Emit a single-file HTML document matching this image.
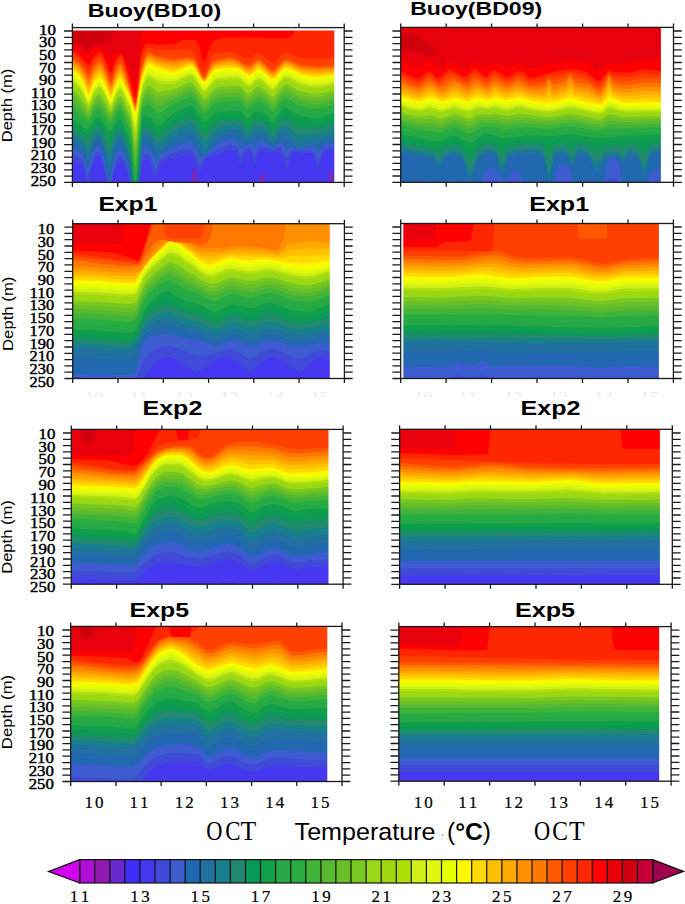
<!DOCTYPE html>
<html><head><meta charset="utf-8"><style>
html,body{margin:0;padding:0;background:#fff;}
body{width:685px;height:904px;overflow:hidden;}
svg{display:block;}
</style></head><body>
<svg width="685" height="904" viewBox="0 0 685 904">
<defs><filter id="soft" x="-5%" y="-5%" width="110%" height="110%"><feGaussianBlur stdDeviation="0.7"/></filter><clipPath id="ghost"><rect x="0" y="388" width="685" height="9"/></clipPath></defs>
<rect width="685" height="904" fill="#fff"/>
<clipPath id="cL1"><rect x="72.4" y="30.4" width="261.9" height="152"/></clipPath><g clip-path="url(#cL1)"><g filter="url(#soft)"><rect x="69.4" y="27.4" width="267.9" height="158" fill="#d00010"/>
<path d="M69.4,43 79.9,44 81.4,45 84.4,49 85.9,50 87.4,49.4 90.4,46.1 91.8,45 100.8,43.9 106.8,42.1 108.3,40.9 111.3,36.8 115.8,32.4 120.3,29.9 123.3,29 337.3,29 L337.3,185.4 L69.4,185.4Z" fill="#e80008"/>
<path d="M69.4,45 72.4,45.2 76.9,47.3 79.9,49.7 84.4,54.4 85.9,55 87.4,54.6 88.9,53.3 93.3,48.6 94.8,48 97.8,48.5 103.8,51.9 105.3,53.5 108.3,58.7 109.8,60 111.3,59 114.3,53.6 115.8,52 118.8,52.8 123.3,56.3 126.3,61.5 130.8,72.2 133.8,83.2 135.3,84.9 136.7,81 138.2,73.4 141.2,38.7 142.7,31.5 144.2,29 337.3,29 L337.3,185.4 L69.4,185.4Z" fill="#ff0000"/>
<path d="M69.4,50.4 72.4,50.7 78.4,54.5 84.4,60.4 87.4,64.6 88.9,65.4 90.4,63.5 93.3,57.6 96.3,54.1 99.3,52.1 100.8,52.3 102.3,54.3 103.8,57.3 106.8,63.8 109.8,71.7 111.3,72.7 112.8,69 114.3,63.8 117.3,57.6 118.8,55.2 120.3,54 121.8,54.9 123.3,58.1 126.3,66.8 133.8,94.7 135.3,97.9 136.7,91.4 139.7,63.4 141.2,54.3 144.2,47.4 145.7,45.3 147.2,44.2 148.7,44 157.7,45 169.7,44.4 175.7,43.5 181.6,40.2 195.1,40 196.6,41.4 199.6,47.6 202.6,59.5 204.1,62 205.6,59.9 208.6,50.6 211.6,44.1 213.1,41.7 214.6,40.2 217.6,39.3 226.5,37.8 237,37 267,38 289.4,38 290.9,37.5 295.4,30.2 337.3,30 L337.3,185.4 L69.4,185.4Z" fill="#ff2800"/>
<path d="M69.4,53 72.4,53.3 78.4,57.5 84.4,64.5 87.4,69.1 88.9,70 90.4,68 93.3,61.6 96.3,57.8 99.3,55.6 100.8,55.9 102.3,57.9 103.8,61.1 109.8,75.8 111.3,76.9 112.8,73.2 114.3,67.8 117.3,61.3 118.8,58.8 120.3,57.5 121.8,58.5 123.3,61.8 126.3,70.8 133.8,98.7 135.3,101.9 136.7,98.1 141.2,62.1 142.7,55.9 144.2,52.3 145.7,49.6 147.2,48.2 150.2,48.3 156.2,50 174.2,50 183.1,49 187.6,49.5 192.1,50.7 193.6,51.4 195.1,53.5 201.1,68.6 202.6,71.1 204.1,72 205.6,70.6 207.1,67.3 211.6,55.4 213.1,54 222.1,52.4 229.5,52 232.5,52.3 235.5,53.4 244.5,58 249,59 250.5,58.6 252,57.5 256.5,53.5 258,53 259.5,53.3 262.5,55.2 270,62 272.9,63 274.4,62.5 275.9,61.4 281.9,54.6 283.4,53.5 284.9,53 287.9,53.5 296.9,57.3 299.9,58 319.3,59 337.3,58 L337.3,185.4 L69.4,185.4Z" fill="#ff4000"/>
<path d="M69.4,57 72.4,57.3 78.4,61.5 81.4,64.6 84.4,68.5 87.4,73.9 88.9,75 90.4,73 93.3,66.5 96.3,62.5 97.8,61 99.3,60.1 100.8,60.3 102.3,62.3 105.3,68.6 109.8,80.7 111.3,81.9 112.8,78.2 114.3,72.9 117.3,66.1 118.8,63.4 120.3,62 121.8,63 126.3,75.8 133.8,101.9 135.3,104.9 136.7,101.4 141.2,69 144.2,58.6 145.7,55 147.2,52.7 148.7,52 150.2,52.3 156.2,55.8 163.7,57.2 174.2,58 184.6,57 190.6,57.6 193.6,58.3 195.1,60.1 196.6,63.1 201.1,73.8 202.6,76.2 204.1,77 205.6,75.8 211.6,62.5 213.1,61 220.6,58.3 226.5,57.2 229.5,57 232.5,57.4 235.5,58.6 244.5,63.9 249,65 250.5,64.6 252,63.5 256.5,59.5 258,59 259.5,59.3 262.5,61.4 270,68.9 271.4,69.7 272.9,70 274.4,69.5 275.9,68.4 283.4,60.1 284.9,59.2 286.4,59 290.9,60.2 299.9,64.5 302.9,65.1 316.3,66 337.3,65 L337.3,185.4 L69.4,185.4Z" fill="#ff5800"/>
<path d="M69.4,59.2 72.4,59.4 76.9,62.4 79.9,65.1 84.4,71.3 87.4,77.2 88.9,78.4 90.4,76.3 93.3,69.4 96.3,65.4 97.8,63.8 99.3,62.9 100.8,63.2 102.3,65.1 105.3,71.4 109.8,83.3 111.3,84.5 112.8,80.8 114.3,75.5 117.3,68.8 118.8,66.1 120.3,64.8 121.8,65.8 123.3,69.2 127.8,82.6 133.8,103.2 135.3,106.3 136.7,102.5 141.2,71.1 144.2,60.9 145.7,57.1 147.2,54.7 148.7,54 151.7,55 156.2,57.6 168.2,60 174.2,60.4 181.6,59.1 186.1,58.8 190.6,59 193.6,59.8 195.1,61.6 196.6,64.5 201.1,74.7 202.6,77.1 204.1,77.9 205.6,76.8 211.6,64.3 213.1,62.7 219.1,60.4 226.5,59 231,58.9 234,59.6 237,60.9 244.5,65.4 249,66.8 250.5,66.4 252,65.3 256.5,61.2 258,60.7 259.5,61 262.5,63.1 270,70.5 271.4,71.3 272.9,71.5 274.4,71.1 275.9,70 283.4,61.6 284.9,60.7 286.4,60.5 290.9,61.7 299.9,66.1 305.9,67.1 316.3,67.8 337.3,66.6 L337.3,185.4 L69.4,185.4Z" fill="#ff7800"/>
<path d="M69.4,61.3 72.4,61.6 76.9,64.5 79.9,67.3 84.4,74.2 87.4,80.5 88.9,81.8 90.4,79.5 93.3,72.4 96.3,68.2 97.8,66.7 99.3,65.8 100.8,66 102.3,67.9 105.3,74.2 109.8,86 111.3,87.1 112.8,83.4 114.3,78.1 117.3,71.4 118.8,68.9 120.3,67.6 121.8,68.5 123.3,71.8 127.8,84.6 133.8,104.5 135.3,107.7 136.7,103.7 141.2,73.2 144.2,63.1 145.7,59.3 147.2,56.8 148.7,56 150.2,56.3 156.2,59.5 157.7,60 165.2,61.7 171.2,62.6 175.7,62.6 186.1,60.4 192.1,60.6 193.6,61.3 195.1,63.1 201.1,75.6 202.6,78 204.1,78.8 205.6,77.7 210.1,68.7 211.6,66.1 213.1,64.4 217.6,62.4 226.5,60.8 231,60.7 235.5,61.7 238.5,63.1 246,67.7 249,68.5 250.5,68.2 252,67.2 256.5,62.9 258,62.4 259.5,62.7 262.5,64.7 270,72 271.4,72.8 272.9,73.1 274.4,72.6 275.9,71.5 283.4,63.1 284.9,62.2 286.4,62 290.9,63.2 299.9,67.7 307.4,69 317.8,69.6 337.3,68.2 L337.3,185.4 L69.4,185.4Z" fill="#ff9000"/>
<path d="M69.4,63.5 72.4,63.7 76.9,66.7 79.9,69.5 84.4,77 87.4,83.8 88.9,85.1 90.4,82.8 93.3,75.3 94.8,73.1 97.8,69.5 99.3,68.6 100.8,68.9 102.3,70.7 105.3,76.9 109.8,88.6 111.3,89.7 112.8,86 114.3,80.7 117.3,74.1 118.8,71.6 120.3,70.4 121.8,71.2 127.8,86.5 130.8,95 133.8,105.8 135.3,109.1 136.7,104.9 141.2,75.2 145.7,61.4 147.2,58.8 148.7,58 150.2,58.2 156.2,61.4 159.2,62.3 165.2,63.9 172.7,65.1 175.7,65 186.1,62.1 189.1,61.7 192.1,62 193.6,62.8 195.1,64.7 201.1,76.5 202.6,78.9 204.1,79.8 205.6,78.7 210.1,70.3 213.1,66.2 216.1,64.5 226.5,62.6 232.5,62.6 237,63.7 246,69.3 249,70.3 250.5,70.1 252,69 256.5,64.6 258,64.1 259.5,64.4 262.5,66.4 270,73.6 271.4,74.4 272.9,74.6 274.4,74.1 275.9,73 283.4,64.6 284.9,63.7 286.4,63.5 290.9,64.7 299.9,69.3 308.9,70.9 317.8,71.4 337.3,69.8 L337.3,185.4 L69.4,185.4Z" fill="#ffa800"/>
<path d="M69.4,65.6 72.4,65.9 76.9,68.8 79.9,71.7 84.4,79.8 87.4,87 88.9,88.5 90.4,86 93.3,78.2 94.8,76 97.8,72.4 99.3,71.5 100.8,71.7 102.3,73.6 105.3,79.7 109.8,91.2 111.3,92.3 112.8,88.7 114.3,83.3 117.3,76.8 118.8,74.4 120.3,73.1 121.8,74 130.8,96.3 133.8,107.1 135.3,110.5 136.7,106.1 138.2,94.7 141.2,77.3 145.7,63.5 147.2,60.8 148.7,59.9 151.7,60.8 156.2,63.3 162.2,65.3 172.7,67.5 175.7,67.3 187.6,63.4 190.6,63.1 192.1,63.4 193.6,64.3 195.1,66.2 201.1,77.4 202.6,79.8 204.1,80.7 205.6,79.7 211.6,69.6 214.6,66.7 219.1,65.4 226.5,64.4 232.5,64.4 237,65.2 240,66.7 246,70.9 249,72.1 250.5,71.9 252,70.9 256.5,66.3 258,65.8 259.5,66.1 262.5,68 270,75.1 272.9,76.1 274.4,75.7 275.9,74.6 283.4,66.1 284.9,65.2 286.4,65 290.9,66.2 299.9,70.8 310.4,72.9 317.8,73.2 332.8,71.6 337.3,71.5 L337.3,185.4 L69.4,185.4Z" fill="#ffc000"/>
<path d="M69.4,67.8 72.4,68 76.9,70.9 79.9,73.9 84.4,82.6 87.4,90.3 88.9,91.9 90.4,89.3 91.8,84.4 93.3,81.1 96.3,76.8 97.8,75.2 99.3,74.3 100.8,74.5 102.3,76.4 106.8,85.7 109.8,93.9 111.3,94.9 112.8,91.3 114.3,85.9 117.3,79.5 118.8,77.1 120.3,75.9 121.8,76.7 130.8,97.5 133.8,108.4 135.3,111.8 136.7,107.2 138.2,95.6 141.2,79.4 145.7,65.7 147.2,62.9 148.7,61.9 151.7,62.8 156.2,65.1 163.7,67.9 172.7,69.8 175.7,69.7 187.6,64.9 190.6,64.5 192.1,64.8 193.6,65.8 195.1,67.7 202.6,80.7 204.1,81.6 205.6,80.7 211.6,71.4 214.6,68.3 217.6,67.3 226.5,66.2 232.5,66.1 237,66.6 240,68 246,72.5 249,73.8 250.5,73.8 252,72.8 256.5,68 258,67.5 259.5,67.7 262.5,69.7 270,76.7 272.9,77.7 274.4,77.2 275.9,76.1 283.4,67.6 284.9,66.7 286.4,66.5 290.9,67.7 299.9,72.4 310.4,74.7 317.8,75 332.8,73.2 337.3,73.1 L337.3,185.4 L69.4,185.4Z" fill="#ffd800"/>
<path d="M69.4,69.9 72.4,70.2 76.9,73 79.9,76.1 84.4,85.4 87.4,93.6 88.9,95.3 90.4,92.5 91.8,87.5 93.3,84 96.3,79.6 97.8,78.1 99.3,77.2 100.8,77.4 102.3,79.2 106.8,88.5 109.8,96.5 111.3,97.6 112.8,93.9 114.3,88.5 117.3,82.2 118.8,79.8 120.3,78.7 121.8,79.5 130.8,98.8 133.8,109.7 135.3,113.2 136.7,108.4 138.2,96.5 141.2,81.5 145.7,67.8 147.2,64.9 148.7,63.9 151.7,64.7 156.2,67 163.7,70 169.7,71.7 174.2,72.3 175.7,72.1 187.6,66.4 190.6,65.8 192.1,66.1 193.6,67.3 198.1,73.6 202.6,81.6 204.1,82.5 205.6,81.6 210.1,75.1 214.6,69.9 216.1,69.2 226.5,68.1 235.5,67.9 238.5,68.5 246,74.1 249,75.6 250.5,75.6 252,74.6 256.5,69.8 258,69.2 259.5,69.4 262.5,71.4 270,78.3 272.9,79.2 274.4,78.8 275.9,77.6 283.4,69.1 284.9,68.2 286.4,68 290.9,69.2 298.4,73.3 301.4,74.5 311.9,76.6 319.3,76.7 332.8,74.8 337.3,74.7 L337.3,185.4 L69.4,185.4Z" fill="#fff800"/>
<path d="M69.4,72.4 72.4,72.6 76.9,75.5 79.9,78.6 84.4,88 87.4,96.2 88.9,97.9 90.4,95.1 91.8,90 93.3,86.5 96.3,82.1 97.8,80.6 99.3,79.7 100.8,80 102.3,81.8 106.8,91 109.8,98.8 111.3,99.8 112.8,96.1 114.3,90.8 117.3,84.6 118.8,82.3 120.3,81.2 121.8,82 130.8,100.7 133.8,112.3 135.3,116 136.7,110.9 138.2,98.7 141.2,83.8 145.7,70.2 147.2,67.4 148.7,66.4 151.7,67.2 156.2,69.6 163.7,72.5 169.7,74.1 174.2,74.6 175.7,74.4 187.6,68.3 190.6,67.7 192.1,68 193.6,69.2 198.1,75.3 202.6,83.2 204.1,84.1 205.6,83.3 210.1,77.1 214.6,71.9 216.1,71.2 226.5,70.2 237,69.9 238.5,70.3 241.5,72.3 246,76.2 249,77.7 250.5,77.7 252,76.7 256.5,71.8 258,71.2 259.5,71.5 262.5,73.3 270,80.2 272.9,81.2 274.4,80.7 275.9,79.5 283.4,70.9 284.9,70 286.4,69.8 290.9,71.1 298.4,75.3 301.4,76.5 311.9,78.7 319.3,78.8 332.8,76.8 337.3,76.6 L337.3,185.4 L69.4,185.4Z" fill="#e8ff00"/>
<path d="M69.4,75.1 72.4,75.3 76.9,78.2 79.9,81.3 84.4,90.4 87.4,98.2 88.9,99.7 90.4,97 91.8,92 93.3,88.6 96.3,84.2 97.8,82.7 99.3,82 100.8,82.3 102.3,84.2 106.8,93.2 109.8,100.7 111.3,101.5 112.8,98 114.3,92.8 117.3,86.7 118.8,84.4 120.3,83.4 121.8,84.3 130.8,103.3 133.8,116.2 135.3,120.1 136.7,114.8 138.2,102.3 141.2,86.3 142.7,81 145.7,72.9 147.2,70.2 148.7,69.4 151.7,70.3 156.2,72.9 162.2,75.1 172.7,76.9 175.7,76.6 187.6,70.6 190.6,70 192.1,70.3 193.6,71.5 198.1,77.6 202.6,85.4 204.1,86.3 205.6,85.5 210.1,79.5 214.6,74.4 216.1,73.7 226.5,72.7 235.5,72.3 238.5,72.7 241.5,74.6 246,78.7 249,80.1 250.5,80 252,78.9 256.5,74.2 258,73.6 259.5,73.8 262.5,75.6 270,82.5 271.4,83.3 272.9,83.6 274.4,83.1 275.9,81.9 283.4,73.2 284.9,72.3 286.4,72.1 290.9,73.5 298.4,77.6 301.4,78.8 311.9,81 319.3,81.1 332.8,78.9 337.3,78.8 L337.3,185.4 L69.4,185.4Z" fill="#e0f810"/>
<path d="M69.4,77.8 72.4,78 76.9,81 79.9,84 84.4,92.8 87.4,100.1 88.9,101.5 90.4,98.9 93.3,90.7 96.3,86.3 97.8,84.9 99.3,84.2 100.8,84.6 102.3,86.5 106.8,95.4 109.8,102.6 111.3,103.3 112.8,99.9 114.3,94.9 117.3,88.8 118.8,86.6 120.3,85.6 121.8,86.6 130.8,105.9 133.8,120.1 135.3,124.2 136.7,118.6 138.2,105.9 141.2,88.9 142.7,83.3 145.7,75.6 147.2,73.1 148.7,72.3 151.7,73.3 156.2,76.2 160.7,77.7 165.2,78.7 172.7,79.3 175.7,78.9 187.6,72.9 190.6,72.3 192.1,72.6 193.6,73.8 198.1,79.9 202.6,87.6 204.1,88.6 205.6,87.8 214.6,76.9 216.1,76.2 226.5,75.1 235.5,74.8 238.5,75.1 241.5,77 246,81.2 249,82.4 250.5,82.3 252,81.2 256.5,76.5 258,76 259.5,76.2 262.5,77.9 270,84.8 271.4,85.7 272.9,86 274.4,85.4 275.9,84.2 283.4,75.4 284.9,74.5 286.4,74.4 290.9,75.8 299.9,80.6 311.9,83.4 319.3,83.4 332.8,81.1 337.3,80.9 L337.3,185.4 L69.4,185.4Z" fill="#d0f018"/>
<path d="M69.4,80.5 72.4,80.7 76.9,83.8 79.9,86.7 84.4,95.1 87.4,102.1 88.9,103.4 90.4,100.7 93.3,92.7 96.3,88.4 97.8,87 99.3,86.4 100.8,86.9 102.3,88.8 106.8,97.6 109.8,104.5 111.3,105.1 112.8,101.7 114.3,96.9 117.3,90.9 118.8,88.7 120.3,87.9 121.8,88.9 130.8,108.5 133.8,123.9 135.3,128.4 136.7,122.5 139.7,99.7 142.7,85.5 145.7,78.3 147.2,76 148.7,75.3 151.7,76.4 156.2,79.6 159.2,80.5 163.7,81.4 171.2,81.6 175.7,81.1 187.6,75.2 190.6,74.5 192.1,74.9 193.6,76.1 198.1,82.2 202.6,89.8 204.1,90.8 205.6,90.1 214.6,79.3 217.6,78.4 228,77.5 237,77.2 238.5,77.5 241.5,79.3 246,83.7 247.5,84.6 249,84.8 250.5,84.5 252,83.4 256.5,78.9 258,78.3 259.5,78.6 262.5,80.2 270,87.1 271.4,88.1 272.9,88.4 274.4,87.8 275.9,86.5 280.4,80.8 283.4,77.6 284.9,76.8 286.4,76.7 290.9,78.1 299.9,83 311.9,85.7 319.3,85.8 332.8,83.3 337.3,83.1 L337.3,185.4 L69.4,185.4Z" fill="#b0e008"/>
<path d="M69.4,83.2 72.4,83.4 76.9,86.5 79.9,89.5 84.4,97.5 87.4,104 88.9,105.2 90.4,102.6 93.3,94.8 96.3,90.5 97.8,89.2 99.3,88.7 100.8,89.2 102.3,91.2 109.8,106.4 111.3,106.9 114.3,98.9 117.3,92.9 118.8,90.9 120.3,90.1 121.8,91.2 130.8,111.1 133.8,127.8 135.3,132.5 136.7,126.3 139.7,102.9 141.2,94 142.7,87.7 145.7,81 147.2,78.9 148.7,78.3 151.7,79.4 156.2,82.9 160.7,84.1 165.2,84.4 172.7,83.9 175.7,83.4 187.6,77.5 190.6,76.8 192.1,77.2 195.1,80.2 202.6,92.1 204.1,93 205.6,92.4 214.6,81.8 217.6,80.9 228,79.9 237,79.6 238.5,79.9 241.5,81.6 246,86.2 247.5,87 249,87.2 250.5,86.8 256.5,81.2 258,80.7 259.5,80.9 261,81.6 264,83.7 270,89.4 271.4,90.4 272.9,90.8 274.4,90.2 275.9,88.8 281.9,81.3 284.9,79 286.4,78.9 289.4,79.8 296.9,84 301.4,85.8 311.9,88 319.3,88.1 332.8,85.5 337.3,85.3 L337.3,185.4 L69.4,185.4Z" fill="#a0d810"/>
<path d="M69.4,85.9 72.4,86.2 78.4,90.5 81.4,94.6 87.4,106 88.9,107 90.4,104.5 93.3,96.9 94.8,94.6 97.8,91.3 99.3,90.9 100.8,91.6 102.3,93.5 109.8,108.3 111.3,108.7 115.8,97.7 118.8,93 120.3,92.4 121.8,93.6 123.3,96.5 130.8,113.7 133.8,131.7 135.3,136.7 136.7,130.2 139.7,106.1 141.2,96.5 142.7,89.9 145.7,83.7 147.2,81.8 148.7,81.3 151.7,82.5 156.2,86.2 159.2,87 163.7,87.3 174.2,86.1 175.7,85.6 187.6,79.7 190.6,79.1 192.1,79.4 195.1,82.5 202.6,94.3 204.1,95.2 205.6,94.7 214.6,84.2 217.6,83.4 228,82.4 237,82 238.5,82.3 241.5,84 246,88.7 247.5,89.5 249,89.6 250.5,89.1 256.5,83.6 258,83.1 259.5,83.3 264,86 271.4,92.8 272.9,93.2 274.4,92.6 275.9,91.1 281.9,83.5 284.9,81.3 286.4,81.2 289.4,82.1 299.9,87.6 311.9,90.4 319.3,90.4 332.8,87.7 337.3,87.5 L337.3,185.4 L69.4,185.4Z" fill="#98d818"/>
<path d="M69.4,89.8 72.4,90.1 78.4,94.6 81.4,98.4 87.4,108.8 88.9,109.7 90.4,107.3 93.3,100 94.8,97.6 97.8,94.5 99.3,94.2 100.8,95 102.3,96.9 109.8,111 111.3,111.3 114.3,103.9 117.3,98.1 118.8,96.2 120.3,95.6 121.8,96.9 123.3,99.9 129.3,113.3 130.8,117.5 132.3,125.7 133.8,137.4 135.3,142.7 136.7,135.8 139.7,110.8 141.2,100.3 142.7,93.2 145.7,87.7 147.2,86 148.7,85.6 150.2,86 151.7,87 156.2,91 159.2,91.7 162.2,91.8 174.2,89.4 187.6,83.1 190.6,82.5 192.1,82.8 195.1,85.9 202.6,97.6 204.1,98.5 205.6,98 207.1,96.5 214.6,87.9 217.6,87 228,86 237,85.6 240,86.3 241.5,87.4 246,92.4 247.5,93.1 249,93.1 250.5,92.5 255,88 256.5,87 258,86.6 259.5,86.8 264,89.3 267,91.8 270,95.1 271.4,96.3 272.9,96.7 274.4,96 275.9,94.5 281.9,86.8 284.9,84.6 286.4,84.5 289.4,85.5 296.9,89.8 299.9,91.1 311.9,93.8 319.3,93.8 332.8,90.9 337.3,90.7 L337.3,185.4 L69.4,185.4Z" fill="#78c820"/>
<path d="M69.4,93.8 72.4,94.1 78.4,98.6 81.4,102.3 87.4,111.7 88.9,112.3 90.4,110 91.8,106.1 94.8,100.7 96.3,98.8 97.8,97.7 99.3,97.5 100.8,98.4 102.3,100.4 109.8,113.8 111.3,114 114.3,106.9 117.3,101.2 118.8,99.4 120.3,98.9 121.8,100.3 123.3,103.3 129.3,116.9 130.8,121.3 132.3,130.2 133.8,143.1 135.3,148.8 136.7,141.5 141.2,104 142.7,96.4 145.7,91.6 147.2,90.3 148.7,90 150.2,90.4 156.2,95.9 157.7,96.4 160.7,96.5 163.7,96 175.7,92.3 187.6,86.4 190.6,85.9 192.1,86.2 195.1,89.2 202.6,100.8 204.1,101.8 205.6,101.3 207.1,100 214.6,91.5 219.1,90.4 231,89.4 237,89.1 240,89.8 241.5,90.8 246,96.1 247.5,96.8 249,96.6 250.5,95.8 255,91.4 256.5,90.5 258,90.1 259.5,90.3 264,92.6 267,95.1 271.4,99.8 272.9,100.2 274.4,99.5 275.9,97.9 281.9,90 284.9,87.9 286.4,87.9 289.4,88.9 296.9,93.3 299.9,94.5 311.9,97.2 319.3,97.2 332.8,94.1 337.3,93.9 L337.3,185.4 L69.4,185.4Z" fill="#68c028"/>
<path d="M69.4,97.8 72.4,98.1 78.4,102.7 81.4,106.2 87.4,114.6 88.9,115 90.4,112.8 93.3,106.1 94.8,103.7 96.3,101.9 97.8,100.8 99.3,100.8 100.8,101.8 102.3,103.8 108.3,114.6 109.8,116.6 111.3,116.6 114.3,109.8 117.3,104.2 118.8,102.5 120.3,102.2 121.8,103.7 123.3,106.7 129.3,120.5 130.8,125.1 132.3,134.7 133.8,148.8 135.3,154.9 136.7,147.1 141.2,107.8 142.7,99.6 145.7,95.6 147.2,94.5 148.7,94.3 150.2,94.8 156.2,100.8 157.7,101.2 160.7,101.1 163.7,100.3 175.7,95.6 186.1,90.3 190.6,89.2 192.1,89.5 193.6,90.7 198.1,97 201.1,102 202.6,104.1 204.1,105 205.6,104.7 207.1,103.4 214.6,95.1 216.1,94.5 220.6,93.8 232.5,92.9 237,92.7 240,93.2 241.5,94.3 246,99.8 247.5,100.4 249,100.1 250.5,99.2 255,94.7 258,93.6 259.5,93.7 262.5,95 265.5,97 271.4,103.3 272.9,103.8 274.4,103 275.9,101.2 278.9,96.8 281.9,93.3 283.4,91.9 284.9,91.2 286.4,91.2 289.4,92.3 296.9,96.7 299.9,97.9 311.9,100.6 319.3,100.6 332.8,97.3 337.3,97 L337.3,185.4 L69.4,185.4Z" fill="#58b830"/>
<path d="M69.4,101.8 72.4,102 76.9,105.4 79.9,108.2 87.4,117.4 88.9,117.7 90.4,115.5 93.3,109.1 94.8,106.8 96.3,104.9 97.8,104 99.3,104.1 100.8,105.1 102.3,107.2 108.3,117.7 109.8,119.4 111.3,119.2 117.3,107.3 118.8,105.7 120.3,105.5 121.8,107.1 123.3,110.1 129.3,124.1 130.8,128.9 132.3,139.2 133.8,154.5 135.3,160.9 136.7,152.8 141.2,111.5 142.7,102.9 145.7,99.6 147.2,98.7 148.7,98.7 150.2,99.2 156.2,105.6 159.2,106 163.7,104.6 184.6,94.3 187.6,93.1 190.6,92.6 192.1,92.9 193.6,94.1 196.6,98.1 201.1,105.3 202.6,107.3 204.1,108.3 205.6,108 207.1,106.8 214.6,98.7 216.1,98.1 220.6,97.5 234,96.4 237,96.2 240,96.7 241.5,97.7 246,103.4 247.5,104.1 249,103.6 250.5,102.6 255,98.1 258,97.1 259.5,97.2 262.5,98.4 265.5,100.3 267,101.5 271.4,106.7 272.9,107.3 274.4,106.5 278.9,100 281.9,96.5 283.4,95.2 284.9,94.5 286.4,94.6 289.4,95.6 298.4,100.8 305.9,102.9 311.9,104 316.3,104.3 319.3,104 332.8,100.5 337.3,100.2 L337.3,185.4 L69.4,185.4Z" fill="#40b438"/>
<path d="M69.4,107.1 72.4,107.4 75.4,109.7 79.9,113.7 87.4,121.3 88.9,121.3 90.4,119.3 93.3,113.3 96.3,109.1 97.8,108.3 99.3,108.5 100.8,109.8 108.3,121.8 109.8,123.2 111.3,122.8 117.3,111.5 118.8,110 120.3,110 121.8,111.7 123.3,114.8 129.3,129 130.8,134 132.3,145.4 133.8,162.3 135.3,169.2 136.7,160.5 141.2,116.6 142.7,107.3 145.7,104.9 147.2,104.5 150.2,105.2 156.2,112.2 159.2,112.4 162.2,111.4 171.2,105.5 183.1,99.4 187.6,97.7 190.6,97.2 192.1,97.5 193.6,98.6 196.6,102.7 201.1,109.8 202.6,111.7 204.1,112.7 205.6,112.6 207.1,111.5 213.1,104.8 214.6,103.6 220.6,102.4 235.5,101.1 240,101.3 241.5,102.4 246,108.4 247.5,109 249,108.4 253.5,103.7 255,102.6 258,101.9 261,102.3 264,103.8 267,105.9 271.4,111.5 272.9,112 274.4,111.2 280.4,102.6 283.4,99.7 284.9,99 286.4,99.1 289.4,100.3 295.4,104.1 298.4,105.5 305.9,107.6 311.9,108.7 316.3,108.9 319.3,108.6 332.8,104.9 337.3,104.6 L337.3,185.4 L69.4,185.4Z" fill="#28ac40"/>
<path d="M69.4,112.5 72.4,112.8 76.9,116.4 82.9,122 87.4,125.2 88.9,124.9 90.4,123 93.3,117.4 96.3,113.3 97.8,112.6 99.3,113 100.8,114.4 102.3,116.5 106.8,124 108.3,125.9 109.8,126.9 111.3,126.3 117.3,115.6 118.8,114.2 120.3,114.4 121.8,116.3 127.8,129.9 130.8,139.2 132.3,151.5 133.8,170 135.3,177.4 136.7,168.1 141.2,121.7 142.7,111.7 144.2,110.7 147.2,110.2 150.2,111.2 151.7,112.7 154.7,117.2 156.2,118.8 157.7,119.1 159.2,118.9 163.7,116.4 172.7,109.3 184.6,103.2 187.6,102.2 190.6,101.7 192.1,102 193.6,103.2 201.1,114.3 202.6,116.2 204.1,117.2 205.6,117.1 207.1,116.2 213.1,109.7 214.6,108.5 220.6,107.3 235.5,106 240,106 241.5,107 246,113.4 247.5,113.9 249,113.2 253.5,108.2 255,107.2 258,106.6 261,107 264,108.3 267,110.2 271.4,116.2 272.9,116.8 274.4,115.9 280.4,107 283.4,104.1 284.9,103.5 287.9,104.1 295.4,108.8 298.4,110.2 305.9,112.2 311.9,113.3 316.3,113.5 319.3,113.3 332.8,109.2 337.3,108.9 L337.3,185.4 L69.4,185.4Z" fill="#28a848"/>
<path d="M69.4,117.9 72.4,118.2 82.9,127 85.9,128.7 87.4,129.1 88.9,128.5 90.4,126.7 94.8,119.2 96.3,117.5 97.8,116.9 99.3,117.5 100.8,119 106.8,128.4 108.3,130 109.8,130.7 111.3,129.9 112.8,127.7 117.3,119.8 118.8,118.5 120.3,118.9 121.8,120.9 123.3,124.1 127.8,134.7 130.8,144.3 132.3,157.6 133.8,177.7 135.3,185.4 136.7,175.8 141.2,126.8 142.7,116.1 144.2,115.6 145.7,115.7 150.2,117.1 151.7,118.8 154.7,123.7 156.2,125.4 157.7,125.7 159.2,125.3 162.2,123.5 172.7,114 184.6,107.7 187.6,106.7 190.6,106.3 192.1,106.6 193.6,107.7 201.1,118.8 202.6,120.6 204.1,121.6 205.6,121.7 207.1,120.9 213.1,114.5 214.6,113.4 222.1,112 237,110.7 240,110.7 241.5,111.7 246,118.4 247.5,118.9 249,117.9 253.5,112.6 255,111.7 258,111.4 261,111.6 264,112.8 267,114.6 271.4,120.9 272.9,121.6 274.4,120.6 278.9,113.2 280.4,111.4 283.4,108.5 284.9,108 287.9,108.7 296.9,114.3 304.4,116.5 311.9,117.9 316.3,118.2 319.3,117.9 323.8,116.7 332.8,113.6 337.3,113.2 L337.3,185.4 L69.4,185.4Z" fill="#10a048"/>
<path d="M69.4,123 72.4,123.2 81.4,130.5 85.9,133.7 87.4,134.4 88.9,133.4 94.8,123.6 96.3,121.9 97.8,121.4 99.3,122.1 100.8,123.7 108.3,136.4 109.8,136.9 111.3,135.2 117.3,124.3 118.8,123 120.3,123.5 121.8,125.5 123.3,128.6 127.8,139.3 130.8,149.6 132.3,163.8 133.8,185.2 135.3,185.4 136.7,183.1 141.2,131.9 142.7,120.8 144.2,120.6 145.7,120.9 150.2,122.6 151.7,124.3 154.7,129.6 156.2,131.3 157.7,131.6 159.2,131.2 162.2,129.3 171.2,120.5 174.2,118.4 184.6,113 187.6,112 190.6,111.6 192.1,111.9 193.6,113.1 202.6,126.2 204.1,127.2 205.6,127.4 207.1,126.6 208.6,125.2 213.1,119.9 214.6,118.7 222.1,116.8 232.5,115.7 240,115.5 241.5,116.5 246,123.4 247.5,123.8 249,122.7 253.5,117.3 255,116.5 261,116.5 264,117.5 267,119.3 271.4,125.8 272.9,126.6 274.4,125.5 278.9,118 280.4,116.4 283.4,113.7 284.9,113.2 287.9,114 296.9,120.3 302.9,121.8 310.4,122.9 316.3,123 319.3,122.7 332.8,118.5 337.3,118.2 L337.3,185.4 L69.4,185.4Z" fill="#089858"/>
<path d="M69.4,127.7 72.4,128 75.4,130.1 84.4,137.2 85.9,139.6 87.4,141.1 88.9,139.6 94.8,128.4 96.3,126.6 97.8,126.1 99.3,126.8 100.8,128.6 105.3,136.9 108.3,145.1 109.8,145.4 114.3,134.9 117.3,129.1 118.8,127.8 120.3,128.2 121.8,130.1 123.3,133 127.8,143.8 129.3,148.6 130.8,155 133.8,185.4 136.7,185.4 141.2,137.1 142.7,125.8 144.2,125.6 145.7,125.9 150.2,127.6 151.7,129.4 154.7,134.8 156.2,136.6 157.7,136.8 159.2,136.4 162.2,134.7 171.2,126.4 174.2,124.4 184.6,119 187.6,118 190.6,117.6 192.1,117.9 193.6,119.1 202.6,133 204.1,134.1 205.6,134.2 207.1,133.4 208.6,131.8 213.1,125.9 214.6,124.4 222.1,121.6 229.5,120.2 235.5,120.1 240,120.5 241.5,121.6 246,128.3 247.5,128.7 249,127.6 253.5,122.3 255,121.5 261,121.6 265.5,123.2 267,124.3 271.4,130.9 272.9,131.7 274.4,130.7 278.9,123.4 281.9,120.7 283.4,119.6 284.9,119.2 287.9,120.2 293.9,125.6 296.9,127.7 301.4,128.5 308.9,128.7 317.8,128 322.3,127.1 332.8,124.1 337.3,123.8 L337.3,185.4 L69.4,185.4Z" fill="#208870"/>
<path d="M69.4,132.4 72.4,132.7 81.4,138.9 84.4,141.8 85.9,145.4 87.4,147.9 88.9,145.8 90.4,141.8 94.8,133.2 96.3,131.4 97.8,130.8 99.3,131.5 102.3,136 105.3,142.6 108.3,153.8 109.8,153.9 112.8,144 115.8,136.8 117.3,133.9 118.8,132.5 120.3,132.8 121.8,134.6 124.8,140.8 127.8,148.2 129.3,153.4 130.8,160.4 132.3,176.1 133.8,185.4 136.7,185.4 138.2,177.9 141.2,142.2 142.7,130.8 144.2,130.6 145.7,130.9 150.2,132.6 151.7,134.4 154.7,139.9 156.2,141.8 157.7,142.1 159.2,141.7 162.2,140.1 171.2,132.4 174.2,130.4 184.6,125 187.6,124 190.6,123.6 192.1,123.9 193.6,125.2 201.1,137.9 202.6,139.8 204.1,141 205.6,141.1 207.1,140.2 208.6,138.4 214.6,130.1 222.1,126.3 226.5,125 229.5,124.5 234,124.6 240,125.5 241.5,126.7 246,133.2 247.5,133.6 249,132.6 253.5,127.2 255,126.5 259.5,126.5 262.5,127.1 265.5,128.3 267,129.3 271.4,136.1 272.9,136.8 274.4,135.8 278.9,128.8 281.9,126.4 284.9,125.2 286.4,125.5 287.9,126.4 295.4,134.1 296.9,135 298.4,135.3 302.9,135.3 307.4,134.8 320.8,132.5 332.8,129.6 337.3,129.3 L337.3,185.4 L69.4,185.4Z" fill="#18808c"/>
<path d="M69.4,137.1 72.4,137.4 79.9,141.9 82.9,144.5 84.4,146.4 85.9,151.3 87.4,154.6 88.9,152 90.4,147.1 91.8,143.7 94.8,138 96.3,136.1 97.8,135.5 99.3,136.3 102.3,141 105.3,148.2 108.3,162.5 109.8,162.4 112.8,149.7 115.8,141.8 117.3,138.8 118.8,137.2 120.3,137.5 121.8,139.2 123.3,141.9 127.8,152.7 130.8,165.9 132.3,182.3 133.8,185.4 136.7,185.4 138.2,184 141.2,147.4 142.7,135.8 144.2,135.6 145.7,135.9 150.2,137.6 151.7,139.5 154.7,145.1 156.2,147.1 157.7,147.3 159.2,147 162.2,145.5 171.2,138.3 174.2,136.4 184.6,131 187.6,130 190.6,129.6 192.1,129.9 193.6,131.3 201.1,144.6 202.6,146.6 204.1,147.8 205.6,148 207.1,146.9 208.6,145.1 214.6,135.8 219.1,132.8 223.6,130.4 226.5,129.3 229.5,128.9 234,129.1 240,130.5 241.5,131.8 246,138.1 247.5,138.5 249,137.5 253.5,132.2 255,131.5 259.5,131.7 262.5,132.2 265.5,133.3 267,134.3 271.4,141.2 272.9,141.9 274.4,141 278.9,134.2 281.9,132.1 284.9,131.2 286.4,131.6 287.9,132.6 295.4,141.3 296.9,142.3 298.4,142.6 304.4,141.8 316.3,138.4 332.8,135.1 337.3,134.9 L337.3,185.4 L69.4,185.4Z" fill="#2070a0"/>
<path d="M69.4,142.4 72.4,142.7 79.9,146.8 82.9,149.4 84.4,151.9 85.9,157.9 87.4,161.9 88.9,158.9 90.4,153.3 91.8,149.4 94.8,143.2 96.3,141.1 97.8,140.4 99.3,141.3 102.3,146.6 105.3,154.8 108.3,171.4 109.8,171.2 112.8,156.5 115.8,147.8 117.3,144.5 118.8,142.8 120.3,143.1 121.8,144.6 123.3,147.1 126.3,153.5 127.8,157.9 130.8,172.1 132.3,185.4 138.2,185.4 139.7,173.1 141.2,153.4 142.7,141.5 144.2,141.2 145.7,141.5 150.2,143.4 151.7,145.6 154.7,152 156.2,153.6 157.7,153.3 159.2,152.3 172.7,142.8 184.6,137.1 187.6,136.2 190.6,135.8 192.1,136.2 193.6,137.9 198.1,146.4 201.1,151 202.6,152.4 204.1,152.9 205.6,152.6 207.1,151.4 213.1,142.9 216.1,140 223.6,135.5 226.5,134.3 229.5,133.7 234,134.2 237,135.2 244.5,141.2 246,142.2 247.5,142.4 252,139.2 255,138.5 258,136.8 259.5,136.6 262.5,137.2 267,138.9 271.4,144.9 272.9,145.6 274.4,144.7 278.9,139.1 280.4,138.1 283.4,138.1 290.9,141.8 295.4,146 296.9,146.9 298.4,147.1 302.9,146.5 311.9,143.8 313.4,143.6 317.8,144.5 323.8,141.3 334.3,139.5 337.3,139.5 L337.3,185.4 L69.4,185.4Z" fill="#2068b0"/>
<path d="M69.4,148.3 72.4,148.5 79.9,152.4 82.9,154.9 84.4,158.3 85.9,165.3 87.4,169.6 88.9,166.6 91.8,155.7 94.8,148.8 96.3,146.4 97.8,145.6 99.3,146.6 100.8,149.1 103.8,156.6 105.3,162.4 108.3,180.5 109.8,180.3 112.8,164.3 115.8,154.6 117.3,151.1 118.8,149.2 120.3,149.5 121.8,150.9 123.3,153.2 126.3,159.2 127.8,163.8 132.3,185.4 138.2,185.4 139.7,180.5 141.2,160.1 142.7,147.8 144.2,147.5 145.7,147.9 150.2,150 154.7,160.6 156.2,161.3 157.7,159.9 160.7,155.4 162.2,154.1 168.2,150.3 172.7,148 181.6,144.3 189.1,142.3 190.6,142.2 192.1,142.8 193.6,145 198.1,154.8 199.6,156.6 201.1,157.3 202.6,157 204.1,156.2 208.6,152.3 214.6,146.2 223.6,141 226.5,139.7 229.5,139.2 232.5,139.4 235.5,140.3 237,141.4 240,146.6 241.5,147.7 243,147.1 244.5,145.9 247.5,145.4 250.5,143.9 252,145 253.5,147 255,147.6 258,142.3 259.5,141.4 267,143.3 271.4,147.3 272.9,147.7 274.4,147.2 278.9,143.4 280.4,142.8 281.9,143.6 286.4,148.8 287.9,149.1 290.9,146.7 292.4,146.2 295.4,148 298.4,148.9 304.4,148.4 311.9,146.9 313.4,147.4 316.3,151.3 317.8,152.3 319.3,151.3 322.3,146.4 323.8,144.9 334.3,143 337.3,143 L337.3,185.4 L69.4,185.4Z" fill="#3c5cd0"/>
<path d="M69.4,154.1 72.4,154.4 78.4,157.1 82.9,160.4 84.4,164.7 85.9,172.7 87.4,177.3 88.9,174.2 91.8,162.1 94.8,154.5 96.3,151.7 97.8,150.8 99.3,152 100.8,154.7 103.8,163 105.3,170 106.8,180.9 108.3,185.4 109.8,185.4 111.3,181.6 112.8,172.2 114.3,166 117.3,157.7 118.8,155.7 120.3,155.9 121.8,157.1 123.3,159.2 126.3,164.9 127.8,169.7 130.8,185.4 139.7,185.4 141.2,166.9 142.7,154.1 144.2,153.8 145.7,154.2 150.2,156.6 154.7,169.3 156.2,169.1 160.7,159.7 162.2,158 166.7,155.5 171.2,153.7 181.6,150.3 187.6,148.9 190.6,148.6 192.1,149.4 193.6,152.2 198.1,163.1 199.6,164.2 201.1,163.5 205.6,157.2 207.1,155.8 213.1,152 223.6,146.5 226.5,145.2 229.5,144.6 232.5,144.9 235.5,146 237,147.7 240,155.6 241.5,156.7 244.5,150.6 246,148.7 250.5,147.7 253.5,155.3 255,156.7 258,147.7 259.5,146.2 267,147.6 271.4,149.6 272.9,149.9 274.4,149.6 278.9,147.7 280.4,147.5 281.9,149.3 284.9,155.9 286.4,158.2 287.9,158.1 290.9,151.6 292.4,149.3 296.9,150.4 301.4,150.8 311.9,149.9 313.4,151.2 316.3,158.3 317.8,160.2 319.3,158.7 322.3,150.9 323.8,148.5 332.8,146.7 337.3,146.5 L337.3,185.4 L69.4,185.4Z" fill="#4048d8"/>
<path d="M69.4,160 72.4,160.2 78.4,162.6 81.4,164.5 82.9,165.9 84.4,171.1 85.9,180 87.4,185 88.9,181.8 91.8,168.4 93.3,164.2 96.3,157.1 97.8,156 99.3,157.3 100.8,160.3 103.8,169.4 106.8,185.4 111.3,185.4 115.8,168.2 117.3,164.2 118.8,162.1 120.3,162.3 121.8,163.4 123.3,165.3 126.3,170.6 127.8,175.6 129.3,183.3 130.8,185.4 139.7,185.4 142.7,160.4 144.2,160.1 147.2,161.2 150.2,163.2 153.2,173.9 154.7,177.9 156.2,176.8 160.7,164 162.2,161.9 168.2,159.4 186.1,155.4 190.6,155 192.1,155.9 193.6,159.3 196.6,168.4 198.1,171.4 199.6,171.8 201.1,169.8 205.6,159.5 207.1,158 216.1,155.8 225.1,151.3 229.5,150 232.5,150.4 235.5,151.7 237,153.9 240,164.7 241.5,165.6 244.5,155.3 246,152 247.5,151.4 249,151.1 250.5,151.5 253.5,163.5 255,165.8 258,153.1 259.5,151 265.5,152 280.4,152.2 281.9,155 284.9,164.6 286.4,167.7 287.9,167 292.4,152.4 293.9,152 302.9,152.9 311.9,153 313.4,154.9 316.3,165.2 317.8,168 319.3,166.1 322.3,155.4 323.8,152.1 328.3,150.9 334.3,150 337.3,150 L337.3,185.4 L69.4,185.4Z" fill="#4438f0"/>
<path d="M69.4,185.4 180.2,185.4 190.6,185 193.6,185.4 214.6,185.4 229.5,183.3 235.5,183.9 238.5,185.4 243,185.4 244.5,185.1 246,184 249,183.7 250.5,183.8 252,185.4 256.5,185.4 259.5,183.7 280.4,184.1 283.4,185.4 290.9,185.4 292.4,184.1 293.9,184 311.9,184.3 314.9,185.4 320.8,185.4 322.3,185.1 323.8,184 325.3,183.8 337.3,183.3 L337.3,185.4 L69.4,185.4Z" fill="#412dfa"/>
<ellipse cx="194" cy="177" rx="2.8" ry="8" fill="#7a2ab8"/>
<ellipse cx="262" cy="179" rx="2.4" ry="6" fill="#7a2ab8"/>
<ellipse cx="331" cy="178" rx="2.6" ry="7" fill="#7a2ab8"/></g></g>
<rect x="72.4" y="27.6" width="271.8" height="154.8" fill="none" stroke="#1a1a1a" stroke-width="1.3"/>
<path d="M72.4,27.6V23.6M72.4,182.4V186.9M117.7,27.6V23.6M117.7,182.4V186.9M163,27.6V23.6M163,182.4V186.9M208.3,27.6V23.6M208.3,182.4V186.9M253.6,27.6V23.6M253.6,182.4V186.9M298.9,27.6V23.6M298.9,182.4V186.9M344.2,27.6V23.6M344.2,182.4V186.9M72.4,31H64.1M344.2,31H352.5M72.4,37.3H64.1M344.2,37.3H352.5M72.4,43.6H64.1M344.2,43.6H352.5M72.4,49.9H64.1M344.2,49.9H352.5M72.4,56.2H64.1M344.2,56.2H352.5M72.4,62.5H64.1M344.2,62.5H352.5M72.4,68.8H64.1M344.2,68.8H352.5M72.4,75.2H64.1M344.2,75.2H352.5M72.4,81.5H64.1M344.2,81.5H352.5M72.4,87.8H64.1M344.2,87.8H352.5M72.4,94.1H64.1M344.2,94.1H352.5M72.4,100.4H64.1M344.2,100.4H352.5M72.4,106.7H64.1M344.2,106.7H352.5M72.4,113H64.1M344.2,113H352.5M72.4,119.3H64.1M344.2,119.3H352.5M72.4,125.6H64.1M344.2,125.6H352.5M72.4,131.9H64.1M344.2,131.9H352.5M72.4,138.2H64.1M344.2,138.2H352.5M72.4,144.6H64.1M344.2,144.6H352.5M72.4,150.9H64.1M344.2,150.9H352.5M72.4,157.2H64.1M344.2,157.2H352.5M72.4,163.5H64.1M344.2,163.5H352.5M72.4,169.8H64.1M344.2,169.8H352.5M72.4,176.1H64.1M344.2,176.1H352.5M72.4,182.4H64.1M344.2,182.4H352.5" stroke="#1a1a1a" stroke-width="1.3" fill="none"/>
<text x="87.7" y="16.8" font-family="Liberation Sans" font-size="18.6" font-weight="bold" text-anchor="start" fill="#000" textLength="133.6" lengthAdjust="spacingAndGlyphs" >Buoy(BD10)</text>
<text x="55.9" y="34.8" font-family="Liberation Serif" font-size="14.5" font-weight="normal" text-anchor="end" fill="#000" textLength="16.8" lengthAdjust="spacingAndGlyphs" stroke="#000" stroke-width="0.45">10</text>
<text x="55.9" y="47.4" font-family="Liberation Serif" font-size="14.5" font-weight="normal" text-anchor="end" fill="#000" textLength="16.8" lengthAdjust="spacingAndGlyphs" stroke="#000" stroke-width="0.45">30</text>
<text x="55.9" y="59.9" font-family="Liberation Serif" font-size="14.5" font-weight="normal" text-anchor="end" fill="#000" textLength="16.8" lengthAdjust="spacingAndGlyphs" stroke="#000" stroke-width="0.45">50</text>
<text x="55.9" y="72.5" font-family="Liberation Serif" font-size="14.5" font-weight="normal" text-anchor="end" fill="#000" textLength="16.8" lengthAdjust="spacingAndGlyphs" stroke="#000" stroke-width="0.45">70</text>
<text x="55.9" y="85.1" font-family="Liberation Serif" font-size="14.5" font-weight="normal" text-anchor="end" fill="#000" textLength="16.8" lengthAdjust="spacingAndGlyphs" stroke="#000" stroke-width="0.45">90</text>
<text x="55.9" y="97.6" font-family="Liberation Serif" font-size="14.5" font-weight="normal" text-anchor="end" fill="#000" textLength="25.2" lengthAdjust="spacingAndGlyphs" stroke="#000" stroke-width="0.45">110</text>
<text x="55.9" y="110.2" font-family="Liberation Serif" font-size="14.5" font-weight="normal" text-anchor="end" fill="#000" textLength="25.2" lengthAdjust="spacingAndGlyphs" stroke="#000" stroke-width="0.45">130</text>
<text x="55.9" y="122.8" font-family="Liberation Serif" font-size="14.5" font-weight="normal" text-anchor="end" fill="#000" textLength="25.2" lengthAdjust="spacingAndGlyphs" stroke="#000" stroke-width="0.45">150</text>
<text x="55.9" y="135.3" font-family="Liberation Serif" font-size="14.5" font-weight="normal" text-anchor="end" fill="#000" textLength="25.2" lengthAdjust="spacingAndGlyphs" stroke="#000" stroke-width="0.45">170</text>
<text x="55.9" y="147.9" font-family="Liberation Serif" font-size="14.5" font-weight="normal" text-anchor="end" fill="#000" textLength="25.2" lengthAdjust="spacingAndGlyphs" stroke="#000" stroke-width="0.45">190</text>
<text x="55.9" y="160.4" font-family="Liberation Serif" font-size="14.5" font-weight="normal" text-anchor="end" fill="#000" textLength="25.2" lengthAdjust="spacingAndGlyphs" stroke="#000" stroke-width="0.45">210</text>
<text x="55.9" y="173" font-family="Liberation Serif" font-size="14.5" font-weight="normal" text-anchor="end" fill="#000" textLength="25.2" lengthAdjust="spacingAndGlyphs" stroke="#000" stroke-width="0.45">230</text>
<text x="55.9" y="185.6" font-family="Liberation Serif" font-size="14.5" font-weight="normal" text-anchor="end" fill="#000" textLength="25.2" lengthAdjust="spacingAndGlyphs" stroke="#000" stroke-width="0.45">250</text>
<text transform="translate(12,105.5) rotate(-90)" font-family="Liberation Sans" font-size="15.5" text-anchor="middle" textLength="73.7" lengthAdjust="spacingAndGlyphs">Depth (m)</text>
<clipPath id="cR1"><rect x="400.7" y="27.4" width="260.2" height="154.9"/></clipPath><g clip-path="url(#cR1)"><g filter="url(#soft)"><rect x="397.7" y="24.4" width="266.2" height="160.9" fill="#c80038"/>
<path d="M397.7,26 663.9,26 L663.9,185.3 L397.7,185.3Z" fill="#d00010"/>
<path d="M397.7,26.2 663.9,26.2 L663.9,185.3 L397.7,185.3Z" fill="#e80008"/>
<path d="M397.7,57.6 400.7,57.6 412.7,65.3 417.1,67 420.1,67 426.1,62.5 427.6,61.7 429.1,61.5 430.6,62.3 436.6,68.5 438.1,69 441.1,67.7 447.1,62.5 448.5,61.7 450,61.5 453,62.4 462,68.3 465,69 466.5,68.5 472.5,62.4 474,61.6 475.5,61.6 477,62.1 482.9,66.2 485.9,67.2 487.4,66.7 491.9,62.3 493.4,61.5 496.4,62.1 503.9,66.4 506.9,67.2 509.9,66.5 517.3,62.3 520.3,61.5 521.8,61.8 523.3,62.7 527.8,66.6 530.8,68 535.3,67.5 547.3,63.8 557.7,62.3 566.7,61.6 583.1,61.6 586.1,62.1 589.1,64.2 595.1,69.6 598.1,71.1 599.6,71.1 601.1,70.3 607.1,64.2 608.6,63.5 631,63.3 660.9,59.6 663.9,59.6 L663.9,185.3 L397.7,185.3Z" fill="#ff0000"/>
<path d="M397.7,71 400.7,71 412.7,77.2 415.6,78.2 418.6,78.7 420.1,78.4 421.6,77.3 426.1,72.3 427.6,71.3 429.1,71 430.6,71.8 436.6,78.2 438.1,78.7 439.6,78.2 441.1,77 447.1,70.3 448.5,69.3 450,69 453,69.9 462,76 465,76.8 466.5,76.3 472.5,70 474,69.1 475.5,69.1 477,69.9 482.9,75.4 484.4,76.4 485.9,76.8 487.4,76.2 491.9,70.9 493.4,70 496.4,70.7 503.9,75.9 506.9,76.8 509.9,76.1 518.8,71.2 520.3,71 521.8,71.3 523.3,72.2 527.8,76.5 529.3,77.5 530.8,78 536.8,77.1 547.3,73.6 560.7,70.2 566.7,69.4 571.2,69.4 577.2,70 584.6,71.4 587.6,73 595.1,79.4 598.1,80.7 599.6,80.7 601.1,79.7 605.6,73.8 607.1,72.1 608.6,71.3 626.5,73.1 631,72.5 641.5,69.7 646,69.3 660.9,71.2 663.9,71.2 L663.9,185.3 L397.7,185.3Z" fill="#ff2800"/>
<path d="M397.7,74.5 400.7,74.5 412.7,80.3 415.6,81.3 418.6,81.8 420.1,81.5 421.6,80.5 426.1,75.9 427.6,74.9 429.1,74.6 430.6,75.1 436.6,80.8 438.1,81.4 439.6,81.3 441.1,80.5 447.1,74.9 448.5,73.8 450,73.3 451.5,73.3 454.5,74.1 462,78.9 465,79.9 466.5,79.7 468,78.8 472.5,74.1 474,73.1 475.5,72.9 478.5,74.4 482.9,78.3 485.9,79.8 487.4,79.4 491.9,74.7 493.4,73.7 494.9,73.6 497.9,74.9 503.9,78.9 506.9,79.8 509.9,79.2 517.3,75.1 520.3,74.6 523.3,75.9 527.8,79.7 530.8,81 536.8,80.3 544.3,78.2 545.8,77.6 548.7,75.1 553.2,76.3 565.2,73.3 569.7,71.6 571.2,71.6 574.2,73.5 586.1,75.9 589.1,77.8 595.1,82.6 598.1,84 599.6,84 601.1,83 608.6,72.8 610.1,73.1 613.1,75.4 625,77.1 629.5,76.8 640,74.4 644.5,73.8 663.9,75.2 L663.9,185.3 L397.7,185.3Z" fill="#ff4000"/>
<path d="M397.7,78 400.7,78 412.7,83.5 415.6,84.4 418.6,84.8 420.1,84.6 421.6,83.7 426.1,79.5 427.6,78.5 429.1,78.1 430.6,78.4 432.1,79.4 436.6,83.3 438.1,84.1 439.6,84.3 442.6,83.2 448.5,78.4 450,77.6 453,77.2 456,78 463.5,82.5 466.5,83 468,82.5 469.5,81.4 474,77 475.5,76.6 478.5,77.8 482.9,81.3 485.9,82.7 487.4,82.6 488.9,81.7 491.9,78.5 493.4,77.3 494.9,77.1 497.9,78.2 505.4,82.6 508.4,82.7 517.3,78.4 520.3,78.2 523.3,79.5 529.3,83.6 532.3,84 536.8,83.5 544.3,81.8 545.8,81.1 548.7,77.1 550.2,77.8 551.7,79.8 553.2,80.5 557.7,79.6 565.2,77.2 569.7,73.8 571.2,73.9 574.2,77.4 575.7,78 584.6,79.4 587.6,80.5 595.1,85.9 598.1,87.3 599.6,87.3 601.1,86.4 602.6,84.7 605.6,80.3 608.6,74.3 610.1,74.9 611.6,77.6 613.1,79.2 622,80.8 629.5,80.8 644.5,78.2 663.9,79.1 L663.9,185.3 L397.7,185.3Z" fill="#ff5800"/>
<path d="M397.7,81.5 400.7,81.5 412.7,86.6 418.6,87.9 420.1,87.7 421.6,86.9 426.1,83.1 429.1,81.6 430.6,81.7 432.1,82.4 438.1,86.8 441.1,87.4 444.1,86.3 450,82 453,80.8 454.5,80.7 457.5,81.7 465,86.1 468,86.3 469.5,85.4 474,81 475.5,80.3 478.5,81.2 482.9,84.2 485.9,85.7 487.4,85.8 488.9,85.2 493.4,81 494.9,80.5 497.9,81.5 505.4,85.7 508.4,85.8 515.8,82.2 518.8,81.6 521.8,82.4 529.3,86.7 532.3,87 538.3,86.5 544.3,85.5 545.8,84.6 548.7,79.1 550.2,80.3 551.7,83.4 553.2,84.8 557.7,83.9 565.2,81 569.7,76.1 571.2,76.2 574.2,81.2 575.7,82.1 584.6,83.4 587.6,84.2 590.6,85.8 595.1,89.2 598.1,90.6 599.6,90.6 601.1,89.7 604.1,86 605.6,83.5 608.6,75.8 610.1,76.8 611.6,80.7 613.1,83.1 620.5,84.7 628,85 644.5,82.6 663.9,83 L663.9,185.3 L397.7,185.3Z" fill="#ff7800"/>
<path d="M397.7,85 400.7,85 412.7,89.8 418.6,91 421.6,90.1 427.6,85.7 429.1,85.1 430.6,85 433.6,86.3 439.6,90.4 442.6,91 445.6,89.7 451.5,85.2 454.5,84 457.5,84.6 465,89.2 468,90 469.5,89.5 474,85 475.5,84.1 478.5,84.5 484.4,87.9 487.4,89 488.9,88.8 493.4,84.7 494.9,84 497.9,84.7 503.9,88.2 506.9,89 509.9,88.3 515.8,85.4 518.8,85.1 521.8,86 529.3,89.8 535.3,89.9 544.3,89.1 545.8,88.2 548.7,81.1 550.2,82.8 551.7,87.1 553.2,89 556.2,88.6 559.2,87.8 565.2,84.9 569.7,78.4 571.2,78.5 574.2,85.1 575.7,86.2 587.6,87.9 590.6,89.2 596.6,93.4 598.1,93.9 599.6,93.9 601.1,93 602.6,91.4 605.6,86.7 608.6,77.3 610.1,78.7 611.6,83.8 613.1,87 619,88.5 626.5,89 644.5,87 663.9,87 L663.9,185.3 L397.7,185.3Z" fill="#ff9000"/>
<path d="M397.7,87.8 400.7,87.8 412.7,92.4 418.6,93.6 421.6,92.8 427.6,88.8 430.6,88.1 433.6,89.2 439.6,93 442.6,93.5 445.6,92.5 451.5,88.6 454.5,87.5 457.5,88 465,92 468,92.8 469.5,92.4 474,88.3 475.5,87.4 477,87.4 480,88.4 484.4,90.8 487.4,91.8 488.9,91.6 493.4,87.9 494.9,87.3 497.9,87.9 503.9,91 506.9,91.8 509.9,91.2 515.8,88.5 518.8,88.1 521.8,89 529.3,92.4 539.8,92.8 544.3,92.5 545.8,91.8 548.7,86.3 550.2,87.6 551.7,90.9 553.2,92.3 557.7,91.5 565.2,88.4 569.7,83.2 571.2,83.3 574.2,88.5 575.7,89.4 589.1,91.9 596.6,96.1 599.6,96.6 601.1,95.9 604.1,92.6 605.6,90.1 608.6,82.1 610.1,83.2 611.6,87.3 613.1,89.9 622,92.2 628,92.4 644.5,90.9 663.9,90.8 L663.9,185.3 L397.7,185.3Z" fill="#ffa800"/>
<path d="M397.7,90.7 400.7,90.7 412.7,95.1 418.6,96.2 421.6,95.5 427.6,91.8 430.6,91.2 433.6,92.1 438.1,94.9 441.1,96.1 444.1,95.8 451.5,91.9 454.5,91 457.5,91.4 465,94.9 468,95.6 469.5,95.3 475.5,90.7 477,90.6 480,91.6 484.4,93.7 487.4,94.6 488.9,94.4 493.4,91.2 494.9,90.6 497.9,91.1 503.9,93.9 506.9,94.6 509.9,94 515.8,91.5 518.8,91.2 521.8,91.9 529.3,95 542.8,95.9 545.8,95.4 548.7,91.5 550.2,92.4 551.7,94.8 553.2,95.7 557.7,94.8 565.2,91.9 569.7,88 571.2,88 574.2,91.9 575.7,92.6 589.1,95.4 596.6,98.8 599.6,99.3 601.1,98.8 604.1,95.7 605.6,93.4 608.6,87 610.1,87.7 611.6,90.7 613.1,92.7 619,94.7 623.5,95.7 629.5,95.8 644.5,94.8 663.9,94.6 L663.9,185.3 L397.7,185.3Z" fill="#ffc000"/>
<path d="M397.7,93.5 400.7,93.5 412.7,97.7 418.6,98.7 421.6,98.1 427.6,94.9 430.6,94.2 433.6,95.1 439.6,98.2 442.6,98.7 445.6,98 451.5,95.3 454.5,94.5 457.5,94.8 465,97.8 468,98.4 469.5,98.2 475.5,94 478.5,94.2 484.4,96.6 487.4,97.4 488.9,97.2 494.9,93.9 497.9,94.3 503.9,96.8 506.9,97.4 509.9,96.9 515.8,94.6 518.8,94.2 521.8,94.8 530.8,98 544.3,99.2 545.8,99 548.7,96.7 550.2,97.2 551.7,98.6 553.2,99 556.2,98.4 565.2,95.4 569.7,92.8 571.2,92.8 574.2,95.3 575.7,95.8 589.1,98.9 596.6,101.6 599.6,101.9 601.1,101.7 602.6,100.7 605.6,96.7 608.6,91.8 610.1,92.3 613.1,95.5 620.5,98.3 625,99.3 663.9,98.3 L663.9,185.3 L397.7,185.3Z" fill="#ffd800"/>
<path d="M397.7,96.4 400.7,96.4 412.7,100.3 418.6,101.3 421.6,100.8 427.6,97.9 430.6,97.3 433.6,98 439.6,100.8 442.6,101.3 454.5,98 457.5,98.2 465,100.6 468,101.2 469.5,101.1 475.5,97.3 477,97.2 487.4,100.2 488.9,100.1 494.9,97.2 497.9,97.5 503.9,99.6 506.9,100.2 509.9,99.7 515.8,97.6 518.8,97.3 521.8,97.8 530.8,100.6 539.8,102.1 545.8,102.6 548.7,101.9 553.2,102.4 568.2,97.9 571.2,97.6 584.6,101.5 595.1,104 599.6,104.6 601.1,104.6 602.6,103.7 607.1,98 608.6,96.6 610.1,96.8 620.5,101.6 625,102.7 663.9,102.1 L663.9,185.3 L397.7,185.3Z" fill="#fff800"/>
<path d="M397.7,98.8 400.7,98.8 412.7,102.7 418.6,103.6 421.6,103.2 427.6,100.6 430.6,100 433.6,100.7 438.1,102.7 441.1,103.6 444.1,103.5 453,101 456,100.8 468,103.7 469.5,103.7 475.5,100.2 477,100 487.4,102.5 488.9,102.4 494.9,99.9 496.4,99.9 503.9,102.1 506.9,102.6 509.9,102.2 515.8,100.3 518.8,99.9 521.8,100.3 529.3,102.6 536.8,104 542.8,105 548.7,105.4 554.7,104.6 566.7,101.3 572.7,101.1 587.6,104.9 596.6,106.6 601.1,106.9 602.6,106.2 607.1,101.1 608.6,100.2 610.1,100.2 613.1,100.9 622,104.7 625,105.3 647.4,105.4 663.9,104.9 L663.9,185.3 L397.7,185.3Z" fill="#e8ff00"/>
<path d="M397.7,100.9 400.7,100.9 412.7,104.7 418.6,105.7 421.6,105.3 427.6,102.9 430.6,102.4 433.6,103.1 438.1,105 441.1,105.9 444.1,105.6 451.5,103.4 454.5,102.9 457.5,103.1 468,106 469.5,106 471,105.4 475.5,102.5 477,102.3 480,102.6 487.4,104.4 488.9,104.3 494.9,102.1 496.4,102.1 503.9,104.3 506.9,104.7 509.9,104.3 515.8,102.4 518.8,102 521.8,102.4 529.3,104.5 536.8,105.9 542.8,106.8 548.7,107.2 554.7,106.5 566.7,103.3 572.7,103.1 587.6,106.8 596.6,108.4 601.1,108.8 602.6,108.1 607.1,103.3 608.6,102.4 610.1,102.4 613.1,103 622,106.5 625,107.1 647.4,107.1 663.9,106.6 L663.9,185.3 L397.7,185.3Z" fill="#e0f810"/>
<path d="M397.7,103 400.7,103 412.7,106.7 418.6,107.7 421.6,107.4 427.6,105.3 430.6,104.8 433.6,105.5 438.1,107.3 441.1,108.1 444.1,107.8 451.5,105.4 454.5,105 457.5,105.3 468,108.3 469.5,108.3 471,107.7 475.5,104.9 477,104.6 480,104.7 487.4,106.3 488.9,106.2 494.9,104.2 496.4,104.2 503.9,106.4 506.9,106.8 509.9,106.4 515.8,104.6 518.8,104.2 521.8,104.5 529.3,106.4 538.3,108 548.7,109.1 554.7,108.3 566.7,105.3 572.7,105 587.6,108.6 599.6,110.6 601.1,110.6 602.6,110 607.1,105.4 608.6,104.6 613.1,105.1 620.5,107.9 625,108.9 663.9,108.4 L663.9,185.3 L397.7,185.3Z" fill="#d0f018"/>
<path d="M397.7,105.1 400.7,105.1 412.7,108.7 417.1,109.6 421.6,109.5 427.6,107.6 430.6,107.2 441.1,110.3 444.1,109.9 451.5,107.5 454.5,107.1 457.5,107.4 466.5,110.4 469.5,110.6 471,110.1 475.5,107.3 477,106.9 480,106.8 485.9,108 488.9,108.1 494.9,106.3 497.9,106.7 503.9,108.5 506.9,108.9 509.9,108.5 517.3,106.5 520.3,106.4 538.3,109.9 548.7,110.9 554.7,110.2 566.7,107.2 571.2,106.9 575.7,107.5 587.6,110.5 599.6,112.5 601.1,112.5 602.6,111.9 607.1,107.6 608.6,106.8 613.1,107.3 620.5,109.8 625,110.7 663.9,110.1 L663.9,185.3 L397.7,185.3Z" fill="#b0e008"/>
<path d="M397.7,107.2 400.7,107.2 412.7,110.7 417.1,111.6 421.6,111.6 427.6,109.9 430.6,109.7 441.1,112.5 444.1,112.1 451.5,109.6 454.5,109.2 457.5,109.5 466.5,112.6 469.5,112.9 471,112.4 475.5,109.6 477,109.2 480,109 488.9,110 494.9,108.4 497.9,108.8 503.9,110.6 506.9,111 509.9,110.6 517.3,108.6 520.3,108.5 539.8,111.9 548.7,112.7 554.7,112.1 566.7,109.2 571.2,108.9 575.7,109.4 592.1,113.3 599.6,114.3 601.1,114.3 602.6,113.8 607.1,109.7 608.6,109 613.1,109.4 620.5,111.7 625,112.5 663.9,111.9 L663.9,185.3 L397.7,185.3Z" fill="#a0d810"/>
<path d="M397.7,109.3 400.7,109.3 412.7,112.7 418.6,113.8 421.6,113.7 427.6,112.3 430.6,112.1 438.1,114.3 441.1,114.8 444.1,114.2 451.5,111.6 454.5,111.3 457.5,111.7 466.5,114.9 469.5,115.3 477,111.5 481.4,111.1 488.9,111.9 494.9,110.6 506.9,113.1 509.9,112.8 517.3,110.8 520.3,110.7 539.8,113.8 548.7,114.5 554.7,113.9 566.7,111.1 571.2,110.8 575.7,111.4 592.1,115.2 599.6,116.2 601.1,116.2 602.6,115.7 607.1,111.9 608.6,111.2 613.1,111.5 620.5,113.6 625,114.3 663.9,113.6 L663.9,185.3 L397.7,185.3Z" fill="#98d818"/>
<path d="M397.7,112.3 400.7,112.3 412.7,115.7 417.1,116.6 421.6,116.7 427.6,115.7 430.6,115.6 439.6,118 442.6,117.8 451.5,114.7 454.5,114.3 457.5,114.8 466.5,118.3 469.5,118.7 471,118.2 475.5,115.4 478.5,114.5 482.9,114.1 488.9,114.7 494.9,113.7 505.4,116.1 508.4,116.1 517.3,114 520.3,113.8 541.3,116.7 548.7,117.2 554.7,116.6 566.7,114 571.2,113.7 575.7,114.2 592.1,117.9 599.6,118.9 602.6,118.5 607.1,115.1 608.6,114.4 613.1,114.7 622,116.7 625,117 663.9,116.2 L663.9,185.3 L397.7,185.3Z" fill="#78c820"/>
<path d="M397.7,115.4 400.7,115.4 417.1,119.6 421.6,119.8 430.6,119.1 439.6,121.3 442.6,121 450,118.1 454.5,117.4 457.5,118 466.5,121.6 469.5,122 471,121.7 477,118.2 480,117.3 482.9,117 488.9,117.5 494.9,116.8 505.4,119.2 508.4,119.2 517.3,117.2 520.3,116.9 542.8,119.5 548.7,119.9 554.7,119.4 566.7,116.8 571.2,116.6 577.2,117.4 592.1,120.7 599.6,121.6 602.6,121.2 607.1,118.2 608.6,117.7 610.1,117.6 625,119.6 663.9,118.7 L663.9,185.3 L397.7,185.3Z" fill="#68c028"/>
<path d="M397.7,118.4 400.7,118.4 417.1,122.5 421.6,122.9 430.6,122.7 439.6,124.7 442.6,124.2 451.5,120.7 454.5,120.5 457.5,121.1 466.5,125 469.5,125.4 471,125.1 478.5,121 482.9,119.9 488.9,120.3 494.9,119.9 503.9,122 506.9,122.3 509.9,122 517.3,120.3 521.8,120.1 548.7,122.6 554.7,122.1 566.7,119.7 571.2,119.5 577.2,120.2 593.6,123.7 601.1,124.4 602.6,124 607.1,121.4 610.1,120.8 625,122.2 663.9,121.3 L663.9,185.3 L397.7,185.3Z" fill="#58b830"/>
<path d="M397.7,121.5 400.7,121.5 418.6,125.7 430.6,126.2 439.6,128 442.6,127.4 451.5,123.8 454.5,123.6 457.5,124.3 466.5,128.3 469.5,128.8 472.5,127.8 477,125 480,123.6 484.4,122.7 488.9,123.1 494.9,123 505.4,125.3 508.4,125.3 517.3,123.5 521.8,123.2 548.7,125.3 554.7,124.8 566.7,122.6 571.2,122.3 577.2,123.1 593.6,126.5 601.1,127.1 602.6,126.8 607.1,124.6 610.1,124 625,124.9 663.9,123.8 L663.9,185.3 L397.7,185.3Z" fill="#40b438"/>
<path d="M397.7,125.6 400.7,125.6 418.6,129.8 429.1,130.8 438.1,132.5 439.6,132.5 442.6,131.8 451.5,127.9 454.5,127.7 457.5,128.5 466.5,132.9 469.5,133.5 472.5,132.5 480,127.8 484.4,126.5 494.9,127.3 502.4,129.1 506.9,129.6 518.8,127.6 523.3,127.3 532.3,127.6 545.8,128.8 551.7,128.8 565.2,126.6 571.2,126.2 577.2,126.9 593.6,130.2 599.6,130.8 602.6,130.5 607.1,128.9 610.1,128.4 623.5,128.5 663.9,127.3 L663.9,185.3 L397.7,185.3Z" fill="#28ac40"/>
<path d="M397.7,129.8 400.7,129.8 417.1,133.6 438.1,137.1 439.6,137 442.6,136.1 450,132.4 453,131.8 454.5,131.9 457.5,132.8 466.5,137.4 469.5,138.1 472.5,137.3 480,132 482.9,130.6 484.4,130.3 493.4,131.2 502.4,133.3 506.9,133.7 524.8,131.3 532.3,131.4 550.2,132.5 566.7,130.3 571.2,130.2 577.2,130.8 593.6,133.9 599.6,134.5 602.6,134.3 608.6,132.9 613.1,132.6 634,131.6 663.9,130.8 L663.9,185.3 L397.7,185.3Z" fill="#28a848"/>
<path d="M397.7,133.9 400.7,133.9 432.1,140.9 438.1,141.7 442.6,140.5 450,136.6 453,135.9 454.5,136.1 457.5,137.1 466.5,142 469.5,142.7 472.5,142 481.4,135.2 484.4,134.1 490.4,134.7 502.4,137.6 506.9,137.9 526.3,135.2 532.3,135.1 550.2,136.2 566.7,134.2 571.2,134.1 577.2,134.6 593.6,137.7 599.6,138.2 629.5,135.3 663.9,134.3 L663.9,185.3 L397.7,185.3Z" fill="#10a048"/>
<path d="M397.7,138.2 400.7,138.2 420.1,142.4 432.1,145.3 438.1,147.1 439.6,147 441.1,146.4 445.6,143.2 450,141 453,140.4 454.5,140.5 457.5,141.5 460.5,143.3 466.5,148.2 469.5,150 471,149.8 472.5,148.9 478.5,142.6 481.4,140.1 484.4,138.6 485.9,138.4 490.4,139 494.9,140.3 500.9,144.1 502.4,144.5 503.9,144.3 508.4,142.2 527.8,139.3 535.3,139.4 542.8,140.3 547.3,143.8 548.7,144.4 550.2,144 554.7,140.2 565.2,138.8 572.7,140.4 578.7,139.1 587.6,141.2 595.1,144 598.1,144.3 605.6,142.2 616,141 623.5,141.2 628,139.8 631,139.4 637,139.8 643,142.3 644.5,142.3 650.4,139.2 663.9,138.2 L663.9,185.3 L397.7,185.3Z" fill="#089858"/>
<path d="M397.7,142.6 400.7,142.6 432.1,149.2 438.1,153.4 439.6,153.4 441.1,152.4 444.1,149.1 445.6,147.7 447.1,147 451.5,145.5 456,145.5 459,146.9 462,149.1 463.5,150.9 468,158.6 469.5,159.9 471,159.7 472.5,158 477,150.3 478.5,148.6 482.9,144.5 485.9,143.3 490.4,143.7 494.9,145.1 496.4,146.4 500.9,153.6 502.4,154.2 503.9,153 508.4,146.8 509.9,146.4 520.3,144.4 527.8,143.6 533.8,143.8 541.3,144.9 542.8,145.6 547.3,155.4 548.7,157.2 550.2,155.9 553.2,147.8 554.7,145.2 559.2,144.4 565.2,143.9 566.7,144.7 571.2,149 572.7,149.1 574.2,147.9 577.2,144.5 578.7,143.6 581.6,144 589.1,147.3 593.6,151.4 596.6,153.1 598.1,152.9 599.6,152.1 604.1,148 605.6,147.2 616,146 617.5,146.3 622,148.5 623.5,148.6 628,145.1 629.5,144.3 631,144.2 637,145.9 638.5,147.2 643,153.8 644.5,154.1 646,152.5 648.9,146.9 650.4,144.9 654.9,143.5 660.9,142.6 663.9,142.6 L663.9,185.3 L397.7,185.3Z" fill="#208870"/>
<path d="M397.7,147 400.7,147 417.1,150.7 432.1,153 433.6,154.2 438.1,159.7 439.6,159.9 441.1,158.5 444.1,153.9 445.6,152.2 451.5,150.3 456,150.1 459,151.6 462,154 463.5,156.4 468,167.8 469.5,169.8 471,169.5 472.5,167.2 477,156.6 478.5,154.5 482.9,149.9 485.9,148.1 490.4,148.4 494.9,150 496.4,151.9 500.9,163.1 502.4,163.9 503.9,161.8 506.9,154.2 508.4,151.5 509.9,150.7 515.8,149.3 523.3,148.3 530.8,148 535.3,148.4 541.3,149.8 542.8,150.9 544.3,155.3 547.3,167 548.7,169.9 550.2,167.8 553.2,154.4 554.7,150.2 556.2,149.8 565.2,149 566.7,150.3 569.7,155.7 571.2,157.7 572.7,157.7 574.2,155.7 577.2,149.7 578.7,148.1 581.6,148.5 584.6,149.9 589.1,153 593.6,159.3 595.1,161.1 596.6,162 598.1,161.6 599.6,160.1 604.1,153.4 605.6,152.1 610.1,151.4 616,151 617.5,151.6 622,155.7 623.5,155.9 625,154.6 628,150.4 629.5,149.1 631,149.1 634,150.1 637,152 638.5,154.3 643,165.3 644.5,165.8 646,163.2 648.9,153.9 650.4,150.6 651.9,149.5 654.9,148.5 660.9,147 663.9,147 L663.9,185.3 L397.7,185.3Z" fill="#18808c"/>
<path d="M397.7,150 400.7,150 417.1,153.7 432.1,156 433.6,157.3 438.1,163.7 439.6,163.8 441.1,162.3 444.1,157.1 445.6,155.3 451.5,153.3 456,153.1 459,154.5 462,157 463.5,159.7 468,173.3 469.5,175.8 471,175.4 472.5,172.5 477,159.7 478.5,157.5 482.9,152.8 485.9,151.1 490.4,151.4 494.9,153 496.4,155.1 500.9,168 502.4,168.9 503.9,166.4 506.9,157.6 508.4,154.5 509.9,153.7 515.8,152.3 523.3,151.3 530.8,151 536.8,151.6 541.3,152.8 542.8,154 544.3,159 547.3,172.5 548.7,175.9 550.2,173.5 553.2,158 554.7,153.2 556.2,152.8 565.2,152 566.7,153.5 569.7,159.4 571.2,161.6 572.7,161.7 574.2,159.5 577.2,152.9 578.7,151.1 581.6,151.5 586.1,153.8 589.1,156.1 593.6,163.7 595.1,165.8 596.6,166.9 598.1,166.5 599.6,164.7 604.1,156.6 605.6,155.2 610.1,154.4 616,154 617.5,154.7 622,159.2 623.5,159.4 625,158 628,153.5 629.5,152.1 631,152.1 634,153.1 637,155 638.5,157.5 643,170.1 644.5,170.8 646,167.8 648.9,157.3 650.4,153.6 651.9,152.5 654.9,151.4 660.9,150 663.9,150 L663.9,185.3 L397.7,185.3Z" fill="#2070a0"/>
<path d="M397.7,153 400.7,153 417.1,156.7 432.1,159 433.6,160.5 438.1,167.6 439.6,167.8 441.1,166.1 444.1,160.3 445.6,158.3 448.5,157.1 453,156.1 456,156.1 457.5,156.6 462,160 463.5,163 468,178.9 469.5,181.8 471,181.3 472.5,177.9 477,162.9 478.5,160.4 481.4,157.1 484.4,154.7 485.9,154.1 490.4,154.4 494.9,156 496.4,158.3 500.9,172.9 502.4,173.9 503.9,171.1 506.9,161.1 508.4,157.6 509.9,156.7 512.9,155.9 521.8,154.4 530.8,154 536.8,154.6 541.3,155.8 542.8,157.1 544.3,162.7 547.3,178.1 548.7,181.9 550.2,179.2 553.2,161.6 554.7,156.2 556.2,155.8 565.2,155 566.7,156.6 569.7,163.2 571.2,165.6 572.7,165.7 574.2,163.3 577.2,156.1 578.7,154.1 580.2,154.1 583.1,155.1 587.6,157.7 589.1,159.2 593.6,168.1 595.1,170.6 596.6,171.9 598.1,171.4 599.6,169.3 604.1,159.9 605.6,158.2 610.1,157.4 616,157 617.5,157.7 622,162.7 623.5,162.9 625,161.4 628,156.6 629.5,155.1 631,155.1 634,156.1 637,158 638.5,160.7 643,175 644.5,175.8 646,172.4 648.9,160.7 650.4,156.6 651.9,155.5 654.9,154.4 660.9,153 663.9,153 L663.9,185.3 L397.7,185.3Z" fill="#2068b0"/>
<path d="M397.7,185.3 426.1,185.3 427.6,183.6 429.1,179 430.6,178.5 432.1,182.6 433.6,185.3 445.6,185.3 447.1,183.8 448.5,178.4 450,180 451.5,185.3 480,185.3 481.4,182 484.4,172.8 485.9,171.1 488.9,168.9 491.9,168 493.4,168.5 494.9,170 497.9,173.8 503.9,179.7 505.4,179.9 506.9,178.8 511.4,172.5 514.3,170.7 517.3,170.1 518.8,171.7 520.3,174.6 524.8,184.9 526.3,185.3 553.2,185.3 556.2,170.1 557.7,167.2 559.2,165.7 562.2,164.1 563.7,164 566.7,165.2 569.7,167.7 571.2,171.8 572.7,180.8 574.2,185.3 604.1,185.3 607.1,163.4 608.6,159.4 611.6,157.3 613.1,157.1 614.5,157.4 616,158.4 619,162.1 620.5,169.4 622,181.1 623.5,185.3 647.4,185.3 650.4,172.9 651.9,171.4 654.9,170.1 656.4,170 660.9,171 663.9,171 L663.9,185.3 L397.7,185.3Z" fill="#3c5cd0"/>
<path d="M397.7,185.3 485.9,185.3 491.9,184 496.4,185.3 517.3,185 518.8,185.3 554.7,185.3 556.2,185 557.7,183.6 559.2,182.9 562.2,182 563.7,182 568.2,183.1 569.7,183.8 571.2,185.3 605.6,185.3 607.1,181.7 608.6,179.7 611.6,178.6 613.1,178.5 616,179.2 619,181 620.5,184.7 622,185.3 653.4,185.3 656.4,185 663.9,185.3 L663.9,185.3 L397.7,185.3Z" fill="#4048d8"/>
<path d="M400.7,33 C410,32 418,35 422,40 C428,44 434,45 436,50 C436,56 428,57 422,53 C414,50 406,52 400.7,50Z" fill="#d00010"/></g></g>
<rect x="400.7" y="27.4" width="272.8" height="154.9" fill="none" stroke="#1a1a1a" stroke-width="1.3"/>
<path d="M400.7,27.4V23.4M400.7,182.3V186.8M446.2,27.4V23.4M446.2,182.3V186.8M491.6,27.4V23.4M491.6,182.3V186.8M537.1,27.4V23.4M537.1,182.3V186.8M582.6,27.4V23.4M582.6,182.3V186.8M628,27.4V23.4M628,182.3V186.8M673.5,27.4V23.4M673.5,182.3V186.8M400.7,31H392.4M673.5,31H681.8M400.7,37.3H392.4M673.5,37.3H681.8M400.7,43.6H392.4M673.5,43.6H681.8M400.7,49.9H392.4M673.5,49.9H681.8M400.7,56.2H392.4M673.5,56.2H681.8M400.7,62.5H392.4M673.5,62.5H681.8M400.7,68.8H392.4M673.5,68.8H681.8M400.7,75.1H392.4M673.5,75.1H681.8M400.7,81.4H392.4M673.5,81.4H681.8M400.7,87.7H392.4M673.5,87.7H681.8M400.7,94H392.4M673.5,94H681.8M400.7,100.3H392.4M673.5,100.3H681.8M400.7,106.7H392.4M673.5,106.7H681.8M400.7,113H392.4M673.5,113H681.8M400.7,119.3H392.4M673.5,119.3H681.8M400.7,125.6H392.4M673.5,125.6H681.8M400.7,131.9H392.4M673.5,131.9H681.8M400.7,138.2H392.4M673.5,138.2H681.8M400.7,144.5H392.4M673.5,144.5H681.8M400.7,150.8H392.4M673.5,150.8H681.8M400.7,157.1H392.4M673.5,157.1H681.8M400.7,163.4H392.4M673.5,163.4H681.8M400.7,169.7H392.4M673.5,169.7H681.8M400.7,176H392.4M673.5,176H681.8M400.7,182.3H392.4M673.5,182.3H681.8" stroke="#1a1a1a" stroke-width="1.3" fill="none"/>
<text x="410.2" y="14.9" font-family="Liberation Sans" font-size="18.6" font-weight="bold" text-anchor="start" fill="#000" textLength="132" lengthAdjust="spacingAndGlyphs" >Buoy(BD09)</text>
<clipPath id="cL2"><rect x="72.7" y="223.7" width="257.1" height="154.8"/></clipPath><g clip-path="url(#cL2)"><g filter="url(#soft)"><rect x="69.7" y="220.7" width="263.1" height="160.8" fill="#d00010"/>
<path d="M69.7,222 332.8,222 L332.8,381.5 L69.7,381.5Z" fill="#e80008"/>
<path d="M69.7,243 101.1,243 120.5,244 122,240.4 123.5,228.8 125,222 332.8,222 L332.8,381.5 L69.7,381.5Z" fill="#ff0000"/>
<path d="M69.7,250.5 96.6,251.5 111.6,252.6 117.5,254 135.5,259.7 138.5,259.9 140,257.7 144.4,246.1 147.4,236.8 150.4,225.3 151.9,222 332.8,222 L332.8,381.5 L69.7,381.5Z" fill="#ff2800"/>
<path d="M69.7,254 72.7,254 135.5,261.8 138.5,261.9 140,259.7 144.4,248.2 151.9,222 332.8,222 L332.8,381.5 L69.7,381.5Z" fill="#ff4000"/>
<path d="M69.7,257 72.7,257 114.5,260.9 129.5,262.9 135.5,264.6 138.5,264.8 140,262.3 142.9,254.4 145.9,245.2 150.4,233.6 151.9,227.9 153.4,224.4 154.9,222.5 156.4,222 162.4,222 163.9,224.8 165.4,234.2 166.9,236.4 172.8,238.4 180.3,239 190.8,238.8 199.8,238 201.2,236.2 205.7,223.6 207.2,222 332.8,222 L332.8,381.5 L69.7,381.5Z" fill="#ff5800"/>
<path d="M69.7,260 75.7,260.3 105.6,264.3 119,265.6 131,266 138.5,264.8 141.5,262.6 145.9,254.1 150.4,246.8 154.9,242.4 157.9,240.5 159.4,240 162.4,240.1 174.3,241.9 190.8,243.1 201.2,244.9 204.2,244.7 207.2,242.1 210.2,237.5 213.2,223.4 214.7,222 332.8,222 L332.8,381.5 L69.7,381.5Z" fill="#ff7800"/>
<path d="M69.7,265.6 119,269.1 131,269.4 135.5,268.6 140,267 141.5,266 153.4,250.2 162.4,240.1 174.3,241.9 189.3,242.9 190.8,243.4 196.8,247.1 199.8,248 220.7,248 234.1,246.2 241.6,246 259.6,247.2 273,249.7 277.5,249.9 279,248.5 280.5,245.9 283.5,238.4 286.5,222.7 288,222 332.8,222 L332.8,381.5 L69.7,381.5Z" fill="#ff9000"/>
<path d="M69.7,269 119,272.7 131,273 137,272 140,271 141.5,270.1 154.9,253.4 160.9,246.7 163.9,243.8 168.4,241 174.3,241.9 181.8,242.5 196.8,251.1 199.8,252 220.7,251.9 234.1,249.3 240.1,249 259.6,250.2 271.5,252.5 276,253 277.5,253 280.5,251.6 286.5,246.1 289.4,244.2 298.4,242.1 305.9,241.2 311.9,241 329.8,243 332.8,243 L332.8,381.5 L69.7,381.5Z" fill="#ffa800"/>
<path d="M69.7,272.7 120.5,276.1 131,276.3 135.5,275.7 140,272.4 141.5,270.8 147.4,262.7 156.4,252.3 163.9,244.9 168.4,241.5 175.8,242.3 181.8,243.6 198.3,254.3 201.2,255.2 208.7,256.1 216.2,255.6 229.7,252.9 235.6,252.4 261,253.4 277.5,255.6 280.5,254.8 288,250.6 290.9,249.9 310.4,248.4 332.8,248.6 L332.8,381.5 L69.7,381.5Z" fill="#ffc000"/>
<path d="M69.7,276.3 96.6,277.6 122,279.5 131,279.6 135.5,279.1 140,273.8 147.4,262.7 151.9,257.5 166.9,243.1 168.4,242.1 169.9,241.8 174.3,242.3 180.3,244 192.3,252.1 199.8,257.9 204.2,259.4 208.7,260.1 214.7,259.5 226.7,256 231.1,255.5 235.6,255.6 247.6,256.8 265.5,256.6 279,258.2 289.4,256 307.4,256 328.3,254.2 332.8,254.1 L332.8,381.5 L69.7,381.5Z" fill="#ffd800"/>
<path d="M69.7,280 101.1,281.1 122,282.9 134,282.9 135.5,282.4 138.5,277.8 144.4,266.8 148.9,260.9 153.4,256.3 160.9,250 166.9,243.8 168.4,242.6 169.9,242 172.8,242.1 178.8,243.9 181.8,246 186.3,249.9 193.8,255.1 199.8,260.9 204.2,263 208.7,264.2 213.2,263.7 225.2,259 229.7,258.3 234.1,258.6 247.6,260.6 262.5,259.4 268.5,259.3 280.5,261.3 304.4,263.6 311.9,263.1 328.3,259.9 332.8,259.7 L332.8,381.5 L69.7,381.5Z" fill="#fff800"/>
<path d="M69.7,283.2 101.1,284.1 122,285.9 134,285.9 135.5,285.4 138.5,280.2 142.9,270.6 147.4,263.9 153.4,257.7 160.9,251.8 166.9,245.5 169.9,243.6 172.8,243.7 178.8,245.7 186.3,252.2 195.3,258.7 199.8,263.5 204.2,266.1 208.7,267.5 213.2,267 223.7,262.2 228.2,261 232.6,261.2 243.1,263.3 247.6,263.8 253.6,263.4 264,261.9 270,261.8 293.9,267.1 304.4,268.5 311.9,268.1 328.3,264 332.8,263.7 L332.8,381.5 L69.7,381.5Z" fill="#e8ff00"/>
<path d="M69.7,285.9 101.1,286.9 123.5,288.8 134,288.6 135.5,288.1 138.5,282.9 142.9,273.1 147.4,266.4 153.4,260.2 160.9,254.3 166.9,248.2 169.9,246.4 172.8,246.7 178.8,248.8 186.3,255.1 195.3,261.3 199.8,266 204.2,268.5 208.7,270 213.2,269.7 225.2,264.3 229.7,263.5 234.1,263.9 243.1,265.9 247.6,266.4 253.6,266.1 265.5,264.2 270,264.3 295.4,269.9 305.9,271.2 311.9,270.6 328.3,266.4 332.8,266.1 L332.8,381.5 L69.7,381.5Z" fill="#e0f810"/>
<path d="M69.7,288.6 101.1,289.6 123.5,291.5 132.5,291.5 135.5,290.8 138.5,285.6 142.9,275.6 147.4,268.9 153.4,262.7 160.9,256.8 166.9,251 169.9,249.3 172.8,249.7 178.8,251.8 186.3,258 195.3,263.9 199.8,268.4 205.7,271.6 208.7,272.5 211.7,272.6 214.7,271.9 225.2,267.1 229.7,266.1 234.1,266.5 244.6,268.7 249.1,269 253.6,268.7 265.5,266.7 270,266.7 274.5,267.5 285,270.3 293.9,272.2 299.9,273.3 305.9,273.7 313.4,272.9 328.3,268.8 332.8,268.5 L332.8,381.5 L69.7,381.5Z" fill="#d0f018"/>
<path d="M69.7,291.4 101.1,292.4 123.5,294.3 134,294 135.5,293.4 137,291.2 142.9,278.1 145.9,273.4 148.9,269.6 153.4,265.1 160.9,259.3 166.9,253.7 169.9,252.2 172.8,252.7 178.8,254.9 186.3,260.8 195.3,266.6 199.8,270.8 205.7,274 210.2,275.2 214.7,274.6 225.2,269.8 229.7,268.7 234.1,269 244.6,271.2 249.1,271.6 253.6,271.3 265.5,269.2 270,269.1 274.5,269.9 285,272.8 292.4,274.5 299.9,275.8 305.9,276.3 313.4,275.5 328.3,271.2 332.8,271 L332.8,381.5 L69.7,381.5Z" fill="#b0e008"/>
<path d="M69.7,294.1 101.1,295.2 123.5,297.1 129.5,297.2 134,296.7 135.5,296.1 137,293.9 142.9,280.6 145.9,275.9 148.9,272.1 153.4,267.6 160.9,261.8 166.9,256.4 169.9,255.1 172.8,255.7 178.8,258 186.3,263.7 195.3,269.2 199.8,273.2 205.7,276.4 210.2,277.7 214.7,277.3 225.2,272.5 229.7,271.4 234.1,271.6 244.6,273.8 249.1,274.2 255.1,273.7 265.5,271.6 270,271.5 274.5,272.3 285,275.4 292.4,277.1 299.9,278.4 305.9,278.9 313.4,278.1 328.3,273.7 332.8,273.4 L332.8,381.5 L69.7,381.5Z" fill="#a0d810"/>
<path d="M69.7,296.9 101.1,297.9 123.5,299.9 129.5,300 134,299.4 135.5,298.7 137,296.6 142.9,283.1 145.9,278.4 148.9,274.6 153.4,270.1 165.4,260.3 168.4,258.3 169.9,258 172.8,258.6 178.8,261 186.3,266.6 195.3,271.8 199.8,275.7 205.7,278.8 210.2,280.2 214.7,279.9 226.7,274.6 231.1,273.9 235.6,274.4 244.6,276.4 249.1,276.8 255.1,276.4 265.5,274.1 270,273.9 274.5,274.7 290.9,279.3 299.9,280.9 305.9,281.4 313.4,280.7 328.3,276.1 332.8,275.8 L332.8,381.5 L69.7,381.5Z" fill="#98d818"/>
<path d="M69.7,300.9 101.1,302 125,304 129.5,304.1 134,303.4 135.5,302.6 137,300.6 142.9,286.8 145.9,282 148.9,278.2 153.4,273.8 165.4,264.2 168.4,262.4 169.9,262.2 172.8,263 178.8,265.5 186.3,270.9 193.8,274.8 199.8,279.2 204.2,281.6 208.7,283.6 211.7,284.1 216.2,283.5 226.7,278.5 231.1,277.7 235.6,278.1 246.1,280.4 250.6,280.7 255.1,280.2 265.5,277.7 270,277.5 274.5,278.2 290.9,283.1 299.9,284.7 305.9,285.2 313.4,284.4 328.3,279.7 332.8,279.3 L332.8,381.5 L69.7,381.5Z" fill="#78c820"/>
<path d="M69.7,304.9 101.1,306.1 125,308.1 129.5,308.2 134,307.3 135.5,306.5 137,304.6 142.9,290.5 145.9,285.7 148.9,281.9 156.4,274.9 165.4,268 168.4,266.5 171.4,266.8 178.8,270 186.3,275.1 195.3,279.6 199.8,282.8 207.2,286.7 211.7,287.9 216.2,287.5 226.7,282.5 231.1,281.5 235.6,281.9 246.1,284.2 250.6,284.5 255.1,284.1 265.5,281.3 270,281 276,282.2 290.9,286.9 299.9,288.5 305.9,289 308.9,288.9 313.4,288.2 328.3,283.2 332.8,282.9 L332.8,381.5 L69.7,381.5Z" fill="#68c028"/>
<path d="M69.7,308.9 102.6,310.2 125,312.2 129.5,312.3 134,311.3 135.5,310.5 137,308.6 142.9,294.1 145.9,289.3 148.9,285.5 151.9,282.4 157.9,277.4 165.4,271.9 168.4,270.6 171.4,271.1 177.3,273.8 186.3,279.3 195.3,283.4 199.8,286.3 207.2,290.3 211.7,291.7 216.2,291.5 219.2,290.3 226.7,286.4 231.1,285.2 235.6,285.6 246.1,288 250.6,288.4 255.1,287.9 265.5,284.9 270,284.5 276,285.8 290.9,290.6 299.9,292.2 305.9,292.8 308.9,292.7 313.4,292 328.3,286.8 332.8,286.4 L332.8,381.5 L69.7,381.5Z" fill="#58b830"/>
<path d="M69.7,312.9 102.6,314.3 126.5,316.4 131,316.2 134,315.2 135.5,314.4 137,312.5 142.9,297.8 145.9,293 148.9,289.1 153.4,284.7 159.4,279.9 165.4,275.8 168.4,274.7 171.4,275.4 177.3,278.2 186.3,283.6 195.3,287.3 208.7,294.6 213.2,295.7 217.7,295 226.7,290.3 231.1,289 235.6,289.3 247.6,292 252.1,292.2 256.6,291.4 265.5,288.5 270,288.1 276,289.3 290.9,294.4 299.9,296 307.4,296.5 310.4,296.3 314.9,295.3 328.3,290.3 332.8,290 L332.8,381.5 L69.7,381.5Z" fill="#40b438"/>
<path d="M69.7,318.4 102.6,319.8 126.5,321.9 129.5,322 132.5,321.3 135.5,319.6 137,317.9 141.5,305.8 142.9,302.8 145.9,298 148.9,294.1 153.4,289.7 159.4,284.8 165.4,281 168.4,280.3 171.4,281.3 186.3,289.3 195.3,292.5 201.2,295.3 208.7,299.5 213.2,301 214.7,301.1 217.7,300.5 228.2,295 232.6,294.1 237.1,294.7 247.6,297.2 252.1,297.5 256.6,296.6 265.5,293.4 270,292.9 276,294.1 290.9,299.5 299.9,301.1 307.4,301.7 310.4,301.5 314.9,300.4 328.3,295.2 329.8,294.8 332.8,294.8 L332.8,381.5 L69.7,381.5Z" fill="#28ac40"/>
<path d="M69.7,323.8 104.1,325.4 126.5,327.5 129.5,327.5 132.5,326.7 135.5,324.9 137,323.3 141.5,310.8 144.4,305.2 148.9,299 153.4,294.6 159.4,289.7 163.9,286.9 166.9,285.9 169.9,286.4 184.8,294.4 199.8,299.5 210.2,305.3 214.7,306.4 219.2,305.3 228.2,300.3 232.6,299.2 237.1,299.7 247.6,302.3 252.1,302.7 256.6,301.8 265.5,298.3 268.5,297.7 271.5,297.8 276,299 290.9,304.6 299.9,306.2 307.4,306.8 313.4,306 328.3,300 329.8,299.6 332.8,299.6 L332.8,381.5 L69.7,381.5Z" fill="#28a848"/>
<path d="M69.7,329.3 105.6,331 126.5,333 131,332.8 134,331.3 137,328.7 141.5,315.7 144.4,310.2 148.9,304 153.4,299.6 159.4,294.6 163.9,292 166.9,291.3 169.9,292.1 174.3,294.9 184.8,300.3 201.2,304.9 210.2,310.3 214.7,311.8 216.2,311.7 219.2,310.8 228.2,305.5 232.6,304.3 237.1,304.8 247.6,307.5 252.1,308 256.6,307 267,302.8 271.5,302.7 276,303.8 286.5,308.2 290.9,309.7 299.9,311.3 307.4,311.9 313.4,311.1 328.3,304.8 329.8,304.4 332.8,304.4 L332.8,381.5 L69.7,381.5Z" fill="#10a048"/>
<path d="M69.7,334.1 107.1,336.1 126.5,338 131,337.7 134,335.9 137,333.1 141.5,320.7 145.9,312.8 148.9,309.1 153.4,305 159.4,300.4 163.9,298.1 166.9,297.6 169.9,298.4 174.3,301.2 184.8,306.2 201.2,310.4 210.2,315.8 214.7,317.4 216.2,317.3 219.2,316.5 228.2,311.2 232.6,309.9 237.1,310.4 247.6,313.4 252.1,314 256.6,313 267,308.6 271.5,308.4 276,309.5 290.9,315.4 299.9,316.8 307.4,317.3 310.4,317.1 314.9,316 328.3,310.6 329.8,310.2 332.8,310.2 L332.8,381.5 L69.7,381.5Z" fill="#089858"/>
<path d="M69.7,338.4 101.1,340.2 125,342.2 129.5,342.3 131,341.8 134,339.8 137,336.6 141.5,325.7 144.4,320.1 147.4,315.8 150.4,313.1 157.9,307.9 162.4,305.6 165.4,304.8 168.4,304.9 169.9,305.4 184.8,312.4 201.2,316.6 210.2,321.7 214.7,323.1 216.2,323.1 219.2,322.3 228.2,317.4 232.6,316.2 237.1,316.8 247.6,320.1 252.1,320.7 256.6,319.7 267,315.3 271.5,315.1 276,316.1 290.9,321.6 296.9,322.5 304.4,322.9 311.9,322.4 316.4,321.3 328.3,317.3 332.8,316.9 L332.8,381.5 L69.7,381.5Z" fill="#208870"/>
<path d="M69.7,342.6 122,346.3 129.5,346.6 132.5,345 137,340.1 142.9,327.8 145.9,322.7 147.4,320.8 151.9,317.6 157.9,314.3 162.4,312.6 165.4,312 169.9,312.4 184.8,318.5 199.8,322.3 202.7,323.6 210.2,327.6 214.7,328.9 219.2,328.1 228.2,323.6 232.6,322.4 237.1,323.1 247.6,326.8 252.1,327.5 256.6,326.5 267,322 271.5,321.8 277.5,323.2 290.9,327.8 295.4,328.4 301.4,328.7 311.9,328 328.3,323.9 332.8,323.7 L332.8,381.5 L69.7,381.5Z" fill="#18808c"/>
<path d="M69.7,346.9 114.5,350.3 129.5,350.8 131,350.2 132.5,349 137,343.5 140,338.8 144.4,330 147.4,325.9 151.9,323.3 156.4,321.3 160.9,319.8 165.4,319.1 168.4,319.1 171.4,319.7 184.8,324.6 199.8,328.6 210.2,333.5 214.7,334.7 219.2,334 228.2,329.7 232.6,328.7 237.1,329.4 247.6,333.5 252.1,334.2 256.6,333.2 264,329.7 268.5,328.5 274.5,329 289.4,333.6 295.4,334.5 308.9,333.9 328.3,330.6 332.8,330.4 L332.8,381.5 L69.7,381.5Z" fill="#2070a0"/>
<path d="M69.7,357.3 116,360 128,360.3 131,359.8 134,357.4 135.5,355.7 137,353.1 140,344.1 142.9,338.1 145.9,333.2 147.4,331.7 153.4,329 159.4,327.3 163.9,326.5 168.4,326.5 171.4,326.9 184.8,331 199.8,334.5 210.2,339.2 214.7,340.4 219.2,339.7 228.2,335.6 232.6,334.5 237.1,335.3 247.6,339.6 252.1,340.4 256.6,339.4 264,335.9 268.5,334.6 274.5,335.1 289.4,339.5 295.4,340.4 305.9,339.8 328.3,336.7 332.8,336.5 L332.8,381.5 L69.7,381.5Z" fill="#2068b0"/>
<path d="M69.7,374 123.5,375 129.5,375 132.5,374.5 135.5,372.5 137,368.7 140,350.1 142.9,343.6 144.4,341.2 145.9,339.5 148.9,337.6 156.4,335.3 162.4,334.2 166.9,334 171.4,334.4 184.8,337.8 199.8,339.9 202.7,340.9 210.2,344.8 214.7,346 219.2,345.2 228.2,341.1 232.6,340 237.1,340.7 247.6,345.2 252.1,346 256.6,345 265.5,340.9 270,340 276,340.8 289.4,345 295.4,346 305.9,345.4 328.3,342.1 332.8,342 L332.8,381.5 L69.7,381.5Z" fill="#3c5cd0"/>
<path d="M69.7,381.5 135.5,381.5 137,379.5 140,367.6 142.9,361.9 145.9,357.2 148.9,354.2 154.9,349.9 159.4,347.5 165.4,345.6 168.4,345.6 172.8,346.6 181.8,350 190.8,354.1 196.8,355.7 199.8,355.6 214.7,353.4 226.7,349.4 231.1,349 235.6,350.5 240.1,353 247.6,358.2 250.6,358.9 253.6,358.1 261,352.8 265.5,350.4 268.5,349.1 271.5,348.6 276,349.2 293.9,357.8 296.9,358.6 299.9,358.9 302.9,358.3 310.4,354 319.3,350.5 323.8,350 329.8,351 332.8,351 L332.8,381.5 L69.7,381.5Z" fill="#4048d8"/>
<path d="M69.7,381.5 141.5,381.5 142.9,380.1 147.4,372.7 154.9,364.1 157.9,361.4 160.9,359.5 163.9,357.8 166.9,357 169.9,357.4 174.3,359.2 181.8,363 192.3,370.6 195.3,371.8 196.8,372 198.3,371.8 201.2,370.4 208.7,364.1 211.7,362.1 220.7,358.3 226.7,357 229.7,357.3 232.6,358.7 241.6,365.3 247.6,371.1 249.1,371.9 250.6,371.9 253.6,370.3 261,362.7 267,359 271.5,357.1 274.5,357.2 277.5,358.4 295.4,370.6 298.4,371.8 299.9,372 301.4,371.7 302.9,370.9 310.4,363.3 316.4,359.1 319.3,357.5 322.3,357 323.8,357.3 329.8,360 332.8,360 L332.8,381.5 L69.7,381.5Z" fill="#4438f0"/>
<path d="M69.7,381.5 154.9,381.5 156.4,381.3 163.9,378.9 166.9,378.5 171.4,378.9 181.8,381.5 210.2,381.5 220.7,379.2 226.7,378.5 231.1,379 238.6,381.5 259.6,381.5 268.5,379.1 273,378.5 277.5,379.2 285,381.5 310.4,381.5 317.9,379.1 322.3,378.5 329.8,380 332.8,380 L332.8,381.5 L69.7,381.5Z" fill="#412dfa"/></g></g>
<rect x="72.7" y="223.7" width="271.7" height="154.8" fill="none" stroke="#1a1a1a" stroke-width="1.3"/>
<path d="M72.7,223.7V219.7M72.7,378.5V383M118,223.7V219.7M118,378.5V383M163.3,223.7V219.7M163.3,378.5V383M208.6,223.7V219.7M208.6,378.5V383M253.8,223.7V219.7M253.8,378.5V383M299.1,223.7V219.7M299.1,378.5V383M344.4,223.7V219.7M344.4,378.5V383M72.7,227.1H64.4M344.4,227.1H352.7M72.7,233.4H64.4M344.4,233.4H352.7M72.7,239.7H64.4M344.4,239.7H352.7M72.7,246H64.4M344.4,246H352.7M72.7,252.3H64.4M344.4,252.3H352.7M72.7,258.6H64.4M344.4,258.6H352.7M72.7,264.9H64.4M344.4,264.9H352.7M72.7,271.3H64.4M344.4,271.3H352.7M72.7,277.6H64.4M344.4,277.6H352.7M72.7,283.9H64.4M344.4,283.9H352.7M72.7,290.2H64.4M344.4,290.2H352.7M72.7,296.5H64.4M344.4,296.5H352.7M72.7,302.8H64.4M344.4,302.8H352.7M72.7,309.1H64.4M344.4,309.1H352.7M72.7,315.4H64.4M344.4,315.4H352.7M72.7,321.7H64.4M344.4,321.7H352.7M72.7,328H64.4M344.4,328H352.7M72.7,334.3H64.4M344.4,334.3H352.7M72.7,340.6H64.4M344.4,340.6H352.7M72.7,347H64.4M344.4,347H352.7M72.7,353.3H64.4M344.4,353.3H352.7M72.7,359.6H64.4M344.4,359.6H352.7M72.7,365.9H64.4M344.4,365.9H352.7M72.7,372.2H64.4M344.4,372.2H352.7M72.7,378.5H64.4M344.4,378.5H352.7" stroke="#1a1a1a" stroke-width="1.3" fill="none"/>
<text x="98.4" y="210.7" font-family="Liberation Sans" font-size="21" font-weight="bold" text-anchor="start" fill="#000" textLength="59" lengthAdjust="spacingAndGlyphs" >Exp1</text>
<text x="54.2" y="234.2" font-family="Liberation Serif" font-size="14.5" font-weight="normal" text-anchor="end" fill="#000" textLength="16.4" lengthAdjust="spacingAndGlyphs" stroke="#000" stroke-width="0.45">10</text>
<text x="54.2" y="246.9" font-family="Liberation Serif" font-size="14.5" font-weight="normal" text-anchor="end" fill="#000" textLength="16.4" lengthAdjust="spacingAndGlyphs" stroke="#000" stroke-width="0.45">30</text>
<text x="54.2" y="259.6" font-family="Liberation Serif" font-size="14.5" font-weight="normal" text-anchor="end" fill="#000" textLength="16.4" lengthAdjust="spacingAndGlyphs" stroke="#000" stroke-width="0.45">50</text>
<text x="54.2" y="272.3" font-family="Liberation Serif" font-size="14.5" font-weight="normal" text-anchor="end" fill="#000" textLength="16.4" lengthAdjust="spacingAndGlyphs" stroke="#000" stroke-width="0.45">70</text>
<text x="54.2" y="285" font-family="Liberation Serif" font-size="14.5" font-weight="normal" text-anchor="end" fill="#000" textLength="16.4" lengthAdjust="spacingAndGlyphs" stroke="#000" stroke-width="0.45">90</text>
<text x="54.2" y="297.7" font-family="Liberation Serif" font-size="14.5" font-weight="normal" text-anchor="end" fill="#000" textLength="24.6" lengthAdjust="spacingAndGlyphs" stroke="#000" stroke-width="0.45">110</text>
<text x="54.2" y="310.4" font-family="Liberation Serif" font-size="14.5" font-weight="normal" text-anchor="end" fill="#000" textLength="24.6" lengthAdjust="spacingAndGlyphs" stroke="#000" stroke-width="0.45">130</text>
<text x="54.2" y="323.1" font-family="Liberation Serif" font-size="14.5" font-weight="normal" text-anchor="end" fill="#000" textLength="24.6" lengthAdjust="spacingAndGlyphs" stroke="#000" stroke-width="0.45">150</text>
<text x="54.2" y="335.8" font-family="Liberation Serif" font-size="14.5" font-weight="normal" text-anchor="end" fill="#000" textLength="24.6" lengthAdjust="spacingAndGlyphs" stroke="#000" stroke-width="0.45">170</text>
<text x="54.2" y="348.5" font-family="Liberation Serif" font-size="14.5" font-weight="normal" text-anchor="end" fill="#000" textLength="24.6" lengthAdjust="spacingAndGlyphs" stroke="#000" stroke-width="0.45">190</text>
<text x="54.2" y="361.2" font-family="Liberation Serif" font-size="14.5" font-weight="normal" text-anchor="end" fill="#000" textLength="24.6" lengthAdjust="spacingAndGlyphs" stroke="#000" stroke-width="0.45">210</text>
<text x="54.2" y="373.9" font-family="Liberation Serif" font-size="14.5" font-weight="normal" text-anchor="end" fill="#000" textLength="24.6" lengthAdjust="spacingAndGlyphs" stroke="#000" stroke-width="0.45">230</text>
<text x="54.2" y="386.6" font-family="Liberation Serif" font-size="14.5" font-weight="normal" text-anchor="end" fill="#000" textLength="24.6" lengthAdjust="spacingAndGlyphs" stroke="#000" stroke-width="0.45">250</text>
<text transform="translate(13,313.8) rotate(-90)" font-family="Liberation Sans" font-size="15.5" text-anchor="middle" textLength="74.4" lengthAdjust="spacingAndGlyphs">Depth (m)</text>
<clipPath id="cR2"><rect x="403.3" y="223.5" width="255.6" height="155"/></clipPath><g clip-path="url(#cR2)"><g filter="url(#soft)"><rect x="400.3" y="220.5" width="261.6" height="161" fill="#d00010"/>
<path d="M400.3,222 661.9,222 L661.9,381.5 L400.3,381.5Z" fill="#e80008"/>
<path d="M400.3,239 433.2,239 434.7,236.8 436.2,225.1 437.7,222 661.9,222 L661.9,381.5 L400.3,381.5Z" fill="#ff0000"/>
<path d="M400.3,247 436.2,247 437.7,246.6 443.7,242.4 445.1,242 470.6,241 472.1,235.6 473.5,223.2 475,222 661.9,222 L661.9,381.5 L400.3,381.5Z" fill="#ff2800"/>
<path d="M400.3,251 491.5,251 493,243.7 494.5,224.3 496,222 661.9,222 L661.9,381.5 L400.3,381.5Z" fill="#ff4000"/>
<path d="M400.3,255.7 460.1,256.6 469.1,255.5 487,251.8 496,251 502,252 513.9,256.2 524.4,258 533.3,258.1 569.2,257.3 575.2,258.1 585.7,260.1 597.6,263.1 602.1,263.5 608.1,263 626,259.5 661.9,257.2 L661.9,381.5 L400.3,381.5Z" fill="#ff5800"/>
<path d="M400.3,259.1 440.7,260 460.1,259.9 467.6,259.1 485.5,255.8 496,255.1 502,256.1 513.9,259.9 521.4,261 528.9,261.4 569.2,260.4 578.2,261.8 596.1,265.8 602.1,266.4 608.1,265.9 626,262.5 661.9,260.5 L661.9,381.5 L400.3,381.5Z" fill="#ff7800"/>
<path d="M400.3,262.5 439.2,263.4 458.6,263.2 466.1,262.6 485.5,259.5 496,259.3 502,260.2 513.9,263.5 522.9,264.4 561.7,263.6 570.7,263.7 578.2,264.9 596.1,268.8 602.1,269.4 608.1,268.8 624.5,265.6 661.9,263.8 L661.9,381.5 L400.3,381.5Z" fill="#ff9000"/>
<path d="M400.3,265.9 439.2,266.8 458.6,266.5 466.1,265.8 482.5,263.4 490,263.1 499,263.7 512.4,266.8 519.9,267.6 528.9,267.7 561.7,266.7 570.7,266.9 578.2,268.1 594.6,271.6 600.6,272.3 606.6,271.9 624.5,268.5 661.9,267.2 L661.9,381.5 L400.3,381.5Z" fill="#ffa800"/>
<path d="M400.3,269.4 434.7,270.2 448.1,270.1 461.6,269.5 481,267.2 487,266.9 499,267.9 510.9,270.3 516.9,271 569.2,269.9 576.7,270.9 594.6,274.7 600.6,275.3 606.6,274.8 624.5,271.5 661.9,270.5 L661.9,381.5 L400.3,381.5Z" fill="#ffc000"/>
<path d="M400.3,272.8 443.7,273.6 460.1,272.9 478,270.9 485.5,270.6 516.9,274.5 551.3,273.3 569.2,273.1 576.7,274.1 593.1,277.5 600.6,278.3 606.6,277.7 618.5,275.2 624.5,274.4 661.9,273.8 L661.9,381.5 L400.3,381.5Z" fill="#ffd800"/>
<path d="M400.3,276.2 442.2,277.1 460.1,276.1 476.5,274.5 484,274.2 507.9,277.4 515.4,278 540.8,276.7 567.7,276.2 575.2,277 593.1,280.6 600.6,281.2 606.6,280.6 618.5,278.1 624.5,277.4 661.9,277.1 L661.9,381.5 L400.3,381.5Z" fill="#fff800"/>
<path d="M400.3,279.3 442.2,280.1 460.1,279.1 476.5,277.7 484,277.4 504.9,280.4 515.4,281.1 536.3,279.8 567.7,279.2 573.7,279.7 591.6,283.2 599.1,284 605.1,283.6 618.5,281 624.5,280.2 661.9,280.2 L661.9,381.5 L400.3,381.5Z" fill="#e8ff00"/>
<path d="M400.3,282 442.2,282.8 482.5,280.3 487,280.6 504.9,283 515.4,283.8 536.3,282.6 567.7,282.1 573.7,282.6 591.6,285.9 599.1,286.6 605.1,286.2 618.5,283.7 624.5,283 661.9,282.9 L661.9,381.5 L400.3,381.5Z" fill="#e0f810"/>
<path d="M400.3,284.7 442.2,285.5 482.5,283.1 504.9,285.7 513.9,286.4 537.8,285.3 567.7,284.9 575.2,285.6 593.1,288.7 599.1,289.2 605.1,288.9 618.5,286.5 624.5,285.8 661.9,285.6 L661.9,381.5 L400.3,381.5Z" fill="#d0f018"/>
<path d="M400.3,287.5 442.2,288.2 482.5,285.9 504.9,288.4 513.9,289 537.8,288 567.7,287.7 575.2,288.4 593.1,291.4 599.1,291.8 605.1,291.5 618.5,289.2 624.5,288.6 661.9,288.3 L661.9,381.5 L400.3,381.5Z" fill="#b0e008"/>
<path d="M400.3,290.2 442.2,290.8 484,288.8 496,290.2 513.9,291.6 539.3,290.7 569.2,290.6 576.7,291.4 591.6,293.8 599.1,294.4 605.1,294.1 624.5,291.4 661.9,291 L661.9,381.5 L400.3,381.5Z" fill="#a0d810"/>
<path d="M400.3,292.9 442.2,293.5 484,291.6 513.9,294.3 539.3,293.5 569.2,293.5 576.7,294.2 591.6,296.5 599.1,297 605.1,296.8 624.5,294.2 661.9,293.7 L661.9,381.5 L400.3,381.5Z" fill="#98d818"/>
<path d="M400.3,296.9 442.2,297.5 484,295.8 513.9,298.1 539.3,297.5 569.2,297.7 591.6,300.4 599.1,300.9 606.6,300.5 624.5,298.3 661.9,297.7 L661.9,381.5 L400.3,381.5Z" fill="#78c820"/>
<path d="M400.3,300.9 442.2,301.4 484,299.9 513.9,302 537.8,301.6 569.2,301.8 591.6,304.2 599.1,304.7 606.6,304.3 624.5,302.4 661.9,301.7 L661.9,381.5 L400.3,381.5Z" fill="#68c028"/>
<path d="M400.3,305 442.2,305.3 484,304.1 513.9,305.9 537.8,305.6 569.2,306 599.1,308.5 606.6,308.2 624.5,306.5 661.9,305.7 L661.9,381.5 L400.3,381.5Z" fill="#58b830"/>
<path d="M400.3,309 442.2,309.3 484,308.2 513.9,309.8 536.3,309.6 569.2,310.1 599.1,312.3 606.6,312.1 624.5,310.5 661.9,309.7 L661.9,381.5 L400.3,381.5Z" fill="#40b438"/>
<path d="M400.3,314.4 442.2,314.6 484,313.9 513.9,315 567.7,315.8 599.1,317.5 624.5,316.1 661.9,315.1 L661.9,381.5 L400.3,381.5Z" fill="#28ac40"/>
<path d="M400.3,319.8 442.2,320 485.5,319.6 552.8,321 599.1,322.7 661.9,320.5 L661.9,381.5 L400.3,381.5Z" fill="#28a848"/>
<path d="M400.3,325.3 504.9,325.4 599.1,327.9 661.9,325.9 L661.9,381.5 L400.3,381.5Z" fill="#10a048"/>
<path d="M400.3,330 509.4,330.1 599.1,332.3 618.5,332 661.9,330.5 L661.9,381.5 L400.3,381.5Z" fill="#089858"/>
<path d="M400.3,334 509.4,334.2 599.1,335.9 618.5,335.6 661.9,334.2 L661.9,381.5 L400.3,381.5Z" fill="#208870"/>
<path d="M400.3,338 507.9,338.4 600.6,339.6 661.9,337.9 L661.9,381.5 L400.3,381.5Z" fill="#18808c"/>
<path d="M400.3,342 600.6,343.2 661.9,341.6 L661.9,381.5 L400.3,381.5Z" fill="#2070a0"/>
<path d="M400.3,351.7 443.7,351.7 452.6,351.1 457.1,349.9 458.6,349.9 464.6,351.1 470.6,351.2 476.5,350.9 482.5,349.6 485.5,350 491.5,351.6 561.7,351.6 597.6,352.7 630.5,351.6 661.9,351.3 L661.9,381.5 L400.3,381.5Z" fill="#2068b0"/>
<path d="M400.3,367 443.7,366.8 452.6,364.7 457.1,361.2 458.6,361.1 464.6,364.7 466.1,365 470.6,364.8 476.5,363.9 482.5,360 484,360.2 485.5,361.1 490,365.2 491.5,365.9 524.4,366 561.7,365 570.7,365.5 590.1,367.5 599.1,368 606.6,367.8 629,366 661.9,367 L661.9,381.5 L400.3,381.5Z" fill="#3c5cd0"/>
<path d="M400.3,378.5 443.7,378.4 452.6,377.4 457.1,375.6 458.6,375.5 464.6,377.3 470.6,377.4 476.5,376.9 482.5,375 485.5,375.6 491.5,378 561.7,377.5 599.1,379 629,378 661.9,378.5 L661.9,381.5 L400.3,381.5Z" fill="#4048d8"/>
<rect x="578" y="224" width="29" height="14.6" fill="#ff5800"/></g></g>
<rect x="400.7" y="223.5" width="272.7" height="155" fill="none" stroke="#1a1a1a" stroke-width="1.3"/>
<path d="M400.7,223.5V219.5M400.7,378.5V383M446.1,223.5V219.5M446.1,378.5V383M491.6,223.5V219.5M491.6,378.5V383M537,223.5V219.5M537,378.5V383M582.5,223.5V219.5M582.5,378.5V383M628,223.5V219.5M628,378.5V383M673.4,223.5V219.5M673.4,378.5V383M400.7,227H392.4M673.4,227H681.7M400.7,233.3H392.4M673.4,233.3H681.7M400.7,239.6H392.4M673.4,239.6H681.7M400.7,245.9H392.4M673.4,245.9H681.7M400.7,252.2H392.4M673.4,252.2H681.7M400.7,258.6H392.4M673.4,258.6H681.7M400.7,264.9H392.4M673.4,264.9H681.7M400.7,271.2H392.4M673.4,271.2H681.7M400.7,277.5H392.4M673.4,277.5H681.7M400.7,283.8H392.4M673.4,283.8H681.7M400.7,290.1H392.4M673.4,290.1H681.7M400.7,296.4H392.4M673.4,296.4H681.7M400.7,302.8H392.4M673.4,302.8H681.7M400.7,309.1H392.4M673.4,309.1H681.7M400.7,315.4H392.4M673.4,315.4H681.7M400.7,321.7H392.4M673.4,321.7H681.7M400.7,328H392.4M673.4,328H681.7M400.7,334.3H392.4M673.4,334.3H681.7M400.7,340.6H392.4M673.4,340.6H681.7M400.7,346.9H392.4M673.4,346.9H681.7M400.7,353.2H392.4M673.4,353.2H681.7M400.7,359.6H392.4M673.4,359.6H681.7M400.7,365.9H392.4M673.4,365.9H681.7M400.7,372.2H392.4M673.4,372.2H681.7M400.7,378.5H392.4M673.4,378.5H681.7" stroke="#1a1a1a" stroke-width="1.3" fill="none"/>
<text x="529.2" y="210.7" font-family="Liberation Sans" font-size="21" font-weight="bold" text-anchor="start" fill="#000" textLength="59.9" lengthAdjust="spacingAndGlyphs" >Exp1</text>
<clipPath id="cL3"><rect x="71.3" y="429.4" width="257.2" height="154.8"/></clipPath><g clip-path="url(#cL3)"><g filter="url(#soft)"><rect x="68.3" y="426.4" width="263.2" height="160.8" fill="#d00010"/>
<path d="M68.3,428 331.5,428 L331.5,587.2 L68.3,587.2Z" fill="#e80008"/>
<path d="M68.3,454.6 110.2,455 126.6,456 131.1,455.4 132.6,452 134.1,433.7 135.6,428 331.5,428 L331.5,587.2 L68.3,587.2Z" fill="#ff0000"/>
<path d="M68.3,459.3 108.7,460.3 114.7,461.5 128.1,465.5 132.6,466 135.6,465.5 140.1,462.9 143.1,459.7 153.5,442.7 159.5,430.4 161,429.4 164,428.1 176,428 177.5,437.9 179,440 187.9,440 189.4,430.4 190.9,428 331.5,428 L331.5,587.2 L68.3,587.2Z" fill="#ff2800"/>
<path d="M68.3,463 75.8,463.5 114.7,468.9 126.6,469.9 134.1,469.8 137.1,468.2 141.6,464.7 155,449.1 158,446.1 159.5,445.2 167,443.2 187.9,440.3 196.9,438.5 198.4,437.6 201.4,428.6 202.9,428 331.5,428 L331.5,587.2 L68.3,587.2Z" fill="#ff4000"/>
<path d="M68.3,466 75.8,466.5 114.7,471.1 126.6,471.9 134.1,471.8 137.1,470.1 144.6,462.4 156.5,451.9 159.5,450.2 165.5,447.9 173,446.1 190.9,446.2 192.4,447.2 196.9,452.2 198.4,453.2 204.4,456.4 207.4,457 210.4,456.5 213.4,455.1 223.8,446.9 228.3,444.2 232.8,443.1 243.3,441.8 250.7,441.5 258.2,442.1 276.2,445.5 288.1,448.5 292.6,449.2 303.1,449 331.5,447.3 L331.5,587.2 L68.3,587.2Z" fill="#ff5800"/>
<path d="M68.3,469.2 75.8,469.6 114.7,473.7 134.1,474.6 135.6,474 138.6,471.5 149.1,460.3 156.5,453.4 159.5,451.5 165.5,449.1 173,447.5 182,447.5 190.9,448.7 192.4,449.8 196.9,454.7 198.4,455.7 204.4,458.9 207.4,459.5 210.4,459.1 213.4,457.7 223.8,450.2 228.3,447.6 231.3,446.9 237.3,446.3 250.7,446.1 261.2,446.9 274.7,449 286.6,452.3 292.6,453.2 304.6,452.9 331.5,451.1 L331.5,587.2 L68.3,587.2Z" fill="#ff7800"/>
<path d="M68.3,472.4 75.8,472.8 114.7,476.3 134.1,477.3 135.6,476.8 138.6,474.3 149.1,462.2 156.5,454.8 159.5,452.9 165.5,450.3 173,449 182,449 190.9,451.2 196.9,457.1 198.4,458.2 204.4,461.4 207.4,462 210.4,461.6 213.4,460.4 226.8,451.7 229.8,450.7 234.3,450.2 256.7,450.9 268.7,451.9 276.2,453.2 288.1,456.7 292.6,457.2 304.6,456.9 331.5,455 L331.5,587.2 L68.3,587.2Z" fill="#ff9000"/>
<path d="M68.3,475.6 134.1,480.1 135.6,479.6 138.6,477.2 143.1,472 149.1,464.1 156.5,456.3 159.5,454.2 164,452 167,451.1 173,450.4 182,450.6 189.4,453 192.4,454.9 196.9,459.6 198.4,460.6 204.4,463.9 207.4,464.5 210.4,464.1 213.4,463 226.8,455.1 229.8,454.2 232.8,453.9 249.2,455.2 271.7,456.1 276.2,457 286.6,460.4 291.1,461.1 306.1,460.7 331.5,458.8 L331.5,587.2 L68.3,587.2Z" fill="#ffa800"/>
<path d="M68.3,478.8 134.1,482.8 135.6,482.4 138.6,480 143.1,474.7 149.1,465.9 156.5,457.7 159.5,455.6 164,453.2 167,452.4 171.5,452 180.5,451.9 184.9,453.2 190.9,456.2 196.9,462.1 198.4,463.1 204.4,466.4 207.4,467 210.4,466.7 213.4,465.6 225.3,459.1 228.3,458 231.3,457.6 237.3,457.9 250.7,459.9 271.7,459.9 276.2,460.8 286.6,464.5 291.1,465.1 307.6,464.6 327,462.8 331.5,462.7 L331.5,587.2 L68.3,587.2Z" fill="#ffc000"/>
<path d="M68.3,482 120.6,484.4 132.6,485.5 135.6,485.2 138.6,482.8 141.6,479.3 149.1,467.8 156.5,459.2 159.5,456.9 164,454.4 168.5,453.5 180.5,453.3 183.4,454.2 190.9,458.7 196.9,464.5 198.4,465.6 204.4,468.9 207.4,469.5 211.9,468.8 225.3,462.5 228.3,461.5 231.3,461.2 235.8,461.5 246.3,463.8 250.7,464.5 271.7,463.7 276.2,464.7 285.1,468.1 289.6,469.1 307.6,468.6 316.5,468 327,466.6 331.5,466.5 L331.5,587.2 L68.3,587.2Z" fill="#ffd800"/>
<path d="M68.3,485.2 114.7,486.7 126.6,487.4 134.1,488.3 135.6,488.1 138.6,485.7 143.1,480.2 149.1,469.7 155,462.2 158,459.3 162.5,456.4 165.5,455.1 167,454.9 180.5,454.8 182,455.1 184.9,456.7 190.9,461.1 195.4,465.7 198.4,468 204.4,471.4 207.4,472 210.4,471.8 213.4,470.9 226.8,465.3 231.3,464.7 235.8,465.3 246.3,468.3 250.7,469.1 255.2,469 268.7,467.5 273.2,467.7 277.7,469 285.1,472.1 289.6,473.1 310.6,472.4 327,470.5 331.5,470.4 L331.5,587.2 L68.3,587.2Z" fill="#fff800"/>
<path d="M68.3,488 114.7,489.3 126.6,489.9 134.1,491 135.6,490.7 138.6,488.3 143.1,482.7 149.1,471.8 155,464 158,461.1 162.5,458.1 165.5,456.8 167,456.7 180.5,456.7 182,457.1 184.9,458.9 189.4,462.4 196.9,469.4 202.9,472.9 207.4,474.2 213.4,473.2 225.3,468.4 228.3,467.7 231.3,467.5 235.8,468.2 246.3,471.6 250.7,472.5 255.2,472.4 268.7,470.5 273.2,470.6 277.7,471.9 285.1,475.1 289.6,476.1 298.6,476.1 313.6,475.2 327,473.5 331.5,473.3 L331.5,587.2 L68.3,587.2Z" fill="#e8ff00"/>
<path d="M68.3,490.4 114.7,491.7 126.6,492.4 134.1,493.5 135.6,493.3 138.6,490.8 143.1,484.9 149.1,474.1 155,466.2 158,463.4 162.5,460.4 165.5,459.2 167,459 180.5,459.2 182,459.6 184.9,461.3 189.4,464.8 196.9,471.6 202.9,475 205.9,475.9 208.9,475.9 211.9,475.4 225.3,470.4 228.3,469.7 231.3,469.5 237.3,470.7 246.3,473.9 250.7,474.9 255.2,474.7 268.7,472.5 273.2,472.6 277.7,473.9 285.1,477 289.6,478.1 303.1,477.9 316.5,476.9 327,475.5 331.5,475.4 L331.5,587.2 L68.3,587.2Z" fill="#e0f810"/>
<path d="M68.3,492.8 114.7,494.2 126.6,494.9 134.1,496 135.6,495.8 138.6,493.2 141.6,489.3 149.1,476.3 155,468.4 158,465.7 162.5,462.8 165.5,461.5 167,461.3 179,461.5 182,462 184.9,463.8 189.4,467.3 196.9,473.9 201.4,476.4 205.9,477.8 208.9,477.8 211.9,477.2 223.8,472.8 229.8,471.6 235.8,472.3 247.8,476.6 250.7,477.3 255.2,477.1 267.2,474.7 273.2,474.5 277.7,475.8 286.6,479.4 291.1,480.2 301.6,480 316.5,478.9 327,477.6 331.5,477.5 L331.5,587.2 L68.3,587.2Z" fill="#d0f018"/>
<path d="M68.3,495.1 114.7,496.6 126.6,497.4 134.1,498.6 135.6,498.3 138.6,495.7 141.6,491.6 149.1,478.6 155,470.7 158,467.9 162.5,465.1 165.5,463.8 167,463.7 179,463.9 182,464.5 186.4,467.4 196.9,476.1 201.4,478.5 205.9,479.7 211.9,479 223.8,474.8 229.8,473.6 232.8,473.7 237.3,474.8 247.8,478.9 250.7,479.6 253.7,479.6 265.7,477 271.7,476.4 276.2,477.2 286.6,481.3 292.6,482.3 301.6,482.1 316.5,481 327,479.7 331.5,479.6 L331.5,587.2 L68.3,587.2Z" fill="#b0e008"/>
<path d="M68.3,497.5 114.7,499.1 126.6,499.9 134.1,501.1 135.6,500.9 137.1,499.8 140.1,496.1 143.1,491.6 149.1,480.9 155,472.9 158,470.2 162.5,467.4 165.5,466.2 167,466 179,466.4 182,466.9 184.9,468.7 196.9,478.4 201.4,480.6 205.9,481.6 211.9,480.8 223.8,476.7 229.8,475.6 232.8,475.8 237.3,476.8 241.8,478.4 247.8,481.2 252.2,482.1 255.2,481.7 265.7,479 271.7,478.3 276.2,479.2 288.1,483.6 294.1,484.4 300.1,484.2 327,481.8 331.5,481.7 L331.5,587.2 L68.3,587.2Z" fill="#a0d810"/>
<path d="M68.3,499.9 114.7,501.5 126.6,502.3 134.1,503.6 135.6,503.4 137.1,502.3 140.1,498.5 143.1,493.9 149.1,483.1 155,475.1 158,472.5 162.5,469.7 165.5,468.5 167,468.3 177.5,468.7 182,469.3 184.9,471.1 196.9,480.6 201.4,482.7 204.4,483.4 207.4,483.4 211.9,482.6 223.8,478.7 229.8,477.6 232.8,477.8 237.3,478.9 241.8,480.4 249.2,484 252.2,484.5 255.2,484 265.7,481.1 271.7,480.3 276.2,481.1 288.1,485.6 294.1,486.4 300.1,486.3 327,483.8 331.5,483.7 L331.5,587.2 L68.3,587.2Z" fill="#98d818"/>
<path d="M68.3,503.4 114.7,505.1 126.6,506 134.1,507.4 135.6,507.1 137.1,506 140.1,502 149.1,486.5 155,478.4 158,475.8 161,473.9 164,472.4 167,471.8 176,472.1 182,472.9 184.9,474.7 196.9,483.9 201.4,485.8 204.4,486.3 211.9,485.2 223.8,481.5 229.8,480.6 234.3,481.1 238.8,482.3 241.8,483.5 249.2,487.4 252.2,488 255.2,487.4 264.2,484.5 271.7,483.2 276.2,484 288.1,488.4 294.1,489.5 298.6,489.4 327,486.9 331.5,486.8 L331.5,587.2 L68.3,587.2Z" fill="#78c820"/>
<path d="M68.3,506.9 114.7,508.7 126.6,509.6 134.1,511.1 135.6,510.8 138.6,507.8 149.1,489.8 155,481.6 158,479.1 161,477.3 164,475.9 167,475.2 174.5,475.4 180.5,476 182,476.5 184.9,478.3 196.9,487.2 199.9,488.5 202.9,489.1 207.4,488.8 223.8,484.4 229.8,483.5 234.3,484.1 240.3,485.8 249.2,490.9 252.2,491.5 255.2,490.8 262.7,487.9 268.7,486.5 271.7,486.1 276.2,486.8 288.1,491.2 294.1,492.5 298.6,492.4 309.1,491.3 331.5,489.8 L331.5,587.2 L68.3,587.2Z" fill="#68c028"/>
<path d="M68.3,510.4 114.7,512.3 126.6,513.3 134.1,514.8 135.6,514.5 138.6,511.4 149.1,493.1 155,484.9 158,482.4 161,480.7 164,479.3 167,478.6 174.5,478.9 182,480.1 195.4,489.6 198.4,491.2 201.4,492 205.9,491.8 223.8,487.2 229.8,486.5 234.3,487.1 240.3,488.8 249.2,494.3 252.2,494.9 255.2,494.2 262.7,491 268.7,489.4 271.7,489.1 276.2,489.7 289.6,494.5 295.6,495.6 309.1,494.2 331.5,492.9 L331.5,587.2 L68.3,587.2Z" fill="#58b830"/>
<path d="M68.3,513.9 113.2,515.8 126.6,516.9 134.1,518.5 135.6,518.2 137.1,517 138.6,515 149.1,496.4 155,488.1 156.5,486.7 161,484 164,482.7 167,482 174.5,482.3 182,483.7 195.4,493 198.4,494.4 201.4,495.1 205.9,494.6 223.8,490.1 229.8,489.4 234.3,490.1 240.3,491.8 249.2,497.7 252.2,498.4 255.2,497.6 262.7,494.1 268.7,492.4 271.7,492 276.2,492.5 289.6,497.4 295.6,498.6 309.1,497.2 331.5,495.9 L331.5,587.2 L68.3,587.2Z" fill="#40b438"/>
<path d="M68.3,518.6 113.2,520.7 126.6,521.9 134.1,523.6 135.6,523.3 137.1,522 138.6,519.9 149.1,501 155,492.5 156.5,491.2 161,488.6 164,487.3 167,486.7 174.5,487 182,488.6 192.4,495.8 196.9,498.3 199.9,499.2 202.9,499.2 208.9,497.4 222.3,494.2 229.8,493.5 234.3,494.1 240.3,495.9 243.3,497.7 249.2,502.3 252.2,503.2 255.2,502.3 261.2,498.8 267.2,496.8 271.7,495.9 276.2,496.4 291.1,501.8 295.6,502.7 309.1,501.1 331.5,500.1 L331.5,587.2 L68.3,587.2Z" fill="#28ac40"/>
<path d="M68.3,523.4 113.2,525.6 126.6,526.8 134.1,528.6 135.6,528.3 137.1,526.9 138.6,524.8 144.6,513 153.5,498.7 155,496.9 158,494.7 162.5,492.5 167,491.3 173,491.5 180.5,492.9 183.4,494.3 192.4,500.6 196.9,502.7 199.9,503.5 202.9,503.2 208.9,500.9 222.3,498 228.3,497.4 232.8,497.9 240.3,500 243.3,501.9 249.2,507 252.2,507.9 255.2,506.9 261.2,503 267.2,500.8 271.7,499.9 274.7,500 277.7,500.7 291.1,505.8 295.6,506.8 309.1,505.1 331.5,504.2 L331.5,587.2 L68.3,587.2Z" fill="#28a848"/>
<path d="M68.3,528.1 113.2,530.5 126.6,531.8 134.1,533.7 135.6,533.3 137.1,531.9 138.6,529.7 144.6,517.5 153.5,503.1 155,501.3 158,499.2 162.5,497.1 167,496 173,496.2 180.5,497.7 183.4,499.2 192.4,505.4 196.9,507.2 199.9,507.8 202.9,507.3 208.9,504.5 219.3,502.3 226.8,501.4 232.8,501.9 240.3,504.1 243.3,506.1 249.2,511.6 250.7,512.4 252.2,512.6 255.2,511.5 261.2,507.3 267.2,504.9 271.7,503.8 274.7,503.9 277.7,504.5 286.6,507.7 292.6,510.3 295.6,510.9 300.1,510.6 309.1,509.1 331.5,508.3 L331.5,587.2 L68.3,587.2Z" fill="#10a048"/>
<path d="M68.3,532.9 111.7,535.2 126.6,536.6 134.1,538.3 135.6,537.9 138.6,534.1 146.1,519.9 152,510.7 155,507 156.5,505.8 162.5,503.1 168.5,501.8 174.5,502.4 180.5,504 183.4,505.5 192.4,511.3 196.9,512.9 199.9,513.4 202.9,512.7 208.9,509.9 217.8,507.8 226.8,506.7 232.8,507.3 240.3,509.6 243.3,511.7 249.2,517.5 250.7,518.3 252.2,518.5 255.2,517.3 261.2,513 267.2,510.5 271.7,509.3 274.7,509.4 277.7,510 286.6,513.2 292.6,516 295.6,516.6 300.1,516.3 309.1,514.7 331.5,513.9 L331.5,587.2 L68.3,587.2Z" fill="#089858"/>
<path d="M68.3,537.6 116.2,540.5 126.6,541.3 134.1,542.5 135.6,541.8 137.1,540.3 144.6,527.7 152,517.2 155,514 156.5,512.9 162.5,510.4 168.5,509.1 173,509.2 177.5,510.5 182,512.5 192.4,518.3 196.9,519.7 199.9,520.1 202.9,519.6 210.4,516.5 219.3,514.4 226.8,513.4 231.3,513.7 240.3,516.6 243.3,518.8 249.2,524.5 250.7,525.3 252.2,525.5 255.2,524.4 261.2,520.2 267.2,517.6 271.7,516.4 274.7,516.4 277.7,517.1 286.6,520.5 292.6,523.2 295.6,523.9 300.1,523.5 310.6,521.8 331.5,520.8 L331.5,587.2 L68.3,587.2Z" fill="#208870"/>
<path d="M68.3,542.3 134.1,546.6 135.6,545.8 137.1,544.2 146.1,531.1 152,523.8 155,521 156.5,520 162.5,517.7 167,516.6 170,516.3 173,516.4 176,517.2 190.9,524.8 198.4,526.8 202.9,526.4 211.9,523.1 222.3,520.6 226.8,520.1 231.3,520.4 240.3,523.6 243.3,525.9 249.2,531.5 250.7,532.3 252.2,532.5 255.2,531.5 261.2,527.5 268.7,524.2 271.7,523.5 274.7,523.5 277.7,524.3 292.6,530.5 295.6,531.1 300.1,530.8 310.6,529.1 331.5,527.6 L331.5,587.2 L68.3,587.2Z" fill="#18808c"/>
<path d="M68.3,547 116.2,550.3 132.6,551 134.1,550.8 137.1,548.1 141.6,541.9 146.1,536.7 153.5,529.1 156.5,527.1 161,525.5 165.5,524.2 170,523.5 174.5,523.9 184.9,529.7 192.4,532.4 198.4,533.6 202.9,533.3 213.4,529.7 223.8,527.1 228.3,526.7 231.3,527.1 240.3,530.6 243.3,532.9 249.2,538.5 250.7,539.3 252.2,539.5 255.2,538.5 261.2,534.7 267.2,532 270.2,530.9 273.2,530.5 277.7,531.4 292.6,537.7 295.6,538.4 300.1,538.1 313.6,536 327,534.6 331.5,534.5 L331.5,587.2 L68.3,587.2Z" fill="#2070a0"/>
<path d="M68.3,553.6 116.2,556.7 129.6,557.1 134.1,556.9 137.1,554 141.6,548.2 149.1,540.9 153.5,537.2 156.5,535.5 162.5,533.4 167,532.2 171.5,531.7 173,531.7 176,532.8 184.9,538.3 192.4,540.5 198.4,541.6 201.4,541.6 204.4,541 211.9,538.3 222.3,535.4 226.8,534.7 229.8,534.8 234.3,536.1 240.3,538.8 249.2,546.7 250.7,547.4 252.2,547.7 255.2,546.7 261.2,543 267.2,540.2 270.2,539.1 273.2,538.7 277.7,539.6 292.6,546 295.6,546.7 300.1,546.4 316.5,543.9 327,542.8 331.5,542.7 L331.5,587.2 L68.3,587.2Z" fill="#2068b0"/>
<path d="M68.3,562 116.2,564.6 131.1,565 134.1,564.7 137.1,562 141.6,556.4 149.1,550 153.5,546.8 156.5,545.2 164,542.4 168.5,541.3 171.5,541 173,541.1 176,542.1 184.9,547.6 192.4,549.9 198.4,550.9 201.4,550.9 204.4,550.3 211.9,547.6 222.3,544.7 226.8,544 229.8,544.1 234.3,545.4 240.3,548.1 249.2,556 250.7,556.8 252.2,557 255.2,556.1 261.2,552.4 267.2,549.6 270.2,548.4 273.2,548 277.7,549 292.6,555.3 295.6,556 300.1,555.7 316.5,553.2 327,552.1 331.5,552 L331.5,587.2 L68.3,587.2Z" fill="#3c5cd0"/>
<path d="M68.3,570 116.2,572.6 131.1,573 134.1,572.8 135.6,571.8 140.1,567 146.1,561.7 152,557.3 156.5,554.8 161,553 164,552.2 168.5,551.7 174.5,552.2 184.9,556.2 193.9,558.3 199.9,559 204.4,558.3 222.3,552.5 226.8,551.7 229.8,551.8 234.3,553.1 240.3,555.6 249.2,563.1 252.2,564 255.2,563.1 261.2,559.4 267.2,556.5 270.2,555.3 273.2,554.9 277.7,555.7 286.6,559.1 292.6,561.8 295.6,562.5 300.1,562.2 312.1,560.3 331.5,559 L331.5,587.2 L68.3,587.2Z" fill="#4048d8"/>
<path d="M68.3,578 116.2,580.6 134.1,580.8 135.6,579.9 149.1,568.6 158,563.7 161,562.6 164,562 171.5,562.5 193.9,566.4 199.9,567 204.4,566.3 223.8,559.9 226.8,559.4 229.8,559.5 234.3,560.7 240.3,563.1 249.2,570.1 252.2,571 255.2,570.1 261.2,566.4 268.7,562.8 273.2,561.8 279.2,563 286.6,565.6 292.6,568.3 295.6,569 300.1,568.7 310.6,567 331.5,566 L331.5,587.2 L68.3,587.2Z" fill="#4438f0"/>
<path d="M68.3,587.2 147.6,587.2 158,584.4 165.5,583.5 195.4,585.8 201.4,586 222.3,582.7 228.3,582.2 232.8,582.6 240.3,584.1 247.8,587.1 249.2,587.2 256.7,587.1 267.2,584.2 273.2,583.4 279.2,584 295.6,587 310.6,586 331.5,585.5 L331.5,587.2 L68.3,587.2Z" fill="#412dfa"/>
<path d="M81,430 H95 V436 C95,441 92,442 88,442 C84,442 81,441 81,436Z" fill="#d00010"/></g></g>
<rect x="71.3" y="429.4" width="271.8" height="154.8" fill="none" stroke="#1a1a1a" stroke-width="1.3"/>
<path d="M71.3,429.4V425.4M71.3,584.2V588.7M116.6,429.4V425.4M116.6,584.2V588.7M161.9,429.4V425.4M161.9,584.2V588.7M207.2,429.4V425.4M207.2,584.2V588.7M252.5,429.4V425.4M252.5,584.2V588.7M297.8,429.4V425.4M297.8,584.2V588.7M343.1,429.4V425.4M343.1,584.2V588.7M71.3,433H63M343.1,433H351.4M71.3,439.3H63M343.1,439.3H351.4M71.3,445.6H63M343.1,445.6H351.4M71.3,451.9H63M343.1,451.9H351.4M71.3,458.2H63M343.1,458.2H351.4M71.3,464.5H63M343.1,464.5H351.4M71.3,470.8H63M343.1,470.8H351.4M71.3,477.1H63M343.1,477.1H351.4M71.3,483.4H63M343.1,483.4H351.4M71.3,489.7H63M343.1,489.7H351.4M71.3,496H63M343.1,496H351.4M71.3,502.3H63M343.1,502.3H351.4M71.3,508.6H63M343.1,508.6H351.4M71.3,514.9H63M343.1,514.9H351.4M71.3,521.2H63M343.1,521.2H351.4M71.3,527.5H63M343.1,527.5H351.4M71.3,533.8H63M343.1,533.8H351.4M71.3,540.1H63M343.1,540.1H351.4M71.3,546.4H63M343.1,546.4H351.4M71.3,552.7H63M343.1,552.7H351.4M71.3,559H63M343.1,559H351.4M71.3,565.3H63M343.1,565.3H351.4M71.3,571.6H63M343.1,571.6H351.4M71.3,577.9H63M343.1,577.9H351.4M71.3,584.2H63M343.1,584.2H351.4" stroke="#1a1a1a" stroke-width="1.3" fill="none"/>
<text x="142.5" y="414.9" font-family="Liberation Sans" font-size="21" font-weight="bold" text-anchor="start" fill="#000" textLength="59.8" lengthAdjust="spacingAndGlyphs" >Exp2</text>
<text x="55.3" y="438.9" font-family="Liberation Serif" font-size="14.5" font-weight="normal" text-anchor="end" fill="#000" textLength="16.8" lengthAdjust="spacingAndGlyphs" stroke="#000" stroke-width="0.45">10</text>
<text x="55.3" y="451.7" font-family="Liberation Serif" font-size="14.5" font-weight="normal" text-anchor="end" fill="#000" textLength="16.8" lengthAdjust="spacingAndGlyphs" stroke="#000" stroke-width="0.45">30</text>
<text x="55.3" y="464.4" font-family="Liberation Serif" font-size="14.5" font-weight="normal" text-anchor="end" fill="#000" textLength="16.8" lengthAdjust="spacingAndGlyphs" stroke="#000" stroke-width="0.45">50</text>
<text x="55.3" y="477.2" font-family="Liberation Serif" font-size="14.5" font-weight="normal" text-anchor="end" fill="#000" textLength="16.8" lengthAdjust="spacingAndGlyphs" stroke="#000" stroke-width="0.45">70</text>
<text x="55.3" y="490" font-family="Liberation Serif" font-size="14.5" font-weight="normal" text-anchor="end" fill="#000" textLength="16.8" lengthAdjust="spacingAndGlyphs" stroke="#000" stroke-width="0.45">90</text>
<text x="55.3" y="502.7" font-family="Liberation Serif" font-size="14.5" font-weight="normal" text-anchor="end" fill="#000" textLength="25.2" lengthAdjust="spacingAndGlyphs" stroke="#000" stroke-width="0.45">110</text>
<text x="55.3" y="515.5" font-family="Liberation Serif" font-size="14.5" font-weight="normal" text-anchor="end" fill="#000" textLength="25.2" lengthAdjust="spacingAndGlyphs" stroke="#000" stroke-width="0.45">130</text>
<text x="55.3" y="528.2" font-family="Liberation Serif" font-size="14.5" font-weight="normal" text-anchor="end" fill="#000" textLength="25.2" lengthAdjust="spacingAndGlyphs" stroke="#000" stroke-width="0.45">150</text>
<text x="55.3" y="541" font-family="Liberation Serif" font-size="14.5" font-weight="normal" text-anchor="end" fill="#000" textLength="25.2" lengthAdjust="spacingAndGlyphs" stroke="#000" stroke-width="0.45">170</text>
<text x="55.3" y="553.8" font-family="Liberation Serif" font-size="14.5" font-weight="normal" text-anchor="end" fill="#000" textLength="25.2" lengthAdjust="spacingAndGlyphs" stroke="#000" stroke-width="0.45">190</text>
<text x="55.3" y="566.5" font-family="Liberation Serif" font-size="14.5" font-weight="normal" text-anchor="end" fill="#000" textLength="25.2" lengthAdjust="spacingAndGlyphs" stroke="#000" stroke-width="0.45">210</text>
<text x="55.3" y="579.3" font-family="Liberation Serif" font-size="14.5" font-weight="normal" text-anchor="end" fill="#000" textLength="25.2" lengthAdjust="spacingAndGlyphs" stroke="#000" stroke-width="0.45">230</text>
<text x="55.3" y="592" font-family="Liberation Serif" font-size="14.5" font-weight="normal" text-anchor="end" fill="#000" textLength="25.2" lengthAdjust="spacingAndGlyphs" stroke="#000" stroke-width="0.45">250</text>
<text transform="translate(11.8,537) rotate(-90)" font-family="Liberation Sans" font-size="15.5" text-anchor="middle" textLength="73.6" lengthAdjust="spacingAndGlyphs">Depth (m)</text>
<clipPath id="cR3"><rect x="399.6" y="429.3" width="260.3" height="155"/></clipPath><g clip-path="url(#cR3)"><g filter="url(#soft)"><rect x="396.6" y="426.3" width="266.3" height="161" fill="#d00010"/>
<path d="M396.6,428 662.9,428 L662.9,587.3 L396.6,587.3Z" fill="#e80008"/>
<path d="M396.6,449 453.5,449 454.9,444 456.4,429.9 457.9,428 662.9,428 L662.9,587.3 L396.6,587.3Z" fill="#ff0000"/>
<path d="M396.6,453 450.5,455 471.4,454.8 487.9,454 490.9,428.2 492.3,428 619.5,428 621,433.5 622.5,447.5 624,449 662.9,449 L662.9,587.3 L396.6,587.3Z" fill="#ff2800"/>
<path d="M396.6,458 526.8,463 585.1,463.9 662.9,464 L662.9,587.3 L396.6,587.3Z" fill="#ff4000"/>
<path d="M396.6,462.7 437,465.8 452,466.5 462.4,466.1 484.9,463.2 493.8,462.7 502.8,463.2 526.8,466.3 559.7,467.5 604.6,468 662.9,467 L662.9,587.3 L396.6,587.3Z" fill="#ff5800"/>
<path d="M396.6,465.8 435.5,468.5 450.5,469.2 460.9,468.9 483.4,466.3 493.8,465.7 502.8,466.2 525.3,468.8 537.2,469.2 603.1,470.6 662.9,469.6 L662.9,587.3 L396.6,587.3Z" fill="#ff7800"/>
<path d="M396.6,468.9 435.5,471.3 450.5,471.9 459.4,471.6 481.9,469.3 493.8,468.7 502.8,469.1 528.3,471.5 568.6,471.8 600.1,473.1 662.9,472.2 L662.9,587.3 L396.6,587.3Z" fill="#ff9000"/>
<path d="M396.6,472.1 450.5,474.5 459.4,474.2 480.4,472.2 492.3,471.7 501.3,472 528.3,474.1 568.6,473.8 603.1,475.7 662.9,474.8 L662.9,587.3 L396.6,587.3Z" fill="#ffa800"/>
<path d="M396.6,475.2 450.5,477.2 457.9,477 474.4,475.3 490.9,474.7 529.8,476.6 570.1,475.9 604.6,478.3 662.9,477.5 L662.9,587.3 L396.6,587.3Z" fill="#ffc000"/>
<path d="M396.6,478.3 450.5,479.9 457.9,479.6 472.9,478.1 483.4,477.8 496.8,477.8 531.2,479.2 567.2,477.9 576.1,478.3 603.1,480.8 662.9,480.1 L662.9,587.3 L396.6,587.3Z" fill="#ffd800"/>
<path d="M396.6,481.4 450.5,482.6 474.4,480.7 492.3,480.7 531.2,481.7 567.2,480 576.1,480.5 594.1,482.7 603.1,483.4 662.9,482.7 L662.9,587.3 L396.6,587.3Z" fill="#fff800"/>
<path d="M396.6,484.2 450.5,485.1 472.9,483.2 531.2,484.2 567.2,482.2 576.1,482.7 595.6,485.2 603.1,485.7 662.9,485.1 L662.9,587.3 L396.6,587.3Z" fill="#e8ff00"/>
<path d="M396.6,486.5 450.5,487.4 472.9,485.6 531.2,486.5 567.2,484.6 576.1,485.1 595.6,487.4 603.1,488 662.9,487.4 L662.9,587.3 L396.6,587.3Z" fill="#e0f810"/>
<path d="M396.6,488.9 450.5,489.7 472.9,488 531.2,488.8 567.2,487 576.1,487.5 603.1,490.2 662.9,489.6 L662.9,587.3 L396.6,587.3Z" fill="#d0f018"/>
<path d="M396.6,491.2 450.5,492 472.9,490.4 531.2,491.1 567.2,489.5 576.1,489.9 603.1,492.4 662.9,491.8 L662.9,587.3 L396.6,587.3Z" fill="#b0e008"/>
<path d="M396.6,493.6 450.5,494.3 472.9,492.8 531.2,493.4 567.2,491.9 576.1,492.3 603.1,494.6 662.9,494.1 L662.9,587.3 L396.6,587.3Z" fill="#a0d810"/>
<path d="M396.6,495.9 450.5,496.5 472.9,495.1 531.2,495.7 567.2,494.3 576.1,494.7 603.1,496.8 662.9,496.3 L662.9,587.3 L396.6,587.3Z" fill="#98d818"/>
<path d="M396.6,499.3 450.5,499.9 472.9,498.6 531.2,499.1 567.2,497.9 603.1,500.1 662.9,499.6 L662.9,587.3 L396.6,587.3Z" fill="#78c820"/>
<path d="M396.6,502.8 450.5,503.2 472.9,502.1 531.2,502.5 567.2,501.4 603.1,503.3 662.9,502.9 L662.9,587.3 L396.6,587.3Z" fill="#68c028"/>
<path d="M396.6,506.2 450.5,506.6 472.9,505.6 531.2,505.9 567.2,505 603.1,506.6 662.9,506.1 L662.9,587.3 L396.6,587.3Z" fill="#58b830"/>
<path d="M396.6,509.7 450.5,509.9 472.9,509.1 531.2,509.3 567.2,508.5 603.1,509.8 662.9,509.4 L662.9,587.3 L396.6,587.3Z" fill="#40b438"/>
<path d="M396.6,514.3 450.5,514.5 472.9,513.9 531.2,514 567.2,513.3 603.1,514.2 662.9,513.9 L662.9,587.3 L396.6,587.3Z" fill="#28ac40"/>
<path d="M396.6,519 450.5,519 567.2,518.1 603.1,518.6 662.9,518.3 L662.9,587.3 L396.6,587.3Z" fill="#28a848"/>
<path d="M396.6,523.7 662.9,522.8 L662.9,587.3 L396.6,587.3Z" fill="#10a048"/>
<path d="M396.6,528.2 662.9,527.1 L662.9,587.3 L396.6,587.3Z" fill="#089858"/>
<path d="M396.6,532.6 662.9,531.2 L662.9,587.3 L396.6,587.3Z" fill="#208870"/>
<path d="M396.6,537 662.9,535.3 L662.9,587.3 L396.6,587.3Z" fill="#18808c"/>
<path d="M396.6,541.4 662.9,539.4 L662.9,587.3 L396.6,587.3Z" fill="#2070a0"/>
<path d="M396.6,549.4 662.9,548 L662.9,587.3 L396.6,587.3Z" fill="#2068b0"/>
<path d="M396.6,561 662.9,561 L662.9,587.3 L396.6,587.3Z" fill="#3c5cd0"/>
<path d="M396.6,568.5 662.9,568 L662.9,587.3 L396.6,587.3Z" fill="#4048d8"/>
<path d="M396.6,576 662.9,575 L662.9,587.3 L396.6,587.3Z" fill="#4438f0"/></g></g>
<rect x="399.6" y="429.3" width="272.7" height="155" fill="none" stroke="#1a1a1a" stroke-width="1.3"/>
<path d="M399.6,429.3V425.3M399.6,584.3V588.8M445.1,429.3V425.3M445.1,584.3V588.8M490.5,429.3V425.3M490.5,584.3V588.8M536,429.3V425.3M536,584.3V588.8M581.4,429.3V425.3M581.4,584.3V588.8M626.8,429.3V425.3M626.8,584.3V588.8M672.3,429.3V425.3M672.3,584.3V588.8M399.6,433H391.3M672.3,433H680.6M399.6,439.3H391.3M672.3,439.3H680.6M399.6,445.6H391.3M672.3,445.6H680.6M399.6,451.9H391.3M672.3,451.9H680.6M399.6,458.2H391.3M672.3,458.2H680.6M399.6,464.5H391.3M672.3,464.5H680.6M399.6,470.8H391.3M672.3,470.8H680.6M399.6,477.1H391.3M672.3,477.1H680.6M399.6,483.4H391.3M672.3,483.4H680.6M399.6,489.7H391.3M672.3,489.7H680.6M399.6,496H391.3M672.3,496H680.6M399.6,502.3H391.3M672.3,502.3H680.6M399.6,508.6H391.3M672.3,508.6H680.6M399.6,515H391.3M672.3,515H680.6M399.6,521.3H391.3M672.3,521.3H680.6M399.6,527.6H391.3M672.3,527.6H680.6M399.6,533.9H391.3M672.3,533.9H680.6M399.6,540.2H391.3M672.3,540.2H680.6M399.6,546.5H391.3M672.3,546.5H680.6M399.6,552.8H391.3M672.3,552.8H680.6M399.6,559.1H391.3M672.3,559.1H680.6M399.6,565.4H391.3M672.3,565.4H680.6M399.6,571.7H391.3M672.3,571.7H680.6M399.6,578H391.3M672.3,578H680.6M399.6,584.3H391.3M672.3,584.3H680.6" stroke="#1a1a1a" stroke-width="1.3" fill="none"/>
<text x="520.6" y="414.7" font-family="Liberation Sans" font-size="21" font-weight="bold" text-anchor="start" fill="#000" textLength="60" lengthAdjust="spacingAndGlyphs" >Exp2</text>
<clipPath id="cL4"><rect x="70.7" y="626.4" width="256.6" height="155.1"/></clipPath><g clip-path="url(#cL4)"><g filter="url(#soft)"><rect x="67.7" y="623.4" width="262.6" height="161.1" fill="#d00010"/>
<path d="M67.7,625 330.3,625 L330.3,784.5 L67.7,784.5Z" fill="#e80008"/>
<path d="M67.7,651 125.9,652 130.4,652 133.4,651.3 134.8,645.8 136.3,628.2 137.8,625 330.3,625 L330.3,784.5 L67.7,784.5Z" fill="#ff0000"/>
<path d="M67.7,655.4 105,656.7 124.4,658 127.4,658.5 134.8,662.6 136.3,663 137.8,662.7 139.3,661.2 143.8,653.6 149.8,640.5 157.2,625.6 158.7,625 169.2,625.2 170.7,636 172.1,637 173.6,637 190,637 191.5,626.6 193,625 330.3,625 L330.3,784.5 L67.7,784.5Z" fill="#ff2800"/>
<path d="M67.7,660 73.7,660.3 115.4,664.5 128.9,665 133.4,664.6 139.3,662.3 142.3,660.2 148.3,652.1 154.2,645.1 157.2,642 160.2,639.9 166.2,637.3 170.7,636 172.1,637 190,637 191.5,632.6 196,630.7 197.5,629.4 199,626.1 200.5,625 330.3,625 L330.3,784.5 L67.7,784.5Z" fill="#ff4000"/>
<path d="M67.7,662 75.2,662.5 114,667.2 127.4,668 133.4,667.6 139.3,665.3 142.3,663.1 154.2,646.3 158.7,641 163.2,638.5 170.7,636 172.1,637 184.1,637 188.6,638.1 197.5,642.6 205,648.7 208,650 210.9,649.8 213.9,648.9 225.9,643.5 230.3,642.4 236.3,642.5 249.7,644.1 255.7,644.3 261.7,643.5 273.6,640.8 278.1,640.4 281.1,641.6 290,650.6 293,652 302,651.5 325.8,648.2 330.3,648.1 L330.3,784.5 L67.7,784.5Z" fill="#ff5800"/>
<path d="M67.7,665.2 75.2,665.6 116.9,670.1 128.9,670.7 133.4,670.3 139.3,667.9 142.3,665.2 149.8,654.3 155.7,646.4 158.7,643.1 163.2,640.6 170.7,638.1 172.1,639 184.1,640 187.1,640.8 197.5,646.3 205,652 208,653.2 210.9,653 213.9,652.2 225.9,646.9 230.3,645.8 236.3,646 249.7,648 255.7,648.3 260.2,647.7 270.6,645.2 276.6,644.6 279.6,645.1 281.1,645.9 288.5,652.9 291.5,654.9 293,655.2 303.4,654.7 325.8,651.6 330.3,651.5 L330.3,784.5 L67.7,784.5Z" fill="#ff7800"/>
<path d="M67.7,668.4 75.2,668.8 119.9,673 130.4,673.4 133.4,673.1 137.8,671.4 140.8,669.1 152.7,652.2 158.7,645.3 163.2,642.6 170.7,640.2 172.1,640.9 176.6,641.4 185.6,643.4 197.5,650 205,655.4 208,656.5 210.9,656.3 213.9,655.5 225.9,650.3 228.8,649.4 231.8,649.1 236.3,649.5 248.2,651.7 254.2,652.3 258.7,651.9 270.6,649 278.1,649 281.1,650.2 290,657.5 293,658.5 303.4,658 325.8,655 330.3,654.9 L330.3,784.5 L67.7,784.5Z" fill="#ff9000"/>
<path d="M67.7,671.6 79.6,672.3 122.9,675.9 130.4,676.2 133.4,675.8 137.8,674.1 140.8,671.5 152.7,654.2 158.7,647.5 163.2,644.7 170.7,642.4 176.6,643.6 185.6,646.5 197.5,653.8 203.5,657.9 206.5,659.4 208,659.8 210.9,659.6 213.9,658.8 225.9,653.7 228.8,652.8 231.8,652.5 236.3,652.9 248.2,655.6 254.2,656.3 258.7,655.9 269.1,653.1 272.1,652.8 276.6,653 279.6,653.7 281.1,654.5 288.5,660 291.5,661.5 293,661.8 304.9,661.2 325.8,658.4 330.3,658.3 L330.3,784.5 L67.7,784.5Z" fill="#ffa800"/>
<path d="M67.7,674.9 96,676.4 125.9,678.7 133.4,678.6 137.8,676.7 139.3,675.5 152.7,656.2 158.7,649.6 163.2,646.7 170.7,644.5 176.6,645.8 184.1,648.8 203.5,661.3 208,663 210.9,662.8 213.9,662.1 225.9,657.1 228.8,656.3 231.8,656 236.3,656.4 248.2,659.4 254.2,660.3 258.7,659.8 269.1,656.9 275.1,656.9 279.6,658 288.5,663.5 293,665 304.9,664.5 325.8,661.9 330.3,661.8 L330.3,784.5 L67.7,784.5Z" fill="#ffc000"/>
<path d="M67.7,678.1 106.5,679.8 127.4,681.5 133.4,681.3 137.8,679.4 139.3,678 151.3,660.1 154.2,656.3 158.7,651.8 163.2,648.8 167.7,647.2 170.7,646.6 175.1,647.4 184.1,651.8 196,660.3 203.5,664.8 208,666.3 210.9,666.1 213.9,665.3 225.9,660.5 228.8,659.7 231.8,659.4 236.3,659.9 248.2,663.3 254.2,664.3 258.7,663.8 267.6,661 270.6,660.6 273.6,660.8 279.6,662.4 288.5,667.1 293,668.3 306.4,667.7 325.8,665.3 330.3,665.2 L330.3,784.5 L67.7,784.5Z" fill="#ffd800"/>
<path d="M67.7,681.3 105,682.4 127.4,684.2 133.4,684.1 137.8,682.1 139.3,680.6 151.3,662.1 157.2,655.3 160.2,652.7 163.2,650.9 167.7,649.3 170.7,648.7 173.6,649 178.1,651.1 185.6,655.8 196,664 203.5,668.2 208,669.6 210.9,669.4 213.9,668.6 225.9,663.9 231.8,662.8 236.3,663.4 248.2,667.2 254.2,668.3 258.7,667.7 267.6,664.8 272.1,664.6 278.1,666.1 288.5,670.7 293,671.6 309.4,670.8 325.8,668.7 330.3,668.6 L330.3,784.5 L67.7,784.5Z" fill="#fff800"/>
<path d="M67.7,684.1 106.5,685 127.4,686.8 133.4,686.7 137.8,684.7 139.3,683 143.8,675.5 151.3,664.3 157.2,657.7 160.2,655.1 163.2,653.3 167.7,651.7 170.7,651.1 173.6,651.4 176.6,652.7 184.1,657.5 196,667 203.5,671.1 208,672.3 212.4,671.8 225.9,666.6 228.8,665.9 231.8,665.6 236.3,666.2 248.2,670.4 254.2,671.5 258.7,670.9 267.6,667.8 272.1,667.6 276.6,668.7 288.5,673.5 293,674.2 312.4,673.3 325.8,671.5 330.3,671.4 L330.3,784.5 L67.7,784.5Z" fill="#e8ff00"/>
<path d="M67.7,686.5 106.5,687.5 127.4,689.2 133.4,689.2 137.8,687.1 139.3,685.4 143.8,677.8 149.8,668.9 152.7,664.9 155.7,661.7 160.2,657.8 163.2,656 167.7,654.4 170.7,653.9 173.6,654.2 176.6,655.5 184.1,660 196,669.1 203.5,673.3 208,674.6 212.4,674.1 225.9,668.8 228.8,668 231.8,667.8 237.8,668.9 249.7,673.3 254.2,674 258.7,673.2 267.6,670 272.1,669.8 276.6,670.9 288.5,675.6 293,676.3 309.4,675.6 325.8,673.6 330.3,673.5 L330.3,784.5 L67.7,784.5Z" fill="#e0f810"/>
<path d="M67.7,689 106.5,690 127.4,691.7 133.4,691.7 136.3,690.5 137.8,689.5 139.3,687.8 143.8,680.2 149.8,671.4 152.7,667.4 155.7,664.3 160.2,660.5 163.2,658.7 167.7,657.2 170.7,656.7 173.6,657 178.1,659 185.6,663.6 196,671.2 203.5,675.5 208,677 212.4,676.4 225.9,670.9 228.8,670.1 231.8,669.9 236.3,670.7 248.2,675.3 252.7,676.4 257.2,676.1 266.1,672.6 270.6,671.8 276.6,673 288.5,677.7 293,678.4 309.4,677.7 325.8,675.8 330.3,675.7 L330.3,784.5 L67.7,784.5Z" fill="#d0f018"/>
<path d="M67.7,691.4 106.5,692.4 128.9,694.3 133.4,694.2 136.3,692.9 137.8,691.9 139.3,690.1 143.8,682.6 149.8,673.8 152.7,669.9 155.7,666.9 160.2,663.1 163.2,661.4 167.7,660 170.7,659.5 173.6,659.8 178.1,661.7 184.1,665.1 194.5,672.3 202,676.8 205,678.4 208,679.3 210.9,679.1 213.9,678.2 224.4,673.6 230.3,672.1 233.3,672.2 236.3,673 248.2,677.8 252.7,678.8 257.2,678.5 266.1,674.8 270.6,674 276.6,675.2 288.5,679.8 293,680.5 307.9,679.9 325.8,677.9 330.3,677.8 L330.3,784.5 L67.7,784.5Z" fill="#b0e008"/>
<path d="M67.7,693.8 106.5,694.9 128.9,696.7 133.4,696.7 136.3,695.4 139.3,692.5 143.8,684.9 149.8,676.3 152.7,672.4 155.7,669.4 160.2,665.8 163.2,664.1 167.7,662.7 170.7,662.3 173.6,662.6 178.1,664.5 185.6,668.6 203.5,679.9 208,681.6 210.9,681.4 213.9,680.5 224.4,675.8 227.3,674.7 230.3,674.3 233.3,674.4 236.3,675.2 248.2,680.3 252.7,681.3 257.2,680.9 266.1,677 270.6,676.1 276.6,677.3 288.5,681.9 293,682.6 307.9,682 325.8,680.1 330.3,680 L330.3,784.5 L67.7,784.5Z" fill="#a0d810"/>
<path d="M67.7,696.3 106.5,697.4 130.4,699.3 133.4,699.2 134.8,698.7 137.8,696.7 139.3,694.8 143.8,687.3 149.8,678.8 152.7,674.9 155.7,672 160.2,668.5 163.2,666.8 167.7,665.5 170.7,665.1 173.6,665.4 178.1,667.2 185.6,671.1 205,682.9 208,683.9 210.9,683.7 213.9,682.8 224.4,677.9 227.3,676.9 230.3,676.4 233.3,676.6 236.3,677.4 248.2,682.7 252.7,683.8 257.2,683.3 266.1,679.1 270.6,678.3 276.6,679.5 288.5,684 293,684.7 306.4,684.2 325.8,682.2 330.3,682.1 L330.3,784.5 L67.7,784.5Z" fill="#98d818"/>
<path d="M67.7,699.8 108,701.1 133.4,702.9 134.8,702.4 137.8,700.2 145.3,688.6 151.3,680.4 154.2,677.1 158.7,673.4 161.7,671.5 166.2,669.9 170.7,669.2 175.1,669.9 184.1,674 199,682.2 205,686.3 208,687.3 212.4,686.7 224.4,681.1 227.3,680 230.3,679.6 233.3,679.8 236.3,680.7 246.7,685.7 249.7,686.8 252.7,687.4 257.2,686.8 266.1,682.4 270.6,681.5 276.6,682.6 288.5,687.1 293,687.8 306.4,687.3 325.8,685.4 330.3,685.3 L330.3,784.5 L67.7,784.5Z" fill="#78c820"/>
<path d="M67.7,703.4 108,704.7 133.4,706.6 134.8,706.1 137.8,703.8 145.3,692.1 151.3,684.1 154.2,680.8 161.7,675.5 164.7,674.3 169.2,673.4 172.1,673.4 175.1,674 184.1,677.7 197.5,684.4 205,689.6 208,690.7 212.4,690 224.4,684.2 227.3,683.2 230.3,682.7 233.3,683 236.3,684 246.7,689.3 249.7,690.5 252.7,691.1 257.2,690.3 266.1,685.6 270.6,684.6 276.6,685.8 288.5,690.2 293,690.9 306.4,690.4 325.8,688.5 330.3,688.5 L330.3,784.5 L67.7,784.5Z" fill="#68c028"/>
<path d="M67.7,707 108,708.3 133.4,710.2 134.8,709.8 137.8,707.3 145.3,695.6 151.3,687.8 154.2,684.6 161.7,679.4 164.7,678.3 169.2,677.5 172.1,677.5 175.1,678.1 185.6,682.1 197.5,687.5 205,692.9 208,694.1 212.4,693.4 224.4,687.4 227.3,686.3 230.3,685.9 234.8,686.7 246.7,692.9 249.7,694.1 252.7,694.7 254.2,694.7 257.2,693.8 266.1,688.8 269.1,687.9 270.6,687.8 276.6,688.9 288.5,693.3 293,694 304.9,693.6 325.8,691.7 330.3,691.6 L330.3,784.5 L67.7,784.5Z" fill="#58b830"/>
<path d="M67.7,710.6 108,711.9 133.4,713.9 134.8,713.4 137.8,710.8 145.3,699.1 151.3,691.4 154.2,688.3 161.7,683.4 164.7,682.3 169.2,681.6 172.1,681.6 176.6,682.6 193,688.7 199,691.4 205,696.2 208,697.5 212.4,696.8 224.4,690.6 227.3,689.4 230.3,689 234.8,690 246.7,696.5 249.7,697.7 252.7,698.3 254.2,698.3 257.2,697.4 266.1,692 269.1,691 270.6,691 276.6,692.1 288.5,696.4 293,697.1 304.9,696.7 325.8,694.9 330.3,694.8 L330.3,784.5 L67.7,784.5Z" fill="#40b438"/>
<path d="M67.7,715.4 108,716.8 133.4,718.9 134.8,718.4 137.8,715.6 143.8,705.8 149.8,698.2 154.2,693.4 161.7,688.8 164.7,687.7 167.7,687.2 172.1,687.2 176.6,688.1 197.5,694.8 200.5,696.8 205,700.7 208,702.1 212.4,701.3 224.4,694.8 227.3,693.7 230.3,693.3 234.8,694.4 246.7,701.4 249.7,702.7 252.7,703.3 254.2,703.2 257.2,702.2 266.1,696.4 269.1,695.3 270.6,695.3 276.6,696.4 288.5,700.6 293,701.2 303.4,700.9 325.8,699.1 330.3,699.1 L330.3,784.5 L67.7,784.5Z" fill="#28ac40"/>
<path d="M67.7,720.2 109.5,721.8 133.4,723.8 134.8,723.4 137.8,720.4 143.8,710.5 152.7,699.8 155.7,697.3 160.2,694.8 164.7,693.1 167.7,692.7 175.1,693.3 190,696.8 197.5,698.9 200.5,701 205,705.1 208,706.7 212.4,705.9 224.4,699.1 227.3,698 230.3,697.6 233.3,698.2 236.3,699.5 248.2,707 252.7,708.2 254.2,708.1 257.2,706.9 264.7,701.7 269.1,699.6 272.1,699.7 275.1,700.2 287,704.4 293,705.4 303.4,705.1 330.3,703.4 L330.3,784.5 L67.7,784.5Z" fill="#28a848"/>
<path d="M67.7,725.1 111,726.8 125.9,727.9 133.4,728.8 134.8,728.4 136.3,727.1 143.8,715.2 152.7,704.8 155.7,702.4 160.2,700.2 164.7,698.6 167.7,698.2 175.1,698.8 191.5,701.7 197.5,703.1 200.5,705.2 205,709.6 208,711.2 209.4,711.2 212.4,710.5 224.4,703.4 227.3,702.2 230.3,701.9 233.3,702.5 236.3,704 248.2,711.9 252.7,713.1 254.2,713 257.2,711.7 264.7,706.1 269.1,704 272.1,704 275.1,704.5 287,708.6 293,709.6 330.3,707.7 L330.3,784.5 L67.7,784.5Z" fill="#10a048"/>
<path d="M67.7,729.9 112.5,731.9 133.4,733.6 134.8,733.1 136.3,731.8 143.8,720.4 152.7,710.4 155.7,708.2 160.2,706.2 164.7,704.7 167.7,704.3 175.1,704.8 191.5,707 197.5,708.2 200.5,710.4 205,715.1 208,716.9 209.4,716.9 212.4,716.1 224.4,708.8 228.8,707.4 231.8,707.7 234.8,708.8 246.7,716.8 249.7,718.2 252.7,718.7 254.2,718.6 257.2,717.3 266.1,710.8 269.1,709.6 270.6,709.4 275.1,709.9 287,713.5 293,714.5 330.3,713.2 L330.3,784.5 L67.7,784.5Z" fill="#089858"/>
<path d="M67.7,734.6 133.4,738.2 134.8,737.6 136.3,736.2 143.8,726 149.8,719.4 152.7,716.6 155.7,714.7 160.2,712.8 164.7,711.5 167.7,711 176.6,711.4 191.5,713.1 197.5,714.2 200.5,716.5 205,721.7 208,723.7 209.4,723.7 212.4,722.8 224.4,715.4 228.8,714.2 231.8,714.5 234.8,715.7 246.7,723.2 249.7,724.4 252.7,725 254.2,724.8 257.2,723.7 266.1,717.8 270.6,716.3 275.1,716.5 287,719.2 293,720 330.3,719.9 L330.3,784.5 L67.7,784.5Z" fill="#208870"/>
<path d="M67.7,739.3 130.4,743 133.4,742.8 136.3,740.7 145.3,730 149.8,725.3 152.7,722.8 155.7,721.2 161.7,719 169.2,717.7 185.6,718.6 197.5,720.1 200.5,722.6 205,728.3 206.5,729.7 208,730.4 209.4,730.4 212.4,729.5 224.4,722 228.8,720.9 233.3,721.9 246.7,729.6 249.7,730.7 252.7,731.2 257.2,730.2 267.6,724.1 272.1,723 276.6,723.2 293,725.5 330.3,726.7 L330.3,784.5 L67.7,784.5Z" fill="#18808c"/>
<path d="M67.7,744 112.5,747 131.9,747.8 134.8,746.5 148.3,732.7 152.7,729 161.7,725.8 170.7,724.3 185.6,724.8 197.5,726.1 200.5,728.7 205,734.8 206.5,736.3 208,737.2 209.4,737.2 212.4,736.2 222.9,729.3 227.3,727.7 230.3,727.9 233.3,728.8 246.7,736 249.7,737 252.7,737.5 257.2,736.6 269.1,730.5 273.6,729.6 321.3,733.1 330.3,733.4 L330.3,784.5 L67.7,784.5Z" fill="#2070a0"/>
<path d="M67.7,751.9 112.5,755.2 131.9,755.8 134.8,754.4 149.8,739.8 152.7,737.6 163.2,734.2 172.1,733 185.6,733.4 197.5,734.8 200.5,737.4 205,743.4 206.5,744.9 208,745.7 209.4,745.7 212.4,744.8 222.9,738.2 227.3,736.7 230.3,736.9 233.3,737.8 246.7,744.6 249.7,745.6 252.7,746.1 257.2,745.3 269.1,739.6 273.6,738.6 290,739.2 324.3,742 330.3,742.2 L330.3,784.5 L67.7,784.5Z" fill="#2068b0"/>
<path d="M67.7,763 112.5,766.3 131.9,767 133.4,766.6 136.3,764.4 142.3,758.8 149.8,750.9 152.7,748.6 163.2,745.2 172.1,744 185.6,744.5 197.5,746.1 200.5,748.5 205,753.9 206.5,755.2 208,755.9 209.4,755.9 212.4,755.2 222.9,749.4 227.3,748 230.3,748.2 233.3,749 246.7,755.6 249.7,756.6 252.7,757 257.2,756.3 269.1,751 273.6,750 290,750.5 330.3,753 L330.3,784.5 L67.7,784.5Z" fill="#3c5cd0"/>
<path d="M67.7,776.5 112.5,779 131.9,779.5 133.4,779 134.8,777.9 148.3,762.8 152.7,758.7 161.7,755 166.2,753.8 170.7,753.1 184.1,753.2 197.5,754.1 200.5,756.1 205,761 208,762.9 212.4,762.3 222.9,757.2 227.3,756 230.3,756.2 233.3,757 246.7,763.2 249.7,764.1 252.7,764.5 257.2,763.8 269.1,758.9 273.6,758 290,758.4 330.3,760.5 L330.3,784.5 L67.7,784.5Z" fill="#4048d8"/>
<path d="M67.7,784.5 137.8,784.5 139.3,784.1 148.3,773.2 152.7,768.8 163.2,763.9 167.7,762.6 172.1,762 197.5,762 200.5,763.8 205,768.2 208,769.9 212.4,769.4 224.4,764.5 227.3,764 230.3,764.2 234.8,765.5 246.7,770.7 252.7,772 257.2,771.4 269.1,766.8 273.6,766 290,766.3 330.3,768 L330.3,784.5 L67.7,784.5Z" fill="#4438f0"/>
<path d="M67.7,784.5 151.3,784.5 164.7,781.7 173.6,781 197.5,781 200.5,781.9 206.5,784.5 213.9,784.4 222.9,782.5 227.3,782 233.3,782.5 243.8,784.5 263.2,784.5 273.6,783 330.3,784 L330.3,784.5 L67.7,784.5Z" fill="#412dfa"/>
<path d="M80,627 H94 V633 C94,638 91,639 87,639 C83,639 80,638 80,633Z" fill="#d00010"/></g></g>
<rect x="70.7" y="626.4" width="271.3" height="155.1" fill="none" stroke="#1a1a1a" stroke-width="1.3"/>
<path d="M70.7,626.4V622.4M70.7,781.5V786M115.9,626.4V622.4M115.9,781.5V786M161.1,626.4V622.4M161.1,781.5V786M206.4,626.4V622.4M206.4,781.5V786M251.6,626.4V622.4M251.6,781.5V786M296.8,626.4V622.4M296.8,781.5V786M342,626.4V622.4M342,781.5V786M70.7,630H62.4M342,630H350.3M70.7,636.3H62.4M342,636.3H350.3M70.7,642.6H62.4M342,642.6H350.3M70.7,648.9H62.4M342,648.9H350.3M70.7,655.2H62.4M342,655.2H350.3M70.7,661.6H62.4M342,661.6H350.3M70.7,667.9H62.4M342,667.9H350.3M70.7,674.2H62.4M342,674.2H350.3M70.7,680.5H62.4M342,680.5H350.3M70.7,686.8H62.4M342,686.8H350.3M70.7,693.1H62.4M342,693.1H350.3M70.7,699.4H62.4M342,699.4H350.3M70.7,705.8H62.4M342,705.8H350.3M70.7,712.1H62.4M342,712.1H350.3M70.7,718.4H62.4M342,718.4H350.3M70.7,724.7H62.4M342,724.7H350.3M70.7,731H62.4M342,731H350.3M70.7,737.3H62.4M342,737.3H350.3M70.7,743.6H62.4M342,743.6H350.3M70.7,749.9H62.4M342,749.9H350.3M70.7,756.2H62.4M342,756.2H350.3M70.7,762.6H62.4M342,762.6H350.3M70.7,768.9H62.4M342,768.9H350.3M70.7,775.2H62.4M342,775.2H350.3M70.7,781.5H62.4M342,781.5H350.3" stroke="#1a1a1a" stroke-width="1.3" fill="none"/>
<text x="129.6" y="616.5" font-family="Liberation Sans" font-size="21" font-weight="bold" text-anchor="start" fill="#000" textLength="59.4" lengthAdjust="spacingAndGlyphs" >Exp5</text>
<text x="53.9" y="636.1" font-family="Liberation Serif" font-size="14.5" font-weight="normal" text-anchor="end" fill="#000" textLength="16.8" lengthAdjust="spacingAndGlyphs" stroke="#000" stroke-width="0.45">10</text>
<text x="53.9" y="648.8" font-family="Liberation Serif" font-size="14.5" font-weight="normal" text-anchor="end" fill="#000" textLength="16.8" lengthAdjust="spacingAndGlyphs" stroke="#000" stroke-width="0.45">30</text>
<text x="53.9" y="661.5" font-family="Liberation Serif" font-size="14.5" font-weight="normal" text-anchor="end" fill="#000" textLength="16.8" lengthAdjust="spacingAndGlyphs" stroke="#000" stroke-width="0.45">50</text>
<text x="53.9" y="674.2" font-family="Liberation Serif" font-size="14.5" font-weight="normal" text-anchor="end" fill="#000" textLength="16.8" lengthAdjust="spacingAndGlyphs" stroke="#000" stroke-width="0.45">70</text>
<text x="53.9" y="686.9" font-family="Liberation Serif" font-size="14.5" font-weight="normal" text-anchor="end" fill="#000" textLength="16.8" lengthAdjust="spacingAndGlyphs" stroke="#000" stroke-width="0.45">90</text>
<text x="53.9" y="699.6" font-family="Liberation Serif" font-size="14.5" font-weight="normal" text-anchor="end" fill="#000" textLength="25.2" lengthAdjust="spacingAndGlyphs" stroke="#000" stroke-width="0.45">110</text>
<text x="53.9" y="712.3" font-family="Liberation Serif" font-size="14.5" font-weight="normal" text-anchor="end" fill="#000" textLength="25.2" lengthAdjust="spacingAndGlyphs" stroke="#000" stroke-width="0.45">130</text>
<text x="53.9" y="725" font-family="Liberation Serif" font-size="14.5" font-weight="normal" text-anchor="end" fill="#000" textLength="25.2" lengthAdjust="spacingAndGlyphs" stroke="#000" stroke-width="0.45">150</text>
<text x="53.9" y="737.7" font-family="Liberation Serif" font-size="14.5" font-weight="normal" text-anchor="end" fill="#000" textLength="25.2" lengthAdjust="spacingAndGlyphs" stroke="#000" stroke-width="0.45">170</text>
<text x="53.9" y="750.4" font-family="Liberation Serif" font-size="14.5" font-weight="normal" text-anchor="end" fill="#000" textLength="25.2" lengthAdjust="spacingAndGlyphs" stroke="#000" stroke-width="0.45">190</text>
<text x="53.9" y="763.1" font-family="Liberation Serif" font-size="14.5" font-weight="normal" text-anchor="end" fill="#000" textLength="25.2" lengthAdjust="spacingAndGlyphs" stroke="#000" stroke-width="0.45">210</text>
<text x="53.9" y="775.8" font-family="Liberation Serif" font-size="14.5" font-weight="normal" text-anchor="end" fill="#000" textLength="25.2" lengthAdjust="spacingAndGlyphs" stroke="#000" stroke-width="0.45">230</text>
<text x="53.9" y="788.5" font-family="Liberation Serif" font-size="14.5" font-weight="normal" text-anchor="end" fill="#000" textLength="25.2" lengthAdjust="spacingAndGlyphs" stroke="#000" stroke-width="0.45">250</text>
<text transform="translate(12.2,712) rotate(-90)" font-family="Liberation Sans" font-size="15.5" text-anchor="middle" textLength="74.3" lengthAdjust="spacingAndGlyphs">Depth (m)</text>
<clipPath id="cR4"><rect x="398.8" y="626.6" width="260.4" height="154.6"/></clipPath><g clip-path="url(#cR4)"><g filter="url(#soft)"><rect x="395.8" y="623.6" width="266.4" height="160.6" fill="#d00010"/>
<path d="M395.8,625 662.2,625 L662.2,784.2 L395.8,784.2Z" fill="#e80008"/>
<path d="M395.8,644.6 457.2,645 460.2,644.7 461.7,626.6 463.1,625 662.2,625 L662.2,784.2 L395.8,784.2Z" fill="#ff0000"/>
<path d="M395.8,648.5 451.2,650.3 472.1,650.4 487.1,649.9 490.1,625 609.8,625 611.3,625.8 612.8,641.3 614.3,650 662.2,650 L662.2,784.2 L395.8,784.2Z" fill="#ff2800"/>
<path d="M395.8,656 576.9,659.8 662.2,660 L662.2,784.2 L395.8,784.2Z" fill="#ff4000"/>
<path d="M395.8,662 662.2,664 L662.2,784.2 L395.8,784.2Z" fill="#ff5800"/>
<path d="M395.8,664.9 662.2,666.8 L662.2,784.2 L395.8,784.2Z" fill="#ff7800"/>
<path d="M395.8,667.8 530.5,668.9 570.9,668.5 662.2,669.5 L662.2,784.2 L395.8,784.2Z" fill="#ff9000"/>
<path d="M395.8,670.7 530.5,671.8 570.9,671 662.2,672.3 L662.2,784.2 L395.8,784.2Z" fill="#ffa800"/>
<path d="M395.8,673.6 449.7,673.7 464.6,674.2 530.5,674.7 570.9,673.6 662.2,675.1 L662.2,784.2 L395.8,784.2Z" fill="#ffc000"/>
<path d="M395.8,676.5 449.7,676.6 464.6,677.2 530.5,677.6 570.9,676.2 602.3,677 662.2,677.8 L662.2,784.2 L395.8,784.2Z" fill="#ffd800"/>
<path d="M395.8,679.4 449.7,679.4 464.6,680.1 530.5,680.5 570.9,678.7 602.3,679.7 662.2,680.6 L662.2,784.2 L395.8,784.2Z" fill="#fff800"/>
<path d="M395.8,682 449.7,682 464.6,682.7 530.5,683.1 570.9,681.2 602.3,682.2 662.2,683.1 L662.2,784.2 L395.8,784.2Z" fill="#e8ff00"/>
<path d="M395.8,684.4 449.7,684.4 464.6,685.1 530.5,685.4 570.9,683.6 602.3,684.5 662.2,685.4 L662.2,784.2 L395.8,784.2Z" fill="#e0f810"/>
<path d="M395.8,686.8 449.7,686.8 464.6,687.4 530.5,687.7 570.9,685.9 602.3,686.8 662.2,687.6 L662.2,784.2 L395.8,784.2Z" fill="#d0f018"/>
<path d="M395.8,689.2 449.7,689.1 464.6,689.7 530.5,690 570.9,688.3 602.3,689.1 662.2,689.8 L662.2,784.2 L395.8,784.2Z" fill="#b0e008"/>
<path d="M395.8,691.6 449.7,691.5 464.6,692.1 530.5,692.3 570.9,690.7 602.3,691.4 662.2,692.1 L662.2,784.2 L395.8,784.2Z" fill="#a0d810"/>
<path d="M395.8,694 449.7,693.9 464.6,694.4 530.5,694.6 570.9,693.1 602.3,693.8 662.2,694.3 L662.2,784.2 L395.8,784.2Z" fill="#98d818"/>
<path d="M395.8,697.5 449.7,697.4 464.6,697.8 530.5,697.9 570.9,696.6 662.2,697.6 L662.2,784.2 L395.8,784.2Z" fill="#78c820"/>
<path d="M395.8,701 449.7,700.9 464.6,701.2 530.5,701.3 570.9,700.1 662.2,700.9 L662.2,784.2 L395.8,784.2Z" fill="#68c028"/>
<path d="M395.8,704.6 530.5,704.6 570.9,703.6 662.2,704.1 L662.2,784.2 L395.8,784.2Z" fill="#58b830"/>
<path d="M395.8,708.1 530.5,708 570.9,707 662.2,707.4 L662.2,784.2 L395.8,784.2Z" fill="#40b438"/>
<path d="M395.8,712.9 530.5,712.5 570.9,711.8 662.2,711.9 L662.2,784.2 L395.8,784.2Z" fill="#28ac40"/>
<path d="M395.8,717.6 530.5,717.1 570.9,716.5 662.2,716.3 L662.2,784.2 L395.8,784.2Z" fill="#28a848"/>
<path d="M395.8,722.4 662.2,720.8 L662.2,784.2 L395.8,784.2Z" fill="#10a048"/>
<path d="M395.8,726.8 662.2,725.2 L662.2,784.2 L395.8,784.2Z" fill="#089858"/>
<path d="M395.8,730.7 662.2,729.6 L662.2,784.2 L395.8,784.2Z" fill="#208870"/>
<path d="M395.8,734.6 662.2,733.9 L662.2,784.2 L395.8,784.2Z" fill="#18808c"/>
<path d="M395.8,738.5 662.2,738.3 L662.2,784.2 L395.8,784.2Z" fill="#2070a0"/>
<path d="M395.8,746.3 662.2,746.3 L662.2,784.2 L395.8,784.2Z" fill="#2068b0"/>
<path d="M395.8,758 662.2,758 L662.2,784.2 L395.8,784.2Z" fill="#3c5cd0"/>
<path d="M395.8,765 662.2,765 L662.2,784.2 L395.8,784.2Z" fill="#4048d8"/>
<path d="M395.8,772 662.2,772 L662.2,784.2 L395.8,784.2Z" fill="#4438f0"/>
<path d="M395.8,783.5 662.2,783.5 L662.2,784.2 L395.8,784.2Z" fill="#412dfa"/></g></g>
<rect x="398.8" y="626.6" width="272.3" height="154.6" fill="none" stroke="#1a1a1a" stroke-width="1.3"/>
<path d="M398.8,626.6V622.6M398.8,781.2V785.7M444.2,626.6V622.6M444.2,781.2V785.7M489.6,626.6V622.6M489.6,781.2V785.7M535,626.6V622.6M535,781.2V785.7M580.3,626.6V622.6M580.3,781.2V785.7M625.7,626.6V622.6M625.7,781.2V785.7M671.1,626.6V622.6M671.1,781.2V785.7M398.8,630.2H390.5M671.1,630.2H679.4M398.8,636.5H390.5M671.1,636.5H679.4M398.8,642.8H390.5M671.1,642.8H679.4M398.8,649.1H390.5M671.1,649.1H679.4M398.8,655.4H390.5M671.1,655.4H679.4M398.8,661.7H390.5M671.1,661.7H679.4M398.8,668H390.5M671.1,668H679.4M398.8,674.2H390.5M671.1,674.2H679.4M398.8,680.5H390.5M671.1,680.5H679.4M398.8,686.8H390.5M671.1,686.8H679.4M398.8,693.1H390.5M671.1,693.1H679.4M398.8,699.4H390.5M671.1,699.4H679.4M398.8,705.7H390.5M671.1,705.7H679.4M398.8,712H390.5M671.1,712H679.4M398.8,718.3H390.5M671.1,718.3H679.4M398.8,724.6H390.5M671.1,724.6H679.4M398.8,730.9H390.5M671.1,730.9H679.4M398.8,737.2H390.5M671.1,737.2H679.4M398.8,743.5H390.5M671.1,743.5H679.4M398.8,749.7H390.5M671.1,749.7H679.4M398.8,756H390.5M671.1,756H679.4M398.8,762.3H390.5M671.1,762.3H679.4M398.8,768.6H390.5M671.1,768.6H679.4M398.8,774.9H390.5M671.1,774.9H679.4M398.8,781.2H390.5M671.1,781.2H679.4" stroke="#1a1a1a" stroke-width="1.3" fill="none"/>
<text x="514.9" y="616.5" font-family="Liberation Sans" font-size="21" font-weight="bold" text-anchor="start" fill="#000" textLength="60.2" lengthAdjust="spacingAndGlyphs" >Exp5</text>
<text x="93.9" y="808.1" font-family="Liberation Serif" font-size="17" text-anchor="middle" textLength="19" lengthAdjust="spacing" stroke="#000" stroke-width="0.2">10</text>
<text x="139" y="808.1" font-family="Liberation Serif" font-size="17" text-anchor="middle" textLength="19" lengthAdjust="spacing" stroke="#000" stroke-width="0.2">11</text>
<text x="184.2" y="808.1" font-family="Liberation Serif" font-size="17" text-anchor="middle" textLength="19" lengthAdjust="spacing" stroke="#000" stroke-width="0.2">12</text>
<text x="229.5" y="808.1" font-family="Liberation Serif" font-size="17" text-anchor="middle" textLength="19" lengthAdjust="spacing" stroke="#000" stroke-width="0.2">13</text>
<text x="274.8" y="808.1" font-family="Liberation Serif" font-size="17" text-anchor="middle" textLength="19" lengthAdjust="spacing" stroke="#000" stroke-width="0.2">14</text>
<text x="320" y="808.1" font-family="Liberation Serif" font-size="17" text-anchor="middle" textLength="19" lengthAdjust="spacing" stroke="#000" stroke-width="0.2">15</text>
<text x="423.2" y="808.1" font-family="Liberation Serif" font-size="17" text-anchor="middle" textLength="19" lengthAdjust="spacing" stroke="#000" stroke-width="0.2">10</text>
<text x="467.7" y="808.1" font-family="Liberation Serif" font-size="17" text-anchor="middle" textLength="19" lengthAdjust="spacing" stroke="#000" stroke-width="0.2">11</text>
<text x="513.6" y="808.1" font-family="Liberation Serif" font-size="17" text-anchor="middle" textLength="19" lengthAdjust="spacing" stroke="#000" stroke-width="0.2">12</text>
<text x="558.6" y="808.1" font-family="Liberation Serif" font-size="17" text-anchor="middle" textLength="19" lengthAdjust="spacing" stroke="#000" stroke-width="0.2">13</text>
<text x="603.8" y="808.1" font-family="Liberation Serif" font-size="17" text-anchor="middle" textLength="19" lengthAdjust="spacing" stroke="#000" stroke-width="0.2">14</text>
<text x="649.5" y="808.1" font-family="Liberation Serif" font-size="17" text-anchor="middle" textLength="19" lengthAdjust="spacing" stroke="#000" stroke-width="0.2">15</text>
<text transform="translate(206.3,840.2) scale(0.83,1)" font-family="Liberation Serif" font-size="27" fill="#000">O</text>
<text transform="translate(225.2,840.2) scale(0.85,1)" font-family="Liberation Serif" font-size="27" fill="#000">C</text>
<text transform="translate(240.5,840.2) scale(0.95,1)" font-family="Liberation Serif" font-size="27" fill="#000">T</text>
<text transform="translate(533.9,840.2) scale(0.83,1)" font-family="Liberation Serif" font-size="27" fill="#000">O</text>
<text transform="translate(552.3,840.2) scale(0.87,1)" font-family="Liberation Serif" font-size="27" fill="#000">C</text>
<text transform="translate(569,840.2) scale(0.95,1)" font-family="Liberation Serif" font-size="27" fill="#000">T</text>
<text x="294.6" y="840.2" font-family="Liberation Sans" font-size="24.4" font-weight="normal" text-anchor="start" fill="#000" textLength="141" lengthAdjust="spacingAndGlyphs" >Temperature</text>
<text x="447" y="840.2" font-family="Liberation Sans" font-size="24.4" font-weight="normal" text-anchor="start" fill="#000" textLength="44" lengthAdjust="spacingAndGlyphs" >(<tspan font-weight="bold">°C</tspan>)</text>
<circle cx="442.6" cy="835.2" r="0.8" fill="#777"/>
<text x="93.9" y="403.3" font-family="Liberation Serif" font-size="16.5" font-weight="normal" text-anchor="middle" fill="#ececec" textLength="18.5" lengthAdjust="spacingAndGlyphs" clip-path="url(#ghost)">10</text>
<text x="139" y="403.3" font-family="Liberation Serif" font-size="16.5" font-weight="normal" text-anchor="middle" fill="#ececec" textLength="18.5" lengthAdjust="spacingAndGlyphs" clip-path="url(#ghost)">11</text>
<text x="184.2" y="403.3" font-family="Liberation Serif" font-size="16.5" font-weight="normal" text-anchor="middle" fill="#ececec" textLength="18.5" lengthAdjust="spacingAndGlyphs" clip-path="url(#ghost)">12</text>
<text x="229.5" y="403.3" font-family="Liberation Serif" font-size="16.5" font-weight="normal" text-anchor="middle" fill="#ececec" textLength="18.5" lengthAdjust="spacingAndGlyphs" clip-path="url(#ghost)">13</text>
<text x="274.8" y="403.3" font-family="Liberation Serif" font-size="16.5" font-weight="normal" text-anchor="middle" fill="#ececec" textLength="18.5" lengthAdjust="spacingAndGlyphs" clip-path="url(#ghost)">14</text>
<text x="320" y="403.3" font-family="Liberation Serif" font-size="16.5" font-weight="normal" text-anchor="middle" fill="#ececec" textLength="18.5" lengthAdjust="spacingAndGlyphs" clip-path="url(#ghost)">15</text>
<text x="423.2" y="403.3" font-family="Liberation Serif" font-size="16.5" font-weight="normal" text-anchor="middle" fill="#ececec" textLength="18.5" lengthAdjust="spacingAndGlyphs" clip-path="url(#ghost)">10</text>
<text x="467.7" y="403.3" font-family="Liberation Serif" font-size="16.5" font-weight="normal" text-anchor="middle" fill="#ececec" textLength="18.5" lengthAdjust="spacingAndGlyphs" clip-path="url(#ghost)">11</text>
<text x="513.6" y="403.3" font-family="Liberation Serif" font-size="16.5" font-weight="normal" text-anchor="middle" fill="#ececec" textLength="18.5" lengthAdjust="spacingAndGlyphs" clip-path="url(#ghost)">12</text>
<text x="558.6" y="403.3" font-family="Liberation Serif" font-size="16.5" font-weight="normal" text-anchor="middle" fill="#ececec" textLength="18.5" lengthAdjust="spacingAndGlyphs" clip-path="url(#ghost)">13</text>
<text x="603.8" y="403.3" font-family="Liberation Serif" font-size="16.5" font-weight="normal" text-anchor="middle" fill="#ececec" textLength="18.5" lengthAdjust="spacingAndGlyphs" clip-path="url(#ghost)">14</text>
<text x="649.5" y="403.3" font-family="Liberation Serif" font-size="16.5" font-weight="normal" text-anchor="middle" fill="#ececec" textLength="18.5" lengthAdjust="spacingAndGlyphs" clip-path="url(#ghost)">15</text>
<rect x="79.6" y="859.6" width="15.3" height="23.4" fill="#af0fd7"/>
<rect x="94.7" y="859.6" width="15.3" height="23.4" fill="#9119af"/>
<rect x="109.8" y="859.6" width="15.3" height="23.4" fill="#6928cd"/>
<rect x="124.8" y="859.6" width="15.3" height="23.4" fill="#412dfa"/>
<rect x="139.9" y="859.6" width="15.3" height="23.4" fill="#4438f0"/>
<rect x="155" y="859.6" width="15.3" height="23.4" fill="#4048d8"/>
<rect x="170.1" y="859.6" width="15.3" height="23.4" fill="#3c5cd0"/>
<rect x="185.2" y="859.6" width="15.3" height="23.4" fill="#2068b0"/>
<rect x="200.2" y="859.6" width="15.3" height="23.4" fill="#2070a0"/>
<rect x="215.3" y="859.6" width="15.3" height="23.4" fill="#18808c"/>
<rect x="230.4" y="859.6" width="15.3" height="23.4" fill="#208870"/>
<rect x="245.5" y="859.6" width="15.3" height="23.4" fill="#089858"/>
<rect x="260.5" y="859.6" width="15.3" height="23.4" fill="#10a048"/>
<rect x="275.6" y="859.6" width="15.3" height="23.4" fill="#28a848"/>
<rect x="290.7" y="859.6" width="15.3" height="23.4" fill="#28ac40"/>
<rect x="305.8" y="859.6" width="15.3" height="23.4" fill="#40b438"/>
<rect x="320.9" y="859.6" width="15.3" height="23.4" fill="#58b830"/>
<rect x="335.9" y="859.6" width="15.3" height="23.4" fill="#68c028"/>
<rect x="351" y="859.6" width="15.3" height="23.4" fill="#78c820"/>
<rect x="366.1" y="859.6" width="15.3" height="23.4" fill="#98d818"/>
<rect x="381.2" y="859.6" width="15.3" height="23.4" fill="#a0d810"/>
<rect x="396.3" y="859.6" width="15.3" height="23.4" fill="#b0e008"/>
<rect x="411.3" y="859.6" width="15.3" height="23.4" fill="#d0f018"/>
<rect x="426.4" y="859.6" width="15.3" height="23.4" fill="#e0f810"/>
<rect x="441.5" y="859.6" width="15.3" height="23.4" fill="#e8ff00"/>
<rect x="456.6" y="859.6" width="15.3" height="23.4" fill="#fff800"/>
<rect x="471.7" y="859.6" width="15.3" height="23.4" fill="#ffd800"/>
<rect x="486.7" y="859.6" width="15.3" height="23.4" fill="#ffc000"/>
<rect x="501.8" y="859.6" width="15.3" height="23.4" fill="#ffa800"/>
<rect x="516.9" y="859.6" width="15.3" height="23.4" fill="#ff9000"/>
<rect x="532" y="859.6" width="15.3" height="23.4" fill="#ff7800"/>
<rect x="547" y="859.6" width="15.3" height="23.4" fill="#ff5800"/>
<rect x="562.1" y="859.6" width="15.3" height="23.4" fill="#ff4000"/>
<rect x="577.2" y="859.6" width="15.3" height="23.4" fill="#ff2800"/>
<rect x="592.3" y="859.6" width="15.3" height="23.4" fill="#ff0000"/>
<rect x="607.4" y="859.6" width="15.3" height="23.4" fill="#e80008"/>
<rect x="622.4" y="859.6" width="15.3" height="23.4" fill="#d00010"/>
<rect x="637.5" y="859.6" width="15.3" height="23.4" fill="#c80038"/>
<path d="M79.6,859.6 L48.6,871.4 L79.6,883Z" fill="#d200f0" stroke="#111" stroke-width="1.2"/>
<path d="M652.6,859.6 L683.5,871.4 L652.6,883Z" fill="#a00050" stroke="#111" stroke-width="1.2"/>
<path d="M79.6,859.6V883M94.7,859.6V883M109.8,859.6V883M124.8,859.6V883M139.9,859.6V883M155,859.6V883M170.1,859.6V883M185.2,859.6V883M200.2,859.6V883M215.3,859.6V883M230.4,859.6V883M245.5,859.6V883M260.5,859.6V883M275.6,859.6V883M290.7,859.6V883M305.8,859.6V883M320.9,859.6V883M335.9,859.6V883M351,859.6V883M366.1,859.6V883M381.2,859.6V883M396.3,859.6V883M411.3,859.6V883M426.4,859.6V883M441.5,859.6V883M456.6,859.6V883M471.7,859.6V883M486.7,859.6V883M501.8,859.6V883M516.9,859.6V883M532,859.6V883M547,859.6V883M562.1,859.6V883M577.2,859.6V883M592.3,859.6V883M607.4,859.6V883M622.4,859.6V883M637.5,859.6V883M652.6,859.6V883" stroke="#111" stroke-width="1.2"/>
<rect x="79.6" y="859.6" width="573" height="23.4" fill="none" stroke="#111" stroke-width="1.2"/>
<text x="79.6" y="902" font-family="Liberation Serif" font-size="17" text-anchor="middle" textLength="19.5" lengthAdjust="spacing" stroke="#000" stroke-width="0.2">11</text>
<text x="139.9" y="902" font-family="Liberation Serif" font-size="17" text-anchor="middle" textLength="19.5" lengthAdjust="spacing" stroke="#000" stroke-width="0.2">13</text>
<text x="200.2" y="902" font-family="Liberation Serif" font-size="17" text-anchor="middle" textLength="19.5" lengthAdjust="spacing" stroke="#000" stroke-width="0.2">15</text>
<text x="260.5" y="902" font-family="Liberation Serif" font-size="17" text-anchor="middle" textLength="19.5" lengthAdjust="spacing" stroke="#000" stroke-width="0.2">17</text>
<text x="320.9" y="902" font-family="Liberation Serif" font-size="17" text-anchor="middle" textLength="19.5" lengthAdjust="spacing" stroke="#000" stroke-width="0.2">19</text>
<text x="381.2" y="902" font-family="Liberation Serif" font-size="17" text-anchor="middle" textLength="19.5" lengthAdjust="spacing" stroke="#000" stroke-width="0.2">21</text>
<text x="441.5" y="902" font-family="Liberation Serif" font-size="17" text-anchor="middle" textLength="19.5" lengthAdjust="spacing" stroke="#000" stroke-width="0.2">23</text>
<text x="501.8" y="902" font-family="Liberation Serif" font-size="17" text-anchor="middle" textLength="19.5" lengthAdjust="spacing" stroke="#000" stroke-width="0.2">25</text>
<text x="562.1" y="902" font-family="Liberation Serif" font-size="17" text-anchor="middle" textLength="19.5" lengthAdjust="spacing" stroke="#000" stroke-width="0.2">27</text>
<text x="622.4" y="902" font-family="Liberation Serif" font-size="17" text-anchor="middle" textLength="19.5" lengthAdjust="spacing" stroke="#000" stroke-width="0.2">29</text>
</svg></body></html>
